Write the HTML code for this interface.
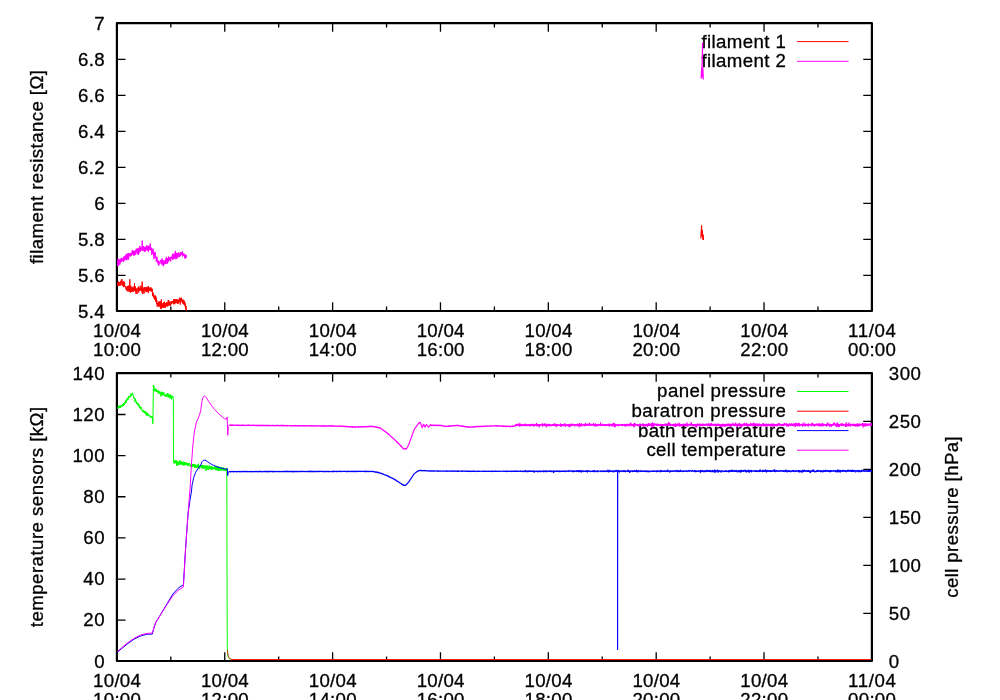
<!DOCTYPE html>
<html lang="en"><head><meta charset="utf-8"><title>filament resistance / temperature sensors</title>
<style>html,body{margin:0;padding:0;background:#fff;overflow:hidden}svg{display:block}text{font-family:"Liberation Sans", Arial, Helvetica, sans-serif;font-size:18.67px;fill:#000;stroke:#000;stroke-width:0.3px}</style>
</head><body>
<svg width="1000" height="700" viewBox="0 0 1000 700">
<rect width="1000" height="700" fill="#fff"/>
<g id="plot1">
<path d="M116.9 311.3h8.6M871.9 311.3h-8.6M116.9 275.31h8.6M871.9 275.31h-8.6M116.9 239.31h8.6M871.9 239.31h-8.6M116.9 203.32h8.6M871.9 203.32h-8.6M116.9 167.33h8.6M871.9 167.33h-8.6M116.9 131.33h8.6M871.9 131.33h-8.6M116.9 95.34h8.6M871.9 95.34h-8.6M116.9 59.34h8.6M871.9 59.34h-8.6M116.9 23.35h8.6M871.9 23.35h-8.6M116.9 311v-8.8M116.9 23.05v8.8M170.83 311v-4.5M170.83 23.05v4.5M224.76 311v-8.8M224.76 23.05v8.8M278.69 311v-4.5M278.69 23.05v4.5M332.61 311v-8.8M332.61 23.05v8.8M386.54 311v-4.5M386.54 23.05v4.5M440.47 311v-8.8M440.47 23.05v8.8M494.4 311v-4.5M494.4 23.05v4.5M548.33 311v-8.8M548.33 23.05v8.8M602.26 311v-4.5M602.26 23.05v4.5M656.19 311v-8.8M656.19 23.05v8.8M710.11 311v-4.5M710.11 23.05v4.5M764.04 311v-8.8M764.04 23.05v8.8M817.97 311v-4.5M817.97 23.05v4.5M871.9 311v-8.8M871.9 23.05v8.8" stroke="#000" stroke-width="1.3" fill="none"/>
<rect x="116.9" y="23.05" width="755" height="287.95" fill="none" stroke="#000" stroke-width="2.2" stroke-linejoin="round"/>
<text x="104.6" y="317.6" text-anchor="end" textLength="26.7">5.4</text>
<text x="104.6" y="281.61" text-anchor="end" textLength="26.7">5.6</text>
<text x="104.6" y="245.61" text-anchor="end" textLength="26.7">5.8</text>
<text x="104.6" y="209.62" text-anchor="end">6</text>
<text x="104.6" y="173.62" text-anchor="end" textLength="26.7">6.2</text>
<text x="104.6" y="137.63" text-anchor="end" textLength="26.7">6.4</text>
<text x="104.6" y="101.64" text-anchor="end" textLength="26.7">6.6</text>
<text x="104.6" y="65.64" text-anchor="end" textLength="26.7">6.8</text>
<text x="104.6" y="29.65" text-anchor="end">7</text>
<text x="117" y="336.8" text-anchor="middle" textLength="47.8">10/04</text>
<text x="117" y="356" text-anchor="middle" textLength="47.8">10:00</text>
<text x="224.86" y="336.8" text-anchor="middle" textLength="47.8">10/04</text>
<text x="224.86" y="356" text-anchor="middle" textLength="47.8">12:00</text>
<text x="332.71" y="336.8" text-anchor="middle" textLength="47.8">10/04</text>
<text x="332.71" y="356" text-anchor="middle" textLength="47.8">14:00</text>
<text x="440.57" y="336.8" text-anchor="middle" textLength="47.8">10/04</text>
<text x="440.57" y="356" text-anchor="middle" textLength="47.8">16:00</text>
<text x="548.43" y="336.8" text-anchor="middle" textLength="47.8">10/04</text>
<text x="548.43" y="356" text-anchor="middle" textLength="47.8">18:00</text>
<text x="656.29" y="336.8" text-anchor="middle" textLength="47.8">10/04</text>
<text x="656.29" y="356" text-anchor="middle" textLength="47.8">20:00</text>
<text x="764.14" y="336.8" text-anchor="middle" textLength="47.8">10/04</text>
<text x="764.14" y="356" text-anchor="middle" textLength="47.8">22:00</text>
<text x="872" y="336.8" text-anchor="middle" textLength="47.8">11/04</text>
<text x="872" y="356" text-anchor="middle" textLength="47.8">00:00</text>
<text transform="translate(43.3 167.03) rotate(-90)" text-anchor="middle" textLength="194.0" lengthAdjust="spacing">filament resistance [Ω]</text>
<text x="785.9" y="47.5" text-anchor="end" textLength="84.5" lengthAdjust="spacing">filament 1</text>
<path d="M797 41.6H848.5" stroke="#ff0000" stroke-width="1" fill="none"/>
<polyline points="117.5,284.19 117.62,285.36 117.74,283 117.86,284.09 117.98,286.04 118.1,284.72 118.22,281.6 118.34,285.58 118.46,281.45 118.58,281.31 118.7,284.53 118.82,283.91 118.94,284.43 119.06,284.51 119.18,284.71 119.3,285.68 119.42,283.16 119.54,283.48 119.66,282.88 119.78,282.01 119.9,282.2 120.02,283.82 120.14,283.45 120.26,285.41 120.38,283.1 120.5,281.9 120.62,280.81 120.74,284.42 120.86,285.35 120.98,283.57 121.1,283.92 121.22,281.9 121.34,281.27 121.46,281.92 121.58,280.38 121.7,283.19 121.82,279.89 121.94,279.02 122.06,281.38 122.18,284.86 122.3,283.81 122.42,284.24 122.54,284.49 122.66,284.66 122.78,285.44 122.9,284.88 123.02,285.51 123.14,281.38 123.26,282.31 123.38,287.1 123.5,285.17 123.62,285.81 123.74,282.16 123.86,284.36 123.98,281.52 124.1,283.66 124.22,283.61 124.34,283.89 124.46,286.25 124.58,282.56 124.7,285.28 124.82,286.45 124.94,287.13 125.06,286.7 125.18,286.41 125.3,286.51 125.42,286.38 125.54,286.99 125.66,287.54 125.78,287.89 125.9,289.24 126.02,289.28 126.14,286.53 126.26,287.37 126.38,287.13 126.5,290.5 126.62,289.47 126.74,287.1 126.86,289.73 126.98,288.23 127.1,287.58 127.22,286.92 127.34,288.46 127.46,286.34 127.58,288.88 127.7,291.37 127.82,289.61 127.94,285.91 128.06,287.29 128.18,288.72 128.3,288.75 128.42,290.3 128.54,285.62 128.66,290.5 128.78,288.63 128.9,290.32 129.02,290.2 129.14,291.82 129.26,287.46 129.38,290.1 129.5,287.93 129.62,286.83 129.74,288.81 129.8,279.3 129.86,289.94 129.98,291.14 130.1,285.74 130.22,292.23 130.34,288.96 130.46,291.82 130.58,292.62 130.7,291.87 130.82,285.82 130.94,288.99 131.06,289.54 131.18,288.65 131.3,288.22 131.42,291.87 131.54,287.64 131.66,289.48 131.78,290.94 131.9,289.06 132.02,290.21 132.14,287.76 132.26,290.35 132.38,291.44 132.5,288.87 132.62,291.51 132.74,286.81 132.86,290.65 132.98,291.4 133.1,288.91 133.22,291.52 133.34,291.41 133.46,291.07 133.58,290.07 133.7,287.91 133.82,291.28 133.94,288.9 134.06,287.35 134.18,289.61 134.3,286.02 134.42,290.32 134.5,283 134.54,290.96 134.66,289.36 134.78,290.27 134.9,289.07 135.02,290.87 135.14,290.32 135.26,290.52 135.38,286.47 135.5,289.32 135.62,289.05 135.74,290.55 135.86,293.68 135.98,292.82 136.1,289.61 136.22,288.35 136.34,289.66 136.46,289.74 136.58,289.49 136.7,291.23 136.82,289.96 136.94,294.07 137.06,291.62 137.18,290.79 137.3,290.57 137.42,289.69 137.54,290.64 137.66,290.32 137.78,288.68 137.9,287.56 138.02,288.73 138.14,289.16 138.26,288.24 138.38,287.89 138.5,287.65 138.62,292.71 138.74,291.1 138.86,286.34 138.98,288.6 139.1,288.64 139.22,289.6 139.34,290.82 139.46,290.13 139.58,289.88 139.7,288.48 139.82,289.62 139.94,290.05 140.06,289.59 140.18,287.79 140.3,290.5 140.42,289.5 140.54,286.77 140.66,289.9 140.78,288.07 140.9,285.59 141.02,289.19 141.14,287.61 141.26,290.59 141.38,290.08 141.5,289.77 141.62,290.75 141.74,291.44 141.86,288.07 141.98,289.33 142.1,291.51 142.2,281.6 142.22,289.44 142.34,293.84 142.46,289.89 142.58,293.88 142.7,291.28 142.82,289.71 142.94,289.2 143.06,291.47 143.18,289.27 143.3,289.9 143.42,289.84 143.54,291.7 143.66,288.18 143.78,287.44 143.9,287.41 144.02,293.63 144.14,289.21 144.26,289.11 144.38,287.66 144.5,287.59 144.62,287.56 144.74,289.14 144.86,290.38 144.98,287.5 145.1,288.96 145.22,288.27 145.34,288.85 145.46,289.89 145.58,287.74 145.7,287.67 145.82,292.12 145.94,289.3 146.06,286.94 146.18,288.7 146.3,289.18 146.42,289.81 146.54,289.89 146.66,291.66 146.78,287.77 146.9,290.34 147.02,287.39 147.14,287.53 147.26,288.99 147.38,291.67 147.5,289.58 147.62,289.05 147.74,288.13 147.86,286.72 147.98,287.2 148.1,289.33 148.22,290.3 148.34,293.1 148.46,286.02 148.58,289.62 148.7,288.72 148.82,289.92 148.94,288.04 149.06,288.36 149.18,290.77 149.3,290.95 149.42,288.41 149.54,287.61 149.66,288.84 149.78,288.71 149.9,288.39 150.02,289.49 150.14,288.69 150.26,288.54 150.38,291.27 150.5,291.09 150.62,288.19 150.74,290.05 150.86,287.25 150.98,287.71 151.1,289.21 151.22,289.05 151.34,290.27 151.46,289.01 151.58,290.38 151.7,291.58 151.82,291.32 151.94,288.7 152.06,288.69 152.18,290.67 152.3,289.23 152.42,292.92 152.54,295.92 152.66,293.87 152.78,292.34 152.9,294.53 153.02,293.59 153.14,296.4 153.26,293.64 153.38,295.32 153.5,296.61 153.62,294.34 153.74,297.43 153.86,295.9 153.98,297.43 154.1,297.24 154.22,296.6 154.34,299.04 154.46,295.81 154.58,298.33 154.7,297.43 154.82,298.47 154.94,299.57 155.06,299.84 155.18,299.02 155.3,300.25 155.42,295.52 155.54,300.84 155.66,300.18 155.78,300.08 155.9,296.62 156.02,300.89 156.14,302.23 156.26,298.25 156.38,302.02 156.5,302.15 156.62,304.2 156.74,301.15 156.86,300.37 156.98,303.12 157.1,303.23 157.22,306.67 157.34,304.19 157.46,304.48 157.58,304.32 157.7,304.33 157.82,303.1 157.94,304.74 158.06,303.47 158.18,305.76 158.3,305.46 158.42,302.93 158.54,306.6 158.66,303.6 158.78,301.85 158.9,304.31 159.02,302.51 159.14,301.19 159.26,303.51 159.38,305.85 159.5,305.23 159.62,301.99 159.74,305.89 159.86,304.31 159.98,305.09 160.1,307.3 160.22,303.65 160.34,304.74 160.46,302.77 160.58,301.42 160.7,305.82 160.82,309.06 160.94,306.38 161.06,305.52 161.18,304.36 161.3,299.49 161.42,306.51 161.54,308.52 161.66,304.31 161.78,303.8 161.9,305.24 162.02,305.32 162.14,306.04 162.26,305.06 162.38,303.47 162.5,307.68 162.62,307.12 162.74,305.98 162.86,306 162.98,306.92 163.1,303.06 163.22,307.12 163.34,306.17 163.46,305.76 163.58,305.62 163.7,302.29 163.82,307.89 163.94,305.2 164.06,302.23 164.18,306.9 164.3,303.12 164.42,302.77 164.54,301.61 164.66,306.15 164.78,305.46 164.9,307.12 165.02,306.55 165.14,307.96 165.26,305.59 165.38,303.06 165.5,303.37 165.62,307.26 165.74,305.1 165.86,303.82 165.98,303.63 166.1,304.47 166.22,306.13 166.34,304.73 166.46,302.26 166.58,304.75 166.7,302.75 166.82,305.74 166.94,305.93 167.06,302.59 167.18,303.92 167.3,306.42 167.42,304.76 167.54,305.47 167.66,305.85 167.78,302.83 167.9,306.08 168.02,304.04 168.14,301.28 168.26,300 168.38,305.27 168.5,301.15 168.62,303.66 168.74,304.61 168.86,300.58 168.98,301.89 169.1,302.5 169.22,304.02 169.34,305.28 169.46,304.86 169.58,302.88 169.7,304.08 169.82,301.5 169.94,301.97 170.06,302.16 170.18,305.36 170.3,304 170.42,305.86 170.54,304.37 170.66,303.99 170.78,303.79 170.9,303.45 171.02,302.6 171.14,304.17 171.26,301.41 171.38,302.12 171.5,304.2 171.62,302.6 171.74,302.64 171.86,302.71 171.98,303.21 172.1,300.99 172.22,302.57 172.34,302.62 172.46,302.93 172.58,301.94 172.7,301.37 172.82,302.2 172.94,302.87 173.06,301.8 173.18,303.14 173.3,301.85 173.42,303.84 173.54,301.71 173.66,299.31 173.78,304.15 173.9,303.37 174.02,304.2 174.14,303.5 174.26,299.27 174.38,300.14 174.5,302.81 174.62,301.67 174.74,304.16 174.86,299.06 174.98,300.48 175.1,303.07 175.22,302.89 175.34,300.81 175.46,302.91 175.58,300.36 175.7,299.8 175.82,299.87 175.94,299.93 176.06,301.48 176.18,299.37 176.3,301.72 176.42,301.55 176.54,299.2 176.66,301.63 176.78,303.17 176.9,302.15 177.02,302.61 177.14,301.42 177.26,302.82 177.38,303.09 177.5,301.08 177.62,299.66 177.74,304.02 177.86,299.59 177.98,301.04 178.1,300.22 178.22,302.28 178.34,303.25 178.46,301.52 178.58,301.79 178.7,300.11 178.82,302.12 178.94,300.58 179.06,301.01 179.18,300.88 179.3,299.47 179.42,297.79 179.54,299.55 179.66,297.96 179.78,299.19 179.9,302.12 180.02,299.73 180.14,299.33 180.26,304.61 180.38,299.87 180.5,297.94 180.62,302.45 180.74,300.47 180.86,301.66 180.98,299.29 181.1,299.89 181.22,299.43 181.34,297.69 181.46,300.35 181.58,300.01 181.7,300.68 181.82,301.1 181.94,300.97 182.06,299.24 182.18,299.71 182.3,302.89 182.42,303.33 182.54,302.52 182.66,302.05 182.78,299.86 182.9,301.72 183.02,299.75 183.14,300.67 183.26,303.76 183.38,300.48 183.5,303.5 183.62,302.26 183.74,304.43 183.86,302.96 183.98,303.06 184.1,302.27 184.22,300.66 184.34,303.2 184.46,303.17 184.58,305.27 184.7,304.89 184.82,302.24 184.94,305.03 185.06,303.65 185.18,305.9 185.3,306.89 185.42,305.14 185.54,309.14 185.66,306.91 185.78,306.35 185.9,308.39 186.02,306.39 186.14,309.73 186.26,308.75 186.38,309.27 186.5,310.87" fill="none" stroke="#ff0000" stroke-width="1" stroke-linejoin="round" />
<polyline points="700.8,238.5 701.2,232 701.6,225.5 701.9,236 702.4,230.5 702.8,239.5 703.3,235 703.5,240" fill="none" stroke="#ff0000" stroke-width="1.1" stroke-linejoin="round" />
<text x="785.9" y="67.2" text-anchor="end" textLength="84.5" lengthAdjust="spacing">filament 2</text>
<path d="M797 61.3H848.5" stroke="#ff00ff" stroke-width="1" fill="none"/>
<polyline points="117.5,262.97 117.62,261.5 117.74,263.09 117.86,266.26 117.98,260.44 118.1,258.79 118.22,261.53 118.34,259.48 118.46,261.16 118.58,261.73 118.7,265.35 118.82,263.82 118.94,264.98 119.06,264.3 119.18,262.4 119.3,261.95 119.42,260.94 119.54,259.24 119.66,259.71 119.78,263.8 119.9,264.44 120.02,262.71 120.14,262.19 120.26,261.94 120.38,262.87 120.5,258.72 120.62,260.14 120.74,259.99 120.86,260.93 120.98,259.73 121.1,261.96 121.22,260.82 121.34,259.63 121.46,261.54 121.58,261.75 121.7,258.57 121.82,257.74 121.94,261.28 122.06,259.04 122.18,259.79 122.3,259.58 122.42,259.02 122.54,259.97 122.66,259.73 122.78,259.97 122.9,258.62 123.02,260.14 123.14,258.37 123.26,259.93 123.38,261.73 123.5,258.8 123.62,258.66 123.74,259.61 123.86,256.83 123.98,256.29 124.1,260.94 124.22,259.87 124.34,258.89 124.46,257.09 124.58,258.56 124.7,256.59 124.82,258.91 124.94,257.46 125.06,257.11 125.18,259.51 125.3,256.17 125.42,255.51 125.54,259.03 125.66,254.68 125.78,258.63 125.9,256.98 126.02,260.06 126.14,258.3 126.26,258.55 126.38,258.24 126.5,258.62 126.62,257.23 126.74,256.53 126.86,253.75 126.98,260.17 127.1,256.07 127.22,257.39 127.34,257.32 127.46,258.35 127.58,257.38 127.7,254.3 127.82,255.74 127.94,256.73 128.06,256.26 128.18,252.89 128.3,256.3 128.42,254.56 128.54,258.18 128.6,259.5 128.66,254.2 128.78,255.04 128.9,253.87 129.02,255.37 129.14,255.27 129.26,255.21 129.38,253.46 129.5,253.44 129.62,256.13 129.74,256.36 129.86,254.94 129.98,253.88 130.1,256.42 130.22,254.24 130.34,254.83 130.46,254.28 130.58,254.85 130.7,254.48 130.82,252.92 130.94,253.1 131.06,254.43 131.18,253.94 131.3,253.05 131.42,255.93 131.54,254.22 131.66,254.09 131.78,254.38 131.9,253.68 132.02,252.67 132.14,253.81 132.26,250.15 132.38,254.38 132.5,252.29 132.62,254.21 132.74,250.78 132.86,252.53 132.98,253.08 133.1,251.54 133.22,251.11 133.34,252.75 133.46,255.17 133.58,251.25 133.7,255.56 133.82,252.98 133.94,251.74 134.06,252.64 134.18,253.98 134.3,250.68 134.42,253.65 134.54,255.42 134.66,251.16 134.78,254.77 134.9,250.81 135.02,252.12 135.14,252.03 135.26,251.49 135.38,251.08 135.5,252.3 135.62,254.7 135.74,254.22 135.86,250.23 135.98,249.62 136.1,249.98 136.22,252.41 136.34,248.67 136.46,249.01 136.58,251.04 136.7,250.31 136.82,251.02 136.94,250.84 137.06,251.37 137.18,249.42 137.3,251.35 137.42,254.27 137.54,251.28 137.66,249.55 137.78,248.41 137.9,251.62 138.02,250.8 138.14,253.07 138.26,251.25 138.38,248.62 138.5,254.72 138.62,251.05 138.74,250.41 138.86,248.93 138.98,253.27 139.1,247.81 139.22,250.03 139.34,248.62 139.46,251.33 139.58,251.09 139.7,248.84 139.82,245.88 139.94,250 140.06,249.45 140.18,251.3 140.3,248.18 140.42,247.88 140.54,251.45 140.66,248.56 140.78,250.87 140.9,249.83 141.02,248.2 141.14,247.33 141.26,247.97 141.38,248.09 141.5,249.08 141.62,248.49 141.74,249.51 141.86,248.66 141.98,249.89 142.1,245.8 142.2,240.6 142.22,250.53 142.34,246.76 142.46,248.73 142.58,250.85 142.7,246.91 142.82,246.34 142.94,250.02 143.06,249.42 143.18,250.73 143.3,248.36 143.42,246.04 143.54,247.13 143.66,248.55 143.78,249.56 143.9,246.59 144.02,249.38 144.14,249.81 144.26,248.99 144.38,251.66 144.5,249.4 144.62,249.3 144.74,249.57 144.86,250.68 144.98,247.04 145.1,248.62 145.22,247.34 145.34,251.53 145.46,248.47 145.58,247.31 145.7,246.63 145.82,248.89 145.94,248.05 146.06,250.42 146.18,249.54 146.3,248.58 146.42,248.16 146.54,247.57 146.66,247.16 146.78,249.81 146.9,245.17 147.02,248.77 147.14,249.45 147.26,249.57 147.38,247.62 147.5,249.94 147.62,246.98 147.74,250.05 147.86,247.85 147.98,251.15 148.1,246.02 148.22,246.94 148.34,249.81 148.46,251.73 148.58,249.59 148.7,247.64 148.82,248.22 148.94,247.35 149.06,245.51 149.18,246.05 149.3,247.79 149.42,249.79 149.54,248.24 149.66,247.65 149.78,248.94 149.9,249.15 150.02,246.97 150.14,248.84 150.2,243.5 150.26,247.51 150.38,250.11 150.5,247.36 150.62,249.03 150.74,249.6 150.86,247.28 150.98,250.18 151.1,248.89 151.22,249.23 151.34,250.86 151.46,250.72 151.58,248.35 151.7,248.96 151.82,254.81 151.94,251.3 152.06,249.38 152.18,250.25 152.3,253.58 152.42,250.34 152.54,251.47 152.66,252.16 152.78,252.41 152.9,252.46 153.02,248.69 153.14,253.69 153.26,251.61 153.38,252.23 153.5,253.31 153.62,255.7 153.74,253.09 153.86,252.66 153.98,259.1 154.1,253.39 154.22,254.59 154.34,256.33 154.46,255.3 154.58,254.81 154.7,252.61 154.82,251.92 154.94,255.94 155.06,252.23 155.18,253.95 155.3,254.94 155.42,256.56 155.54,257.62 155.66,257.05 155.78,258.07 155.9,257.16 156.02,256.54 156.14,258.46 156.26,261.63 156.38,259.27 156.5,259.7 156.62,259.79 156.74,256.86 156.86,259.75 156.98,257.5 157.1,259.43 157.22,260.07 157.34,261.71 157.46,262.47 157.58,260.83 157.7,261.37 157.82,261.42 157.94,262.32 158.06,264.24 158.18,264.01 158.3,260.74 158.42,260.52 158.54,261.62 158.66,262.94 158.78,265.71 158.9,262.06 159.02,262.54 159.14,261.77 159.26,262.39 159.38,262.06 159.5,262.16 159.62,262.18 159.74,262.77 159.86,263.67 159.98,261.31 160.1,261.72 160.22,261.85 160.34,261.07 160.46,260.65 160.58,260.92 160.7,260.19 160.82,260.47 160.94,262.27 161.06,262.66 161.18,262 161.3,261.57 161.42,263.85 161.54,259.42 161.66,263.64 161.78,261.13 161.9,263.28 162.02,264.88 162.14,258.54 162.26,263.66 162.38,261.29 162.5,262.02 162.62,263.03 162.74,261.05 162.86,262.1 162.98,261.53 163.1,260.18 163.22,262.16 163.34,266.25 163.46,262.64 163.58,263.07 163.7,262.83 163.82,264.14 163.94,263.51 164.06,260.37 164.18,260.78 164.3,264.53 164.42,263.84 164.54,263.17 164.66,263.08 164.78,262.89 164.9,262.79 165.02,262.18 165.14,260.85 165.26,263.01 165.38,263.99 165.5,258.67 165.62,262.77 165.74,263.83 165.86,260.18 165.98,260.25 166.1,262.54 166.22,263.51 166.34,259.41 166.46,256.88 166.58,260.39 166.7,258.77 166.82,261.77 166.94,262.19 167.06,261.31 167.18,263.24 167.3,263.72 167.42,258.46 167.54,258.19 167.66,262.53 167.78,260.73 167.9,259.88 168.02,262.09 168.14,260.05 168.26,261.94 168.38,259.62 168.5,261.21 168.62,256.5 168.74,257.53 168.86,257.77 168.98,260.06 169.1,260.49 169.22,260.5 169.34,259.49 169.46,260.09 169.58,257.74 169.7,257.96 169.82,258.79 169.94,257.44 170.06,257.76 170.18,259.32 170.3,257.42 170.42,258.81 170.54,256.96 170.66,261.36 170.78,257.45 170.9,258.77 171.02,258.77 171.14,257.65 171.26,257.98 171.38,258.67 171.5,258.33 171.62,257.57 171.74,258.21 171.86,257.29 171.98,257.16 172.1,256.12 172.22,255.43 172.34,257.68 172.46,255.14 172.58,258.29 172.7,256.99 172.82,260.05 172.94,253.57 173.06,257.67 173.18,258.23 173.3,254.31 173.42,255.74 173.54,257.89 173.66,255.73 173.78,258.54 173.9,257.9 174.02,254.09 174.14,257.61 174.26,258.25 174.38,256.34 174.5,256.55 174.62,258.51 174.74,254.22 174.86,253.55 174.98,258.21 175.1,254.86 175.22,255.77 175.34,250.9 175.46,255.03 175.58,255.71 175.7,254.81 175.82,253.91 175.94,259.28 176.06,257.35 176.18,256.93 176.3,253.03 176.42,254.43 176.54,253.77 176.66,256.61 176.78,252.84 176.9,255.11 177.02,258.57 177.14,255.14 177.26,257.41 177.38,253.92 177.5,256.64 177.62,254.22 177.74,253.35 177.86,255.04 177.98,253.63 178.1,253.47 178.22,254.69 178.34,254.58 178.46,252.8 178.58,257.11 178.7,252.72 178.82,253.47 178.94,253.44 179.06,254.16 179.18,256.6 179.3,254.41 179.42,255.88 179.54,256.57 179.66,255.18 179.78,255.88 179.9,254.3 180.02,253.49 180.14,252.84 180.26,256.17 180.38,253.74 180.5,254.48 180.62,252.66 180.74,255.03 180.86,255.17 180.98,252.12 181.1,252.51 181.22,252.49 181.34,254.1 181.46,252.08 181.58,252.39 181.7,255.09 181.82,254.1 181.94,252.52 182.06,253.07 182.18,254.1 182.3,253 182.42,251.45 182.54,254.19 182.66,256.5 182.78,254.19 182.9,254.15 183.02,253.74 183.14,253.45 183.26,253.29 183.38,254.44 183.5,255.85 183.62,254.19 183.74,253.62 183.86,253.28 183.98,255.3 184.1,255.48 184.22,255.18 184.34,255.76 184.46,255.7 184.58,254.5 184.7,255.17 184.82,256.8 184.94,254.97 185.06,258.76 185.18,255.53 185.3,257.81 185.42,257.13 185.54,257.23 185.66,256.25 185.78,254.61 185.9,255.71 186.02,257.92 186.14,257.42 186.26,255.59 186.38,255.46 186.5,256.42" fill="none" stroke="#ff00ff" stroke-width="1" stroke-linejoin="round" />
<polyline points="702.6,42.5 702.4,55 702,66 701.2,78 701.6,70 702.2,76 702.8,68 703.3,79.5" fill="none" stroke="#ff00ff" stroke-width="1.3" stroke-linejoin="round" />
</g>
<g id="plot2">
<path d="M116.9 661.3h8.6M116.9 620.16h8.6M116.9 579.03h8.6M116.9 537.89h8.6M116.9 496.76h8.6M116.9 455.62h8.6M116.9 414.49h8.6M116.9 373.35h8.6M871.9 661.3h-8.6M871.9 613.31h-8.6M871.9 565.32h-8.6M871.9 517.32h-8.6M871.9 469.33h-8.6M871.9 421.34h-8.6M871.9 373.35h-8.6M116.9 661v-8.8M116.9 373.05v8.8M170.83 661v-4.5M170.83 373.05v4.5M224.76 661v-8.8M224.76 373.05v8.8M278.69 661v-4.5M278.69 373.05v4.5M332.61 661v-8.8M332.61 373.05v8.8M386.54 661v-4.5M386.54 373.05v4.5M440.47 661v-8.8M440.47 373.05v8.8M494.4 661v-4.5M494.4 373.05v4.5M548.33 661v-8.8M548.33 373.05v8.8M602.26 661v-4.5M602.26 373.05v4.5M656.19 661v-8.8M656.19 373.05v8.8M710.11 661v-4.5M710.11 373.05v4.5M764.04 661v-8.8M764.04 373.05v8.8M817.97 661v-4.5M817.97 373.05v4.5M871.9 661v-8.8M871.9 373.05v8.8" stroke="#000" stroke-width="1.3" fill="none"/>
<rect x="116.9" y="373.05" width="755" height="287.95" fill="none" stroke="#000" stroke-width="2.2" stroke-linejoin="round"/>
<text x="104.6" y="667.6" text-anchor="end">0</text>
<text x="104.6" y="626.46" text-anchor="end" textLength="21.4">20</text>
<text x="104.6" y="585.33" text-anchor="end" textLength="21.4">40</text>
<text x="104.6" y="544.19" text-anchor="end" textLength="21.4">60</text>
<text x="104.6" y="503.06" text-anchor="end" textLength="21.4">80</text>
<text x="104.6" y="461.92" text-anchor="end" textLength="32.1">100</text>
<text x="104.6" y="420.79" text-anchor="end" textLength="32.1">120</text>
<text x="104.6" y="379.65" text-anchor="end" textLength="32.1">140</text>
<text x="888.8" y="667.6">0</text>
<text x="888.8" y="619.61" textLength="21.4">50</text>
<text x="888.8" y="571.62" textLength="32.1">100</text>
<text x="888.8" y="523.62" textLength="32.1">150</text>
<text x="888.8" y="475.63" textLength="32.1">200</text>
<text x="888.8" y="427.64" textLength="32.1">250</text>
<text x="888.8" y="379.65" textLength="32.1">300</text>
<text x="117" y="686.8" text-anchor="middle" textLength="47.8">10/04</text>
<text x="117" y="706" text-anchor="middle" textLength="47.8">10:00</text>
<text x="224.86" y="686.8" text-anchor="middle" textLength="47.8">10/04</text>
<text x="224.86" y="706" text-anchor="middle" textLength="47.8">12:00</text>
<text x="332.71" y="686.8" text-anchor="middle" textLength="47.8">10/04</text>
<text x="332.71" y="706" text-anchor="middle" textLength="47.8">14:00</text>
<text x="440.57" y="686.8" text-anchor="middle" textLength="47.8">10/04</text>
<text x="440.57" y="706" text-anchor="middle" textLength="47.8">16:00</text>
<text x="548.43" y="686.8" text-anchor="middle" textLength="47.8">10/04</text>
<text x="548.43" y="706" text-anchor="middle" textLength="47.8">18:00</text>
<text x="656.29" y="686.8" text-anchor="middle" textLength="47.8">10/04</text>
<text x="656.29" y="706" text-anchor="middle" textLength="47.8">20:00</text>
<text x="764.14" y="686.8" text-anchor="middle" textLength="47.8">10/04</text>
<text x="764.14" y="706" text-anchor="middle" textLength="47.8">22:00</text>
<text x="872" y="686.8" text-anchor="middle" textLength="47.8">11/04</text>
<text x="872" y="706" text-anchor="middle" textLength="47.8">00:00</text>
<text transform="translate(43.3 517.02) rotate(-90)" text-anchor="middle" textLength="220.4" lengthAdjust="spacing">temperature sensors [kΩ]</text>
<text transform="translate(957.5 517.02) rotate(-90)" text-anchor="middle" textLength="161.5" lengthAdjust="spacing">cell pressure [hPa]</text>
<text x="785.9" y="397.4" text-anchor="end" textLength="128.8" lengthAdjust="spacing">panel pressure</text>
<path d="M797 391.5H848.5" stroke="#00ff00" stroke-width="1" fill="none"/>
<polyline points="117.5,408.59 117.63,408.19 117.76,407.91 117.89,408.16 118.02,407.57 118.15,407.03 118.28,406.2 118.41,408.41 118.54,407.65 118.67,405.79 118.8,407.51 118.93,406.87 119.06,407.07 119.19,407.21 119.32,406.48 119.45,405.88 119.58,406.35 119.71,407.35 119.84,406.03 119.97,405.6 120.1,406.52 120.23,407.89 120.36,405.73 120.49,407.13 120.62,406.36 120.75,406.47 120.88,407.1 121.01,405.35 121.14,405.86 121.27,405.63 121.4,406.19 121.53,405.8 121.66,405.82 121.79,406.14 121.92,405.31 122.05,405.53 122.18,404.91 122.31,406.23 122.44,405.78 122.57,406.39 122.7,403.94 122.83,404.43 122.96,404.81 123.09,405.48 123.22,404.25 123.35,403.74 123.48,405.64 123.61,404.08 123.74,404.02 123.87,403.16 124,405.03 124.13,403.85 124.26,403.13 124.39,403.01 124.52,403.02 124.65,403.22 124.78,402.83 124.91,402.05 125.04,403.47 125.17,401.6 125.3,403.08 125.43,402.53 125.56,400.81 125.69,402.41 125.82,401.77 125.95,400.79 126.08,402.71 126.21,402 126.34,399.34 126.47,401.52 126.6,400.13 126.73,399.27 126.86,400.77 126.99,399.19 127.12,399.72 127.25,399.88 127.38,399.4 127.51,398.75 127.64,397.63 127.77,399.05 127.9,399.9 128.03,399.76 128.16,399.8 128.29,398.83 128.42,398.54 128.55,397.63 128.68,396.11 128.81,397.27 128.94,397.06 129.07,396.79 129.2,397.34 129.33,397.43 129.46,396.52 129.59,397.43 129.72,396.86 129.85,397.11 129.98,397.1 130.11,397.05 130.24,395.73 130.37,395.34 130.5,395.71 130.63,396.39 130.76,393.7 130.89,395.85 131.02,394.78 131.15,395.57 131.28,395.28 131.41,394.59 131.54,394.15 131.67,394.41 131.8,394.95 131.93,393.61 132.06,394.41 132.19,393.83 132.32,393.68 132.45,393.21 132.58,392.75 132.71,394.24 132.84,394.52 132.97,394.42 133.1,394.98 133.23,396.25 133.36,396.04 133.49,396.63 133.62,396.69 133.75,397.68 133.88,397.35 134.01,397.22 134.14,398.92 134.27,399.14 134.4,398.22 134.53,399.26 134.66,399.47 134.79,399.79 134.92,402.07 135.05,400.11 135.18,400.16 135.31,400.05 135.44,400.14 135.57,398.72 135.7,400.65 135.83,401.05 135.96,400.6 136.09,401.66 136.22,402.16 136.35,402.89 136.48,403.91 136.61,402.52 136.74,401.99 136.87,402.02 137,404.06 137.13,402.83 137.26,403.46 137.39,404.24 137.52,404 137.65,404.22 137.78,404.51 137.91,403.08 138.04,404.57 138.17,405.38 138.3,404.19 138.43,404.22 138.56,405.94 138.69,405.51 138.82,406.17 138.95,404.64 139.08,406.15 139.21,405.67 139.34,407.05 139.47,407.93 139.6,406.5 139.73,407.61 139.86,406.44 139.99,407.05 140.12,407.7 140.25,407.1 140.38,408.68 140.51,408.15 140.64,407.1 140.77,407.21 140.9,407.92 141.03,406.96 141.16,409.51 141.29,408.54 141.42,408.56 141.55,409.16 141.68,409.01 141.81,410.41 141.94,410.63 142.07,410.33 142.2,410.36 142.33,410.79 142.46,410.57 142.59,410.32 142.72,411.28 142.85,410.82 142.98,411.18 143.11,411.98 143.24,412.42 143.37,411.13 143.5,412.03 143.63,410.3 143.76,410.92 143.89,411.86 144.02,411.23 144.15,411.06 144.28,411.34 144.41,412.39 144.54,411.15 144.67,412.72 144.8,413.17 144.93,411.1 145.06,412.98 145.19,413.32 145.32,412 145.45,413.36 145.58,412.86 145.71,413.67 145.84,413.95 145.97,413.84 146.1,411.69 146.23,414.23 146.36,415.12 146.49,413.14 146.62,415.92 146.75,413.8 146.88,413.18 147.01,413.32 147.14,415.38 147.27,414.83 147.4,414 147.53,414.17 147.66,412.97 147.79,413.92 147.92,413.72 148.05,415 148.18,414.74 148.31,415.68 148.44,415.24 148.57,415.06 148.7,415.68 148.83,416.38 148.96,415.11 149.09,415.59 149.22,415.18 149.35,415.03 149.48,415.04 149.61,415.41 149.74,414.92 149.87,415.77 150,415.73 150.13,416.32 150.26,416.84 150.39,417.68 150.52,415.97 150.65,416.28 150.78,416.83 150.91,416.1 151.04,417.37 151.17,417.19 151.3,416.74 151.43,417.69 151.56,416.38 151.69,416.78 151.82,416.7 151.95,416.94 152.08,416.17 152.21,417.16 152.34,417.99 152.47,417.75 152.9,423.7 153.4,385 153.5,387.46 153.63,387.26 153.76,386.68 153.89,385.69 154.02,387.52 154.15,387.42 154.28,389.36 154.41,390.67 154.54,389.84 154.67,390.3 154.8,389.14 154.93,389.66 155.06,389.33 155.19,391.45 155.32,388.57 155.45,388.73 155.58,390.63 155.71,389.85 155.84,390.51 155.97,388.96 156.1,389.4 156.23,391.8 156.36,392.02 156.49,391.16 156.62,391.04 156.75,390.5 156.88,391.03 157.01,391.79 157.14,390.79 157.27,391.06 157.4,391.58 157.53,390.86 157.66,391.17 157.79,390.73 157.92,390.23 158.05,391.44 158.18,392.8 158.31,392.04 158.44,393.28 158.57,390.8 158.7,392.78 158.83,390.85 158.96,393.34 159.09,393.98 159.22,392.12 159.35,392.23 159.48,393.61 159.61,391.8 159.74,391.97 159.87,393.62 160,392.76 160.13,392.98 160.26,394.06 160.39,393.17 160.52,394 160.65,394.34 160.78,392.44 160.91,393.29 161.04,396.36 161.17,392.59 161.3,393.76 161.43,391.54 161.56,392.99 161.69,392.98 161.82,395.4 161.95,392.13 162.08,394.03 162.21,392.31 162.34,393.24 162.47,395.06 162.6,393.63 162.73,394.89 162.86,393.68 162.99,394.79 163.12,394.36 163.25,394.42 163.38,393.16 163.51,394.86 163.64,395.25 163.77,394.87 163.9,392.34 164.03,393.88 164.16,394.32 164.29,394.52 164.42,395.71 164.55,394.74 164.68,395.12 164.81,394.64 164.94,394.84 165.07,395.78 165.2,394.89 165.33,396.66 165.46,395.58 165.59,396.5 165.72,395.79 165.85,396.84 165.98,396.95 166.11,396.27 166.24,395.85 166.37,395.94 166.5,394.04 166.63,393.77 166.76,395.53 166.89,394.12 167.02,395.41 167.15,395.91 167.28,395.01 167.41,395.03 167.54,395.65 167.67,396.84 167.8,393.02 167.93,394.61 168.06,395.66 168.19,394.95 168.32,396.92 168.45,397.22 168.58,394.81 168.71,396.51 168.84,395.22 168.97,394.86 169.1,395.94 169.23,397.62 169.36,395.44 169.49,397.7 169.62,395.91 169.75,397.35 169.88,397.31 170.01,396.27 170.14,394.27 170.27,398.56 170.4,396.5 170.53,396.46 170.66,395.09 170.79,396.38 170.92,396.05 171.05,396.89 171.18,397.02 171.31,396.25 171.44,396.69 171.57,399.43 171.7,395.62 171.83,398.15 171.96,397.08 172.09,396.45 172.22,396.14 172.35,395.98 172.48,395.88 172.61,396.45 172.74,396.39 172.87,396.41 173,396.29 173.13,397.28 173.4,400 173.5,462 173.5,461.25 173.63,461.13 173.76,461.29 173.89,461.61 174.02,461.7 174.15,463.65 174.28,461.34 174.41,463.01 174.54,461.4 174.67,460.71 174.8,462.55 174.93,461.56 175.06,462.45 175.19,460.03 175.32,462.99 175.45,462.1 175.58,462.29 175.71,462.15 175.84,462.15 175.97,461.74 176.1,463.05 176.23,462.78 176.36,464.44 176.49,460.33 176.62,462.75 176.75,460.8 176.88,462.5 177.01,465.98 177.14,461.54 177.27,464.41 177.4,463.19 177.53,463.32 177.66,463.53 177.79,463.9 177.92,461.8 178.05,463.55 178.18,463.19 178.31,465.3 178.44,462.54 178.57,463.31 178.7,463.89 178.83,463.04 178.96,462.62 179.09,462.86 179.22,461.49 179.35,462.43 179.48,463.99 179.61,461.65 179.74,460.39 179.87,464.25 180,462.41 180.13,464.76 180.26,463.67 180.39,462.61 180.52,463.04 180.65,463.72 180.78,463.53 180.91,460.83 181.04,462.42 181.17,464.47 181.3,463.19 181.43,463.16 181.56,461.79 181.69,463.13 181.82,462.06 181.95,462.01 182.08,462.29 182.21,464.12 182.34,462.7 182.47,464.7 182.6,462.77 182.73,462.88 182.86,463.22 182.99,462.21 183.12,465 183.25,465.39 183.38,461.65 183.51,463.24 183.64,464.1 183.77,462.57 183.9,465.3 184.03,462.36 184.16,464.65 184.29,462.03 184.42,463.74 184.55,464.25 184.68,462.65 184.81,463.66 184.94,465.46 185.07,463.83 185.2,464.42 185.33,462.22 185.46,463.08 185.59,464.91 185.72,463.94 185.85,464.88 185.98,464.65 186.11,464.29 186.24,463.74 186.37,464.81 186.5,462.77 186.63,462.59 186.76,464.57 186.89,462.8 187.02,463.29 187.15,464.61 187.28,463.01 187.41,465.14 187.54,463.29 187.67,465.27 187.8,466.01 187.93,464.11 188.06,464.24 188.19,464.81 188.32,463.27 188.45,464.31 188.58,465.92 188.71,464.78 188.84,465.16 188.97,463.68 189.1,463.49 189.23,465.1 189.36,463.85 189.49,463.19 189.62,464.16 189.75,463.55 189.88,465.32 190.01,465.3 190.14,465.18 190.27,465.11 190.4,466.36 190.53,465.42 190.66,466.42 190.79,465.47 190.92,466.88 191.05,464.94 191.18,466.82 191.31,466.1 191.44,464.96 191.57,465.96 191.7,463.89 191.83,464.66 191.96,464.41 192.09,467.12 192.22,465.12 192.35,465.88 192.48,464.37 192.61,466.05 192.74,463.98 192.87,466.67 193,464.96 193.13,465.18 193.26,464.18 193.39,466.08 193.52,465.61 193.65,464.55 193.78,464.44 193.91,464.79 194.04,465.71 194.17,465.22 194.3,467.48 194.43,466.14 194.56,466.54 194.69,467.7 194.82,464 194.95,465.61 195.08,466.1 195.21,467.58 195.34,465.78 195.47,466.14 195.6,466.73 195.73,465.39 195.86,467.06 195.99,464.87 196.12,465.68 196.25,465.51 196.38,465.97 196.51,467.22 196.64,467.18 196.77,467.79 196.9,466.99 197.03,467.46 197.16,466.95 197.29,466.18 197.42,465.54 197.55,465.88 197.68,464.6 197.81,466.72 197.94,467.78 198.07,467.74 198.2,465.25 198.33,465.99 198.46,463.73 198.59,466.23 198.72,467.13 198.85,465.15 198.98,466.77 199.11,466.9 199.24,466.62 199.37,468.66 199.5,467.26 199.63,466.14 199.76,467.26 199.89,466.67 200.02,466.37 200.15,465.76 200.28,467.66 200.41,467.03 200.54,466.81 200.67,465.12 200.8,466.04 200.93,466.49 201.06,465.68 201.19,466.11 201.32,466.91 201.45,467.15 201.58,467.79 201.71,464.85 201.84,468.45 201.97,467.88 202.1,466.18 202.23,466.59 202.36,465.51 202.49,466.47 202.62,466.18 202.75,467.19 202.88,467.66 203.01,468.28 203.14,464.99 203.27,466.99 203.4,467.1 203.53,468.63 203.66,467.94 203.79,467.13 203.92,467.29 204.05,466.69 204.18,465.47 204.31,465.97 204.44,467.06 204.57,468.46 204.7,465.87 204.83,465.99 204.96,467.53 205.09,468.38 205.22,466.22 205.35,467.71 205.48,467.01 205.61,465.61 205.74,467.65 205.87,467.76 206,470.81 206.13,466.72 206.26,465.45 206.39,467.33 206.52,466.85 206.65,466.8 206.78,467.45 206.91,466.92 207.04,468.81 207.17,469.73 207.3,468.73 207.43,468.92 207.56,467.4 207.69,465.49 207.82,465.69 207.95,468.29 208.08,466.72 208.21,470.1 208.34,469.63 208.47,469.42 208.6,468.01 208.73,466.97 208.86,467.74 208.99,468.88 209.12,467.42 209.25,466.68 209.38,466.69 209.51,465.45 209.64,469.05 209.77,468.56 209.9,466.13 210.03,467.9 210.16,468.32 210.29,467.88 210.42,466.93 210.55,467.15 210.68,466.65 210.81,469.5 210.94,468.61 211.07,468.36 211.2,466.92 211.33,466.33 211.46,469.85 211.59,468.48 211.72,468.95 211.85,467.74 211.98,466.31 212.11,466.61 212.24,469.25 212.37,467.72 212.5,468.38 212.63,467.98 212.76,469.19 212.89,467.73 213.02,467.84 213.15,468.53 213.28,467.14 213.41,468.09 213.54,467.98 213.67,467.84 213.8,469.18 213.93,467.97 214.06,467.34 214.19,469.16 214.32,467.28 214.45,468.3 214.58,469.11 214.71,466.95 214.84,468.35 214.97,466.14 215.1,469.27 215.23,468.58 215.36,468.84 215.49,468.03 215.62,469.42 215.75,468.74 215.88,468.1 216.01,470.21 216.14,465.92 216.27,469.88 216.4,468.05 216.53,467.6 216.66,468.23 216.79,467.76 216.92,469.42 217.05,466.92 217.18,466.45 217.31,468.39 217.44,469.05 217.57,469.43 217.7,466.61 217.83,470.5 217.96,467.76 218.09,471.04 218.22,468.24 218.35,468.91 218.48,466.7 218.61,470.53 218.74,469.73 218.87,468.15 219,468.95 219.13,467.91 219.26,467.5 219.39,469.08 219.52,468.69 219.65,469.85 219.78,468.52 219.91,470.33 220.04,470.8 220.17,469.42 220.3,469.69 220.43,468.63 220.56,467.27 220.69,468.43 220.82,469.15 220.95,468.51 221.08,470.45 221.21,468.7 221.34,467.05 221.47,470.56 221.6,467.56 221.73,470.24 221.86,469.96 221.99,468.14 222.12,469.54 222.25,468.77 222.38,468.05 222.51,469.76 222.64,468.19 222.77,468.64 222.9,470.19 223.03,467.63 223.16,468.34 223.29,467.64 223.42,470.59 223.55,468.18 223.68,469.62 223.81,468.85 223.94,468.6 224.07,468.71 224.2,469.64 224.33,468.53 224.46,470.6 224.59,470.18 224.72,468.27 224.85,470.58 224.98,469.29 225.11,469.42 225.24,469.3 225.37,469.73 225.5,469.48 225.63,469.11 225.76,469.64 225.89,470.87 226.02,468.75 226.15,469.13 226.28,470.46 226.41,467.84 226.54,469.51 226.67,469.23 226.8,470.86 227.1,600 227.3,650 227.8,656 229,658.3 231,659.2" fill="none" stroke="#00ff00" stroke-width="1" stroke-linejoin="round" />
<text x="785.9" y="417.1" text-anchor="end" textLength="154.4" lengthAdjust="spacing">baratron pressure</text>
<path d="M797 411.2H848.5" stroke="#ff0000" stroke-width="1" fill="none"/>
<polyline points="227.5,650 227.9,654 228.6,657 229.8,658.7 232,659.45" fill="none" stroke="#ff0000" stroke-width="1.0" stroke-linejoin="round" stroke-opacity="0.75"/>
<path d="M231.5 659.55H871" stroke="#ff0000" stroke-width="0.95" fill="none"/>
<text x="785.9" y="436.5" text-anchor="end" textLength="148.0" lengthAdjust="spacing">bath temperature</text>
<path d="M797 430.6H848.5" stroke="#0000ff" stroke-width="1" fill="none"/>
<polyline points="117.4,652.2 122.7,647.7 127.9,643.5 134.3,639 140.7,635.9 147.2,634.3 152.3,634.1 154.2,627 155.9,622.3 160,615.5 166.4,604.8 172.9,594 178,588.4 181,586.2 183.4,584.9 185.4,551 188,514 190,500 191.4,492 192.1,485 193.6,477.9 195.7,472.1 198.6,467.9 200.7,465 202.1,461.6 203,460.6 203.8,460.2 205,460.1 206,460.5 207.1,461.4 211.4,464.3 217.1,466.9 222.9,468.6 226.9,469.3 227.4,468.6 227.7,475.7 228.2,472.2 229,471.6" fill="none" stroke="#0000ff" stroke-width="1.0" stroke-linejoin="round" />
<polyline points="229,471.6 229.5,471.66 229.64,471.48 229.78,471.68 229.92,471.87 230.06,471.31 230.2,471.43 230.34,471.91 230.48,471.69 230.62,471.7 230.76,471.49 230.9,471.63 231.04,471.58 231.18,471.67 231.32,471.52 231.46,471.63 231.6,471.58 231.74,471.75 231.88,471.59 232.02,471.3 232.16,471.59 232.3,471.55 232.44,471.72 232.58,471.45 232.72,471.55 232.86,471.65 233,471.58 233.14,471.63 233.28,471.77 233.42,471.47 233.56,471.65 233.7,471.64 233.84,471.86 233.98,471.58 234.12,471.62 234.26,471.54 234.4,471.51 234.54,471.59 234.68,471.75 234.82,471.49 234.96,471.41 235.1,471.67 235.24,471.63 235.38,471.54 235.52,471.49 235.66,471.53 235.8,471.62 235.94,471.46 236.08,471.55 236.22,471.58 236.36,471.69 236.5,471.5 236.64,471.6 236.78,471.85 236.92,471.54 237.06,471.55 237.2,471.44 237.34,471.5 237.48,471.76 237.62,471.67 237.76,471.44 237.9,471.69 238.04,471.48 238.18,471.44 238.32,471.72 238.46,471.5 238.6,471.67 238.74,471.58 238.88,471.66 239.02,471.43 239.16,471.86 239.3,471.77 239.44,471.67 239.58,471.61 239.72,471.45 239.86,471.34 240,471.58 240.14,471.65 240.28,471.84 240.42,471.78 240.56,471.61 240.7,471.52 240.84,471.64 240.98,471.34 241.12,471.67 241.26,471.46 241.4,471.47 241.54,471.47 241.68,471.72 241.82,471.63 241.96,471.78 242.1,471.59 242.24,471.63 242.38,471.46 242.52,471.62 242.66,471.7 242.8,471.47 242.94,471.55 243.08,471.72 243.22,471.39 243.36,471.51 243.5,471.77 243.64,471.78 243.78,471.55 243.92,471.72 244.06,471.7 244.2,471.46 244.34,471.61 244.48,471.75 244.62,471.48 244.76,471.68 244.9,471.42 245.04,471.65 245.18,471.47 245.32,471.7 245.46,471.53 245.6,471.54 245.74,471.68 245.88,471.26 246.02,471.69 246.16,471.59 246.3,471.35 246.44,471.56 246.58,471.67 246.72,471.61 246.86,471.82 247,471.6 247.14,471.37 247.28,471.52 247.42,471.56 247.56,471.49 247.7,471.49 247.84,471.65 247.98,471.7 248.12,471.69 248.26,471.53 248.4,471.62 248.54,471.56 248.68,471.59 248.82,471.56 248.96,471.65 249.1,471.57 249.24,471.5 249.38,471.39 249.52,471.57 249.66,471.6 249.8,471.55 249.94,471.88 250.08,471.48 250.22,471.44 250.36,471.61 250.5,471.59 250.64,471.61 250.78,471.62 250.92,471.53 251.06,471.48 251.2,471.65 251.34,471.63 251.48,471.39 251.62,471.63 251.76,471.44 251.9,471.76 252.04,471.6 252.18,471.8 252.32,471.56 252.46,471.58 252.6,471.66 252.74,471.71 252.88,471.6 253.02,471.63 253.16,471.44 253.3,471.68 253.44,471.59 253.58,471.57 253.72,471.68 253.86,471.54 254,471.59 254.14,471.48 254.28,471.63 254.42,471.62 254.56,471.41 254.7,471.7 254.84,471.59 254.98,471.68 255.12,471.33 255.26,471.61 255.4,471.61 255.54,471.49 255.68,471.66 255.82,471.65 255.96,471.66 256.1,471.65 256.24,471.51 256.38,471.58 256.52,471.29 256.66,471.62 256.8,471.6 256.94,471.76 257.08,471.79 257.22,471.51 257.36,471.47 257.5,471.55 257.64,471.57 257.78,471.61 257.92,471.37 258.06,471.61 258.2,471.53 258.34,471.63 258.48,471.81 258.62,471.79 258.76,471.73 258.9,471.57 259.04,471.36 259.18,471.59 259.32,471.39 259.46,471.56 259.6,471.65 259.74,471.28 259.88,471.38 260.02,471.75 260.16,471.35 260.3,471.41 260.44,471.68 260.58,471.58 260.72,471.55 260.86,471.4 261,471.55 261.14,471.54 261.28,471.41 261.42,471.58 261.56,471.72 261.7,471.55 261.84,471.7 261.98,472.01 262.12,471.66 262.26,471.53 262.4,471.54 262.54,471.53 262.68,471.55 262.82,471.55 262.96,471.4 263.1,471.6 263.24,471.56 263.38,471.61 263.52,471.65 263.66,471.66 263.8,471.63 263.94,471.58 264.08,471.43 264.22,471.59 264.36,471.74 264.5,471.32 264.64,471.52 264.78,471.57 264.92,471.65 265.06,471.56 265.2,471.64 265.34,471.46 265.48,471.61 265.62,471.39 265.76,471.56 265.9,471.72 266.04,471.8 266.18,471.37 266.32,471.67 266.46,471.45 266.6,471.54 266.74,471.64 266.88,471.53 267.02,471.51 267.16,471.37 267.3,471.58 267.44,471.37 267.58,471.57 267.72,471.67 267.86,471.82 268,471.27 268.14,471.67 268.28,471.8 268.42,471.48 268.56,471.43 268.7,471.68 268.84,471.56 268.98,471.63 269.12,471.62 269.26,471.64 269.4,471.29 269.54,471.4 269.68,471.51 269.82,471.42 269.96,471.72 270.1,471.56 270.24,471.74 270.38,471.49 270.52,471.42 270.66,471.4 270.8,471.55 270.94,471.44 271.08,471.35 271.22,471.4 271.36,471.55 271.5,471.56 271.64,471.53 271.78,471.59 271.92,471.54 272.06,471.53 272.2,471.45 272.34,471.2 272.48,471.83 272.62,471.41 272.76,471.43 272.9,471.52 273.04,471.54 273.18,471.58 273.32,471.68 273.46,471.63 273.6,471.59 273.74,471.35 273.88,471.64 274.02,471.79 274.16,471.64 274.3,471.69 274.44,471.56 274.58,471.75 274.72,471.47 274.86,471.5 275,471.56 275.14,471.45 275.28,471.48 275.42,471.51 275.56,471.67 275.7,471.64 275.84,471.4 275.98,471.6 276.12,471.52 276.26,471.45 276.4,471.47 276.54,471.38 276.68,471.47 276.82,471.7 276.96,471.56 277.1,471.74 277.24,471.74 277.38,471.48 277.52,471.53 277.66,471.49 277.8,471.67 277.94,471.58 278.08,471.63 278.22,471.44 278.36,471.39 278.5,471.52 278.64,471.33 278.78,471.49 278.92,471.43 279.06,471.62 279.2,471.55 279.34,471.63 279.48,471.54 279.62,471.41 279.76,471.68 279.9,471.46 280.04,471.47 280.18,471.46 280.32,471.58 280.46,471.49 280.6,471.51 280.74,471.57 280.88,471.48 281.02,471.55 281.16,471.57 281.3,471.52 281.44,471.56 281.58,471.57 281.72,471.3 281.86,471.48 282,471.54 282.14,471.4 282.28,471.54 282.42,471.85 282.56,471.51 282.7,471.27 282.84,471.68 282.98,471.48 283.12,471.48 283.26,471.33 283.4,471.58 283.54,471.51 283.68,471.53 283.82,471.62 283.96,471.66 284.1,471.71 284.24,471.52 284.38,471.41 284.52,471.63 284.66,471.31 284.8,471.54 284.94,471.36 285.08,471.41 285.22,471.73 285.36,471.44 285.5,471.61 285.64,471.59 285.78,471.58 285.92,471.36 286.06,471.33 286.2,471.71 286.34,471.42 286.48,471.53 286.62,471.3 286.76,471.35 286.9,471.68 287.04,471.4 287.18,471.71 287.32,471.66 287.46,471.32 287.6,471.51 287.74,471.34 287.88,471.62 288.02,471.41 288.16,471.56 288.3,471.31 288.44,471.47 288.58,471.59 288.72,471.73 288.86,471.55 289,471.7 289.14,471.6 289.28,471.34 289.42,471.64 289.56,471.34 289.7,471.33 289.84,471.5 289.98,471.41 290.12,471.64 290.26,471.61 290.4,471.39 290.54,471.53 290.68,471.54 290.82,471.62 290.96,471.49 291.1,471.46 291.24,471.41 291.38,471.44 291.52,471.64 291.66,471.59 291.8,471.46 291.94,471.58 292.08,471.56 292.22,471.76 292.36,471.37 292.5,471.64 292.64,471.48 292.78,471.61 292.92,471.38 293.06,471.47 293.2,472.03 293.34,471.37 293.48,471.62 293.62,471.75 293.76,471.59 293.9,471.43 294.04,471.65 294.18,471.53 294.32,471.65 294.46,471.47 294.6,471.61 294.74,471.64 294.88,471.43 295.02,471.45 295.16,471.37 295.3,471.5 295.44,471.41 295.58,471.67 295.72,471.5 295.86,471.65 296,471.57 296.14,471.46 296.28,471.51 296.42,471.32 296.56,471.65 296.7,471.27 296.84,471.46 296.98,471.52 297.12,471.48 297.26,471.45 297.4,471.61 297.54,471.5 297.68,471.53 297.82,471.57 297.96,471.48 298.1,471.57 298.24,471.54 298.38,471.6 298.52,471.38 298.66,471.52 298.8,471.63 298.94,471.46 299.08,471.55 299.22,471.56 299.36,471.62 299.5,471.48 299.64,471.39 299.78,471.65 299.92,471.6 300.06,471.38 300.2,471.49 300.34,471.39 300.48,471.4 300.62,471.57 300.76,471.4 300.9,471.33 301.04,471.34 301.18,471.67 301.32,471.45 301.46,471.4 301.6,471.44 301.74,471.54 301.88,471.51 302.02,471.47 302.16,471.38 302.3,471.5 302.44,471.23 302.58,471.44 302.72,471.44 302.86,471.6 303,471.49 303.14,471.61 303.28,471.62 303.42,471.42 303.56,471.53 303.7,471.43 303.84,471.51 303.98,471.54 304.12,471.5 304.26,471.54 304.4,471.45 304.54,471.24 304.68,471.54 304.82,471.47 304.96,471.56 305.1,471.68 305.24,471.7 305.38,471.63 305.52,471.53 305.66,471.49 305.8,471.68 305.94,471.52 306.08,471.53 306.22,471.56 306.36,471.6 306.5,471.47 306.64,471.42 306.78,471.55 306.92,471.68 307.06,471.49 307.2,471.56 307.34,471.58 307.48,471.31 307.62,471.46 307.76,471.53 307.9,471.34 308.04,471.4 308.18,471.43 308.32,471.66 308.46,471.28 308.6,471.54 308.74,471.59 308.88,471.56 309.02,471.29 309.16,471.53 309.3,471.37 309.44,471.47 309.58,471.37 309.72,471.64 309.86,471.42 310,471.46 310.14,471.75 310.28,471.65 310.42,471.16 310.56,471.49 310.7,471.39 310.84,471.57 310.98,471.38 311.12,471.73 311.26,471.62 311.4,471.5 311.54,471.33 311.68,471.23 311.82,471.61 311.96,471.56 312.1,471.54 312.24,471.3 312.38,471.55 312.52,471.45 312.66,471.44 312.8,471.52 312.94,471.65 313.08,471.73 313.22,471.34 313.36,471.29 313.5,471.39 313.64,471.56 313.78,471.39 313.92,471.63 314.06,471.62 314.2,471.82 314.34,471.6 314.48,471.6 314.62,471.61 314.76,471.49 314.9,471.45 315.04,471.63 315.18,471.28 315.32,471.29 315.46,471.52 315.6,471.55 315.74,471.45 315.88,471.54 316.02,471.53 316.16,471.62 316.3,471.72 316.44,471.48 316.58,471.74 316.72,471.24 316.86,471.27 317,471.25 317.14,471.43 317.28,471.66 317.42,471.37 317.56,471.49 317.7,471.61 317.84,471.54 317.98,471.44 318.12,471.42 318.26,471.52 318.4,471.38 318.54,471.48 318.68,471.49 318.82,471.32 318.96,471.27 319.1,471.7 319.24,471.2 319.38,471.32 319.52,471.46 319.66,471.5 319.8,471.44 319.94,471.64 320.08,471.43 320.22,471.37 320.36,471.24 320.5,471.41 320.64,471.39 320.78,471.41 320.92,471.52 321.06,471.46 321.2,471.51 321.34,471.61 321.48,471.38 321.62,471.31 321.76,471.39 321.9,471.3 322.04,471.19 322.18,471.61 322.32,471.59 322.46,471.48 322.6,471.48 322.74,471.45 322.88,471.5 323.02,471.42 323.16,471.57 323.3,471.37 323.44,471.32 323.58,471.57 323.72,471.53 323.86,471.46 324,471.54 324.14,471.56 324.28,471.85 324.42,471.45 324.56,471.57 324.7,471.63 324.84,471.54 324.98,471.41 325.12,471.56 325.26,471.6 325.4,471.31 325.54,471.46 325.68,471.45 325.82,471.46 325.96,471.48 326.1,471.67 326.24,471.47 326.38,471.52 326.52,471.36 326.66,471.64 326.8,471.53 326.94,471.35 327.08,471.4 327.22,471.42 327.36,471.44 327.5,471.51 327.64,471.41 327.78,471.6 327.92,471.52 328.06,471.55 328.2,471.43 328.34,471.34 328.48,471.63 328.62,471.62 328.76,471.43 328.9,471.43 329.04,471.62 329.18,471.58 329.32,471.55 329.46,471.62 329.6,471.68 329.74,471.6 329.88,471.4 330.02,471.51 330.16,471.57 330.3,471.46 330.44,471.48 330.58,471.58 330.72,471.48 330.86,471.5 331,471.51 331.14,471.43 331.28,471.52 331.42,471.63 331.56,471.38 331.7,471.73 331.84,471.54 331.98,471.56 332.12,471.41 332.26,471.31 332.4,471.41 332.54,471.25 332.68,471.61 332.82,471.51 332.96,471.42 333.1,471.35 333.24,471.58 333.38,471.44 333.52,471.42 333.66,471.22 333.8,471.59 333.94,471.32 334.08,471.45 334.22,471.44 334.36,471.74 334.5,471.17 334.64,471.51 334.78,471.22 334.92,471.27 335.06,471.22 335.2,471.32 335.34,471.44 335.48,471.29 335.62,471.44 335.76,471.31 335.9,471.45 336.04,471.51 336.18,471.59 336.32,471.39 336.46,471.25 336.6,471.58 336.74,471.39 336.88,471.3 337.02,471.56 337.16,471.44 337.3,471.37 337.44,471.41 337.58,471.56 337.72,471.47 337.86,471.53 338,471.37 338.14,471.3 338.28,471.55 338.42,471.49 338.56,471.27 338.7,471.42 338.84,471.46 338.98,471.56 339.12,471.44 339.26,471.31 339.4,471.26 339.54,471.46 339.68,471.53 339.82,471.35 339.96,471.52 340.1,471.43 340.24,471.65 340.38,471.33 340.52,471.54 340.66,471.36 340.8,471.4 340.94,471.49 341.08,471.32 341.22,471.54 341.36,471.35 341.5,471.52 341.64,471.45 341.78,471.34 341.92,471.45 342.06,471.47 342.2,471.42 342.34,471.52 342.48,471.46 342.62,471.6 342.76,471.55 342.9,471.47 343.04,471.38 343.18,471.44 343.32,471.34 343.46,471.5 343.6,471.53 343.74,471.43 343.88,471.34 344.02,471.38 344.16,471.48 344.3,471.35 344.44,471.48 344.58,471.44 344.72,471.29 344.86,471.29 345,471.28 345.14,471.58 345.28,471.44 345.42,471.31 345.56,471.36 345.7,471.46 345.84,471.53 345.98,471.5 346.12,471.39 346.26,471.62 346.4,471.51 346.54,471.56 346.68,471.49 346.82,471.37 346.96,471.35 347.1,471.58 347.24,471.69 347.38,471.59 347.52,471.35 347.66,471.31 347.8,471.5 347.94,471.34 348.08,471.36 348.22,471.53 348.36,471.37 348.5,471.32 348.64,471.47 348.78,471.31 348.92,471.43 349.06,471.4 349.2,471.36 349.34,471.27 349.48,471.46 349.62,471.5 349.76,471.42 349.9,471.6 350.04,471.5 350.18,471.56 350.32,471.52 350.46,471.53 350.6,471.37 350.74,471.6 350.88,471.46 351.02,471.28 351.16,471.51 351.3,471.29 351.44,471.13 351.58,471.53 351.72,471.56 351.86,471.53 352,471.62 352.14,471.4 352.28,471.53 352.42,471.63 352.56,471.53 352.7,471.35 352.84,471.19 352.98,471.38 353.12,471.41 353.26,471.45 353.4,471.58 353.54,471.5 353.68,471.4 353.82,471.52 353.96,471.68 354.1,471.16 354.24,471.37 354.38,471.69 354.52,471.43 354.66,471.48 354.8,471.24 354.94,471.27 355.08,471.22 355.22,471.47 355.36,471.52 355.5,471.4 355.64,471.43 355.78,471.61 355.92,471.48 356.06,471.71 356.2,471.4 356.34,471.42 356.48,471.5 356.62,471.34 356.76,471.4 356.9,471.25 357.04,471.57 357.18,471.64 357.32,471.44 357.46,471.34 357.6,471.44 357.74,471.37 357.88,471.3 358.02,471.43 358.16,471.41 358.3,471.42 358.44,471.49 358.58,471.29 358.72,471.57 358.86,471.57 359,471.46 359.14,471.24 359.28,471.28 359.42,471.16 359.56,471.3 359.7,471.49 359.84,471.5 359.98,471.33 360.12,471.35 360.26,471.38 360.4,471.29 360.54,471.47 360.68,471.49 360.82,471.38 360.96,471.28 361.1,471.35 361.24,471.35 361.38,471.6 361.52,471.35 361.66,471.32 361.8,471.3 361.94,471.27 362.08,471.41 362.22,471.36 362.36,471.5 362.5,471.44 362.64,471.53 362.78,471.49 362.92,471.3 363.06,471.44 363.2,471.48 363.34,471.47 363.48,471.56 363.62,471.53 363.76,471.42 363.9,471.44 364.04,471.52 364.18,471.36 364.32,471.55 364.46,471.37 364.6,471.44 364.74,471.19 364.88,471.2 365.02,471.55 365.16,471.29 365.3,471.36 365.44,471.19 365.58,471.33 365.72,471.65 365.86,471.18 366,471.25 366.14,471.24 366.28,471.35 366.42,471.59 366.56,471.3 366.7,471.27 366.84,471.31 366.98,471.45 367.12,471.53 367.26,471.54 367.4,471.36 367.54,471.55 367.68,471.4 367.82,471.36 367.96,471.39 368.1,471.29 368.24,471.28 368.38,471.41 368.52,471.31 368.66,471.7 368.8,471.45 368.94,471.72 369.08,471.46 369.22,471.3 369.36,471.43 369.5,471.43 369.64,471.44 369.78,471.53 369.92,471.49 370.06,471.52 370.2,471.47 370.34,471.35 370.48,471.53 370.62,471.43 370.76,471.24 370.9,471.31 371.04,471.48 371.18,471.47 371.32,471.36 371.46,471.45 371.6,471.45 371.74,471.47 371.88,471.45 372.02,471.54 372.16,471.32 372.3,471.45 372.44,471.59 372.58,471.46 372.72,471.26 372.86,471.49 373,471.59 373.14,471.52 373.28,471.46 373.42,471.65 373.56,471.51 373.7,471.73 373.84,471.57 373.98,471.59 374.12,471.67 374.26,471.75 374.4,471.69 374.54,471.63 374.68,471.73 374.82,472.14 374.96,471.92 375.1,471.83 375.24,472.01 375.38,472.32 375.52,471.91 375.66,471.97 375.8,472 375.94,472.21 376.08,472.06 376.22,472.05 376.36,471.96 376.5,472.19 376.64,472.3 376.78,472.5 376.92,472.12 377.06,472.41 377.2,472.18 377.34,472.43 377.48,472.66 377.62,472.3 377.76,472.2 377.9,472.51 378.04,472.42 378.18,472.24 378.32,472.52 378.46,472.78 378.6,472.46 378.74,472.79 378.88,472.63 379.02,472.63 379.16,472.75 379.3,472.86 379.44,472.76 379.58,472.73 379.72,472.9 379.86,472.79 380,473.03 380.14,472.96 380.28,473.09 380.42,472.98 380.56,473.13 380.7,473.27 380.84,473.19 380.98,473.13 381.12,473.27 381.26,473.71 381.4,473.5 381.54,473.47 381.68,473.51 381.82,473.41 381.96,473.7 382.1,473.66 382.24,473.72 382.38,473.88 382.52,473.92 382.66,473.78 382.8,474.06 382.94,473.92 383.08,474.08 383.22,474.21 383.36,474.38 383.5,474.21 383.64,474.36 383.78,474.26 383.92,474.42 384.06,474.55 384.2,474.56 384.34,474.79 384.48,474.76 384.62,474.83 384.76,474.91 384.9,474.83 385.04,475.04 385.18,475.23 385.32,474.98 385.46,475.06 385.6,475.23 385.74,475.13 385.88,475.14 386.02,475.23 386.16,475.19 386.3,475.49 386.44,475.12 386.58,475.24 386.72,475.6 386.86,475.61 387,475.76 387.14,475.56 387.28,475.65 387.42,475.78 387.56,475.92 387.7,476.17 387.84,475.97 387.98,476.24 388.12,476.19 388.26,476.07 388.4,476.15 388.54,476.28 388.68,476.73 388.82,476.63 388.96,476.83 389.1,476.59 389.24,476.67 389.38,476.79 389.52,476.83 389.66,476.91 389.8,476.81 389.94,477.01 390.08,477.32 390.22,477.28 390.36,477.49 390.5,477.37 390.64,477.29 390.78,477.5 390.92,477.5 391.06,477.9 391.2,477.92 391.34,477.85 391.48,477.83 391.62,478.02 391.76,477.95 391.9,478.03 392.04,478.22 392.18,477.95 392.32,478.23 392.46,478.45 392.6,478.26 392.74,478.45 392.88,478.57 393.02,478.8 393.16,478.8 393.3,478.7 393.44,478.97 393.58,478.98 393.72,478.95 393.86,479.26 394,479.2 394.14,479.08 394.28,479.33 394.42,479.3 394.56,479.46 394.7,479.56 394.84,479.81 394.98,479.85 395.12,479.99 395.26,479.6 395.4,480.09 395.54,480.03 395.68,480.26 395.82,480.13 395.96,480.29 396.1,480.42 396.24,480.53 396.38,480.8 396.52,480.74 396.66,480.59 396.8,480.84 396.94,481.17 397.08,481.09 397.22,481.19 397.36,481.26 397.5,481.36 397.64,481.38 397.78,481.45 397.92,481.67 398.06,481.59 398.2,481.71 398.34,481.93 398.48,481.97 398.62,481.88 398.76,482.04 398.9,482.27 399.04,482.32 399.18,482.49 399.32,482.38 399.46,482.45 399.6,482.77 399.74,482.69 399.88,482.82 400.02,483.01 400.16,483.01 400.3,483.03 400.44,483.08 400.58,483.3 400.72,483.34 400.86,483.52 401,483.72 401.14,483.58 401.28,483.72 401.42,483.97 401.56,484.17 401.7,483.88 401.84,484.3 401.98,484.43 402.12,484 402.26,484.6 402.4,484.55 402.54,484.49 402.68,484.69 402.82,484.65 402.96,484.93 403.1,484.78 403.24,485.08 403.38,485.27 403.52,485.47 403.66,485.12 403.8,485.34 403.94,485.33 404.08,484.98 404.22,485.41 404.36,485.24 404.5,485.34 404.64,485.18 404.78,485.27 404.92,485.17 405.06,485.31 405.2,485.31 405.34,485.34 405.48,485.35 405.62,485.05 405.76,485.09 405.9,485.13 406.04,485.09 406.18,484.84 406.32,484.81 406.46,484.35 406.6,484.14 406.74,484.09 406.88,483.97 407.02,483.85 407.16,483.67 407.3,483.66 407.44,483.47 407.58,483.43 407.72,482.95 407.86,483.09 408,482.64 408.14,482.7 408.28,482.38 408.42,482.17 408.56,482.1 408.7,482.02 408.84,481.51 408.98,481.61 409.12,481.29 409.26,481.19 409.4,480.88 409.54,480.58 409.68,480.62 409.82,479.95 409.96,480.31 410.1,479.87 410.24,479.48 410.38,479.56 410.52,479.25 410.66,478.86 410.8,479 410.94,478.64 411.08,478.47 411.22,478.17 411.36,477.88 411.5,477.65 411.64,477.58 411.78,477.48 411.92,477.16 412.06,477.02 412.2,476.6 412.34,476.66 412.48,476.29 412.62,476.03 412.76,475.96 412.9,475.73 413.04,475.68 413.18,475.07 413.32,475 413.46,474.7 413.6,474.66 413.74,474.43 413.88,474.26 414.02,474.14 414.16,473.86 414.3,473.51 414.44,473.49 414.58,473.48 414.72,473.35 414.86,473.25 415,473 415.14,473.03 415.28,472.87 415.42,472.68 415.56,472.56 415.7,472.54 415.84,472.61 415.98,472.28 416.12,472.31 416.26,472.16 416.4,471.86 416.54,471.93 416.68,471.84 416.82,471.71 416.96,471.76 417.1,471.57 417.24,471.47 417.38,471.43 417.52,471.37 417.66,471.36 417.8,471.11 417.94,470.94 418.08,470.68 418.22,470.96 418.36,470.97 418.5,470.8 418.64,470.83 418.78,470.89 418.92,470.83 419.06,470.5 419.2,470.87 419.34,470.77 419.48,470.53 419.62,470.41 419.76,470.47 419.9,470.39 420.04,470.45 420.18,470.28 420.32,470.4 420.46,470.42 420.6,470.56 420.74,470.31 420.88,470.75 421.02,470.37 421.16,470.46 421.3,470.33 421.44,470.35 421.58,470.57 421.72,470.79 421.86,470.58 422,470.79 422.14,470.84 422.28,470.71 422.42,470.77 422.56,470.66 422.7,470.68 422.84,470.56 422.98,470.63 423.12,470.84 423.26,470.56 423.4,470.59 423.54,470.52 423.68,470.44 423.82,470.65 423.96,470.59 424.1,470.73 424.24,470.6 424.38,470.58 424.52,470.36 424.66,470.7 424.8,470.69 424.94,470.84 425.08,471.02 425.22,470.82 425.36,470.71 425.5,470.6 425.64,470.78 425.78,470.72 425.92,470.82 426.06,470.75 426.2,470.94 426.34,470.53 426.48,471 426.62,470.98 426.76,470.9 426.9,470.74 427.04,470.79 427.18,470.76 427.32,470.92 427.46,470.76 427.6,470.82 427.74,471 427.88,470.85 428.02,471.04 428.16,470.99 428.3,470.99 428.44,470.84 428.58,471.05 428.72,471.24 428.86,471.03 429,470.9 429.14,471.03 429.28,471.05 429.42,470.93 429.56,471.04 429.7,470.88 429.84,471.08 429.98,470.78 430.12,470.72 430.26,470.82 430.4,471.04 430.54,471.04 430.68,471.08 430.82,470.85 430.96,471.17 431.1,470.95 431.24,470.94 431.38,471.06 431.52,471.08 431.66,471.08 431.8,470.96 431.94,471.13 432.08,471 432.22,470.92 432.36,470.95 432.5,471.17 432.64,470.9 432.78,470.9 432.92,471.13 433.06,471.13 433.2,470.84 433.34,470.85 433.48,470.95 433.62,470.98 433.76,471.02 433.9,471.16 434.04,471.05 434.18,471.09 434.32,470.87 434.46,471.16 434.6,470.87 434.74,471.16 434.88,471.12 435.02,470.99 435.16,470.99 435.3,470.93 435.44,471.13 435.58,470.97 435.72,470.96 435.86,471.03 436,470.98 436.14,470.91 436.28,471 436.42,471.06 436.56,471.11 436.7,470.91 436.84,471.02 436.98,471.14 437.12,471.09 437.26,470.87 437.4,471.08 437.54,471.08 437.68,470.83 437.82,471.01 437.96,471.07 438.1,471.39 438.24,471.38 438.38,471.15 438.52,471.19 438.66,471.18 438.8,471.04 438.94,471.11 439.08,471.23 439.22,471.04 439.36,471.06 439.5,471.11 439.64,470.98 439.78,470.99 439.92,471.15 440.06,471.03 440.2,470.99 440.34,470.95 440.48,471.13 440.62,471.12 440.76,470.92 440.9,471.09 441.04,471.04 441.18,471.08 441.32,471.05 441.46,471.14 441.6,471.15 441.74,471.15 441.88,471.22 442.02,471.19 442.16,471.18 442.3,471.23 442.44,471.14 442.58,471.19 442.72,470.94 442.86,471.03 443,471.18 443.14,471.14 443.28,471.27 443.42,470.99 443.56,471.03 443.7,471.06 443.84,471.16 443.98,471.02 444.12,471.24 444.26,471.2 444.4,471.17 444.54,471.02 444.68,471.05 444.82,470.99 444.96,471.16 445.1,470.98 445.24,471.03 445.38,471.23 445.52,470.99 445.66,471.25 445.8,471.11 445.94,470.95 446.08,471.26 446.22,470.96 446.36,471.21 446.5,471.4 446.64,470.96 446.78,471.08 446.92,471.06 447.06,471.09 447.2,471.22 447.34,471.25 447.48,471.01 447.62,470.85 447.76,471.13 447.9,471.32 448.04,471.12 448.18,471.04 448.32,471.11 448.46,471 448.6,471.32 448.74,471.07 448.88,471.1 449.02,470.98 449.16,471.25 449.3,471 449.44,471.17 449.58,470.98 449.72,471.27 449.86,471.01 450,471.19 450.14,471.21 450.28,470.86 450.42,471.4 450.56,471.16 450.7,471.16 450.84,471.12 450.98,471.26 451.12,471.21 451.26,471 451.4,471.04 451.54,471.07 451.68,471.1 451.82,470.91 451.96,471.1 452.1,471.19 452.24,471.29 452.38,470.88 452.52,471.23 452.66,471.15 452.8,471.09 452.94,471.31 453.08,471.08 453.22,471.33 453.36,471.01 453.5,471.17 453.64,470.98 453.78,471.18 453.92,471.32 454.06,470.99 454.2,471.19 454.34,471.24 454.48,471.16 454.62,471.16 454.76,471.1 454.9,471.12 455.04,471.24 455.18,471.1 455.32,471.31 455.46,471.12 455.6,470.97 455.74,471.11 455.88,471.25 456.02,471.23 456.16,471.25 456.3,471.14 456.44,471.15 456.58,471.32 456.72,471.43 456.86,471.05 457,471.18 457.14,471.15 457.28,471.16 457.42,471.28 457.56,471.12 457.7,471 457.84,471.34 457.98,471.25 458.12,471.54 458.26,471.37 458.4,471.26 458.54,470.87 458.68,471.15 458.82,471.32 458.96,471.07 459.1,470.98 459.24,471.23 459.38,471.11 459.52,471.03 459.66,471.15 459.8,471.11 459.94,471.21 460.08,471.18 460.22,471.19 460.36,471.25 460.5,471.25 460.64,471.24 460.78,471.14 460.92,471.1 461.06,471.12 461.2,471.2 461.34,471.35 461.48,471.36 461.62,471.28 461.76,470.87 461.9,471.33 462.04,471.12 462.18,471.21 462.32,471.1 462.46,471.39 462.6,471.11 462.74,471.1 462.88,471.2 463.02,471.02 463.16,471.05 463.3,471.07 463.44,471.14 463.58,471.05 463.72,471.06 463.86,471.24 464,471.11 464.14,471.17 464.28,471.2 464.42,471.12 464.56,470.99 464.7,471.39 464.84,471.27 464.98,471.15 465.12,471.31 465.26,471.25 465.4,471.03 465.54,471.01 465.68,471.25 465.82,471.23 465.96,471.05 466.1,471.19 466.24,470.96 466.38,471.38 466.52,471.13 466.66,471.2 466.8,471.22 466.94,471.33 467.08,471.32 467.22,471.25 467.36,471.39 467.5,471.36 467.64,471.11 467.78,471.29 467.92,471.4 468.06,471.13 468.2,471.45 468.34,471.28 468.48,471.2 468.62,471.32 468.76,471.34 468.9,471.25 469.04,471.49 469.18,471.2 469.32,471.19 469.46,471.27 469.6,471.29 469.74,471.03 469.88,471.43 470.02,471.37 470.16,471.27 470.3,471.48 470.44,471.59 470.58,471.25 470.72,471.3 470.86,471.1 471,471.52 471.14,471.11 471.28,471.26 471.42,471.36 471.56,471.37 471.7,471.3 471.84,471.07 471.98,471.26 472.12,471.19 472.26,471.36 472.4,471.33 472.54,471.19 472.68,471.15 472.82,471.2 472.96,471.34 473.1,471.32 473.24,471.22 473.38,471.07 473.52,471.22 473.66,471.04 473.8,471.15 473.94,471.22 474.08,471.38 474.22,471.14 474.36,471.25 474.5,471.41 474.64,471.14 474.78,471.24 474.92,471.17 475.06,471.15 475.2,471.61 475.34,471.27 475.48,471.34 475.62,471.33 475.76,471.41 475.9,471.29 476.04,471.22 476.18,471.33 476.32,471.28 476.46,471.39 476.6,471.27 476.74,471.3 476.88,471.27 477.02,471.28 477.16,471.2 477.3,471.31 477.44,471.39 477.58,471.38 477.72,471.22 477.86,471.44 478,471.2 478.14,471.21 478.28,471.42 478.42,471.09 478.56,471.3 478.7,471.22 478.84,471.43 478.98,471.12 479.12,471.38 479.26,471.26 479.4,471.31 479.54,471.41 479.68,471.32 479.82,471.36 479.96,471.2 480.1,471.19 480.24,471.34 480.38,471.44 480.52,471.33 480.66,471.34 480.8,471.27 480.94,471.26 481.08,471.27 481.22,471.29 481.36,471.26 481.5,471.27 481.64,471.17 481.78,471.22 481.92,471.2 482.06,471.38 482.2,471.5 482.34,471.28 482.48,471.1 482.62,471.07 482.76,471.33 482.9,471.45 483.04,471.31 483.18,471.21 483.32,471.13 483.46,471.38 483.6,471.51 483.74,471.3 483.88,471.01 484.02,471.3 484.16,471.43 484.3,471.32 484.44,471.41 484.58,471.38 484.72,471.19 484.86,471.33 485,471.25 485.14,471.34 485.28,471.39 485.42,471.28 485.56,471.29 485.7,471.16 485.84,471.35 485.98,471.36 486.12,471.06 486.26,471.5 486.4,471.46 486.54,471.26 486.68,471.28 486.82,471.32 486.96,471.26 487.1,471.27 487.24,471.23 487.38,471.22 487.52,471.25 487.66,471.55 487.8,470.96 487.94,471.32 488.08,471.31 488.22,471.25 488.36,471.24 488.5,471.09 488.64,471.16 488.78,471.47 488.92,471.2 489.06,471.31 489.2,471.36 489.34,471.31 489.48,471.34 489.62,471.24 489.76,471.37 489.9,471.35 490.04,471.13 490.18,471.28 490.32,471.26 490.46,471.27 490.6,471.3 490.74,471.36 490.88,471.16 491.02,471.33 491.16,471.19 491.3,471.27 491.44,471.6 491.58,471.13 491.72,471.2 491.86,471.32 492,471.38 492.14,471.4 492.28,471.24 492.42,471.31 492.56,471.31 492.7,471.22 492.84,471.45 492.98,471.3 493.12,471.05 493.26,471.42 493.4,471.3 493.54,471.33 493.68,471.04 493.82,471.5 493.96,471.43 494.1,471.32 494.24,471.17 494.38,471.23 494.52,471.27 494.66,471.23 494.8,471.27 494.94,471.46 495.08,471.33 495.22,471.24 495.36,470.9 495.5,471.36 495.64,471.3 495.78,471.35 495.92,471.3 496.06,471.27 496.2,471.28 496.34,471.38 496.48,471.36 496.62,471.04 496.76,471.45 496.9,471.29 497.04,471.23 497.18,471.28 497.32,471.34 497.46,471.31 497.6,471.18 497.74,471.25 497.88,471.3 498.02,471.44 498.16,471.14 498.3,471.35 498.44,471.35 498.58,471.43 498.72,471.28 498.86,471.26 499,471.1 499.14,471.16 499.28,471.26 499.42,471.37 499.56,471.32 499.7,471.49 499.84,471.28 499.98,471.51 500.12,471.29 500.26,471.33 500.4,471.4 500.54,471.14 500.68,471.26 500.82,471.22 500.96,471.22 501.1,471.14 501.24,471.28 501.38,471.31 501.52,471.42 501.66,471.21 501.8,471.19 501.94,471.27 502.08,471.28 502.22,471.28 502.36,471.18 502.5,471.18 502.64,471.29 502.78,471.23 502.92,471.14 503.06,471.18 503.2,471.06 503.34,471.35 503.48,471.47 503.62,471.47 503.76,471.21 503.9,471.02 504.04,471.3 504.18,471.23 504.32,471.25 504.46,471.34 504.6,471.32 504.74,471.28 504.88,471.1 505.02,471.12 505.16,471.33 505.3,471.38 505.44,471.45 505.58,471.33 505.72,471.29 505.86,471.23 506,471.41 506.14,471.23 506.28,471.44 506.42,471.59 506.56,471.17 506.7,471.28 506.84,471.19 506.98,471.3 507.12,471.29 507.26,471.35 507.4,471.37 507.54,471.32 507.68,471.29 507.82,471.18 507.96,471.42 508.1,471.13 508.24,471.18 508.38,471.18 508.52,471.35 508.66,471.45 508.8,471.37 508.94,471.15 509.08,471.16 509.22,471.28 509.36,471.26 509.5,471.3 509.64,471.24 509.78,471.22 509.92,471.34 510.06,471.11 510.2,471.25 510.34,471.5 510.48,471.33 510.62,471.2 510.76,471.49 510.9,471.39 511.04,471.04 511.18,471.21 511.32,471.22 511.46,471.14 511.6,471.31 511.74,471.45 511.88,471.54 512.02,471.09 512.16,471.37 512.3,471.34 512.44,471.47 512.58,471.22 512.72,471.31 512.86,471.26 513,471.54 513.14,471.4 513.28,471.13 513.42,471.35 513.56,471.36 513.7,471.21 513.84,471.17 513.98,471.13 514.12,471.37 514.26,471.21 514.4,471.33 514.54,471.43 514.68,471.27 514.82,471.2 514.96,471.37 515.1,470.96 515.24,470.92 515.38,471.16 515.52,471.21 515.66,471.16 515.8,471.49 515.94,471 516.08,471.34 516.22,471.3 516.36,471.45 516.5,471.21 516.64,471 516.78,471.21 516.92,471.43 517.06,471.23 517.2,471.34 517.34,471.36 517.48,471.21 517.62,471.3 517.76,471.32 517.9,471.23 518.04,471.26 518.18,471.48 518.32,471.09 518.46,471.37 518.6,471.39 518.74,471.23 518.88,471.47 519.02,471.53 519.16,471.42 519.3,471.2 519.44,471.11 519.58,471.24 519.72,471.23 519.86,471.11 520,471.21 520.14,470.98 520.28,471.35 520.42,471.34 520.56,471.17 520.7,471.11 520.84,471.27 520.98,471.4 521.12,471.13 521.26,471.2 521.4,471.02 521.54,471.39 521.68,471.43 521.82,471.37 521.96,471.21 522.1,471.2 522.24,471.13 522.38,471.41 522.52,471.29 522.66,471.37 522.8,471.76 522.94,471.13 523.08,471.29 523.22,471.23 523.36,471.46 523.5,471.07 523.64,471.17 523.78,471.32 523.92,471.56 524.06,471.55 524.2,471.19 524.34,471.52 524.48,471.34 524.62,471.55 524.76,471.47 524.9,471.38 525.04,471.3 525.18,471.39 525.32,470.38 525.46,471.55 525.6,471.17 525.74,471.27 525.88,471.07 526.02,471.43 526.16,471.66 526.3,471.38 526.44,471.24 526.58,471.39 526.72,471.07 526.86,471.45 527,471.58 527.14,471.33 527.28,471.31 527.42,471.27 527.56,470.8 527.7,470.86 527.84,471.77 527.98,471.3 528.12,471.63 528.26,471.36 528.4,471.2 528.54,471.31 528.68,471.23 528.82,471.14 528.96,471.15 529.1,470.79 529.24,470.92 529.38,471.52 529.52,471.14 529.66,471.17 529.8,471.43 529.94,471.21 530.08,471.45 530.22,470.96 530.36,471.34 530.5,470.98 530.64,471.29 530.78,471.27 530.92,471.31 531.06,471.19 531.2,471.48 531.34,471.51 531.48,471.05 531.62,471.12 531.76,471.04 531.9,471.21 532.04,471.49 532.18,471.46 532.32,471.08 532.46,471.21 532.6,470.86 532.74,471.16 532.88,471.26 533.02,470.9 533.16,471.33 533.3,471.43 533.44,471.1 533.58,471.31 533.72,471.13 533.86,471.33 534,471.07 534.14,472.5 534.28,471.2 534.42,471.5 534.56,471.38 534.7,471.31 534.84,471.2 534.98,471.25 535.12,471.34 535.26,471.41 535.4,471.29 535.54,471.53 535.68,471.21 535.82,471.19 535.96,471.25 536.1,470.98 536.24,471.31 536.38,471.37 536.52,471.45 536.66,471.34 536.8,471.43 536.94,471.07 537.08,471.21 537.22,471.53 537.36,470.96 537.5,471.2 537.64,471.35 537.78,471.4 537.92,471.93 538.06,471.62 538.2,471.59 538.34,471.33 538.48,471.36 538.62,471.26 538.76,471.07 538.9,471.29 539.04,471.63 539.18,471.17 539.32,471.46 539.46,471.1 539.6,471.19 539.74,471.38 539.88,471.1 540.02,471.56 540.16,471.58 540.3,471.46 540.44,471.28 540.58,471.56 540.72,471.16 540.86,471.2 541,471.53 541.14,471.28 541.28,471.14 541.42,471.45 541.56,471.47 541.7,471.36 541.84,471.24 541.98,471.39 542.12,470.98 542.26,471.56 542.4,471.23 542.54,471.24 542.68,471.44 542.82,471.41 542.96,471.14 543.1,471.68 543.24,471.43 543.38,470.87 543.52,471.52 543.66,470.93 543.8,471.25 543.94,471.61 544.08,471.55 544.22,471.04 544.36,470.96 544.5,471.11 544.64,471.01 544.78,471.25 544.92,471.47 545.06,470.93 545.2,470.99 545.34,471.11 545.48,471.38 545.62,471.22 545.76,471.9 545.9,471.62 546.04,471.35 546.18,471.14 546.32,470.78 546.46,471.4 546.6,471.26 546.74,471.26 546.88,471.32 547.02,471.11 547.16,471.36 547.3,471.54 547.44,471.58 547.58,471.42 547.72,471.18 547.86,471.08 548,471.23 548.14,470.99 548.28,471.1 548.42,471.25 548.56,471.33 548.7,471.18 548.84,471.15 548.98,471.48 549.12,470.83 549.26,471.6 549.4,471.17 549.54,471.44 549.68,471.47 549.82,471.04 549.96,471.21 550.1,471.01 550.24,470.96 550.38,471.04 550.52,471.46 550.66,471.33 550.8,471.07 550.94,471.38 551.08,471.37 551.22,471.14 551.36,471.54 551.5,471.5 551.64,470.97 551.78,471.58 551.92,470.86 552.06,471.24 552.2,471.4 552.34,471.26 552.48,471.3 552.62,471.33 552.76,471.31 552.9,471.31 553.04,471.59 553.18,471.34 553.32,471.13 553.46,472.6 553.6,471.32 553.74,470.79 553.88,471.18 554.02,471.15 554.16,471.27 554.3,471.47 554.44,471.03 554.58,471.87 554.72,471.29 554.86,471.01 555,471.25 555.14,471 555.28,471.25 555.42,471.26 555.56,471.22 555.7,471.11 555.84,471.05 555.98,471.14 556.12,471.42 556.26,471.08 556.4,471.35 556.54,471.35 556.68,471.07 556.82,471.25 556.96,471.03 557.1,471.47 557.24,470.89 557.38,470.87 557.52,471.3 557.66,471.07 557.8,471.08 557.94,471.33 558.08,471.59 558.22,470.97 558.36,471.22 558.5,471.26 558.64,471.34 558.78,471.44 558.92,471.11 559.06,471.32 559.2,471.62 559.34,471.3 559.48,471.2 559.62,471.39 559.76,471.52 559.9,470.7 560.04,470.74 560.18,471.5 560.32,471.71 560.46,471.49 560.6,471.24 560.74,471.23 560.88,471.35 561.02,471.3 561.16,471.28 561.3,471.08 561.44,471.36 561.58,471.39 561.72,471.3 561.86,470.99 562,471.33 562.14,471.26 562.28,471.25 562.42,471.1 562.56,471.42 562.7,470.99 562.84,471.45 562.98,471.29 563.12,471.18 563.26,471.25 563.4,471.23 563.54,471.21 563.68,471.08 563.82,471.42 563.96,471.09 564.1,471.04 564.24,471.48 564.38,471.29 564.52,471.12 564.66,471.32 564.8,471.4 564.94,471.09 565.08,470.91 565.22,471.2 565.36,471.49 565.5,471.68 565.64,471.18 565.78,471.32 565.92,471.46 566.06,471.05 566.2,471.24 566.34,471.13 566.48,471.13 566.62,471.16 566.76,471.19 566.9,470.94 567.04,471.27 567.18,470.95 567.32,471.24 567.46,471.2 567.6,471.42 567.74,471.33 567.88,471.44 568.02,471.34 568.16,471.6 568.3,470.94 568.44,471.32 568.58,471.34 568.72,471.47 568.86,471.13 569,471.23 569.14,470.42 569.28,471.27 569.42,471.14 569.56,471.18 569.7,471.22 569.84,471.16 569.98,471.28 570.12,471.29 570.26,471.23 570.4,470.75 570.54,471.07 570.68,471.05 570.82,471.18 570.96,471.11 571.1,471.14 571.24,471.04 571.38,471.41 571.52,471.43 571.66,471.21 571.8,471.35 571.94,470.93 572.08,470.64 572.22,471.49 572.36,471.86 572.5,471.49 572.64,471.69 572.78,471.08 572.92,471.43 573.06,471.77 573.2,471.02 573.34,470.95 573.48,470.96 573.62,471.19 573.76,470.75 573.9,471.01 574.04,471.52 574.18,471.16 574.32,471.13 574.46,471.25 574.6,471.43 574.74,471.61 574.88,470.83 575.02,471.06 575.16,471.09 575.3,471.27 575.44,471.25 575.58,471.17 575.72,471.01 575.86,471.35 576,470.91 576.14,471.62 576.28,471.1 576.42,471.17 576.56,471.26 576.7,470.78 576.84,471.12 576.98,470.49 577.12,471.42 577.26,471.2 577.4,471.48 577.54,471.33 577.68,471.4 577.82,470.88 577.96,470.69 578.1,471.24 578.24,470.9 578.38,471.77 578.52,471.36 578.66,470.89 578.8,471.28 578.94,471.12 579.08,470.75 579.22,471.37 579.36,471.13 579.5,471.23 579.64,470.75 579.78,471.58 579.92,471.33 580.06,471.22 580.2,470.41 580.34,471.62 580.48,471.28 580.62,471.15 580.76,471.54 580.9,471.16 581.04,471.33 581.18,471.33 581.32,472.27 581.46,471.34 581.6,470.72 581.74,471.31 581.88,471.22 582.02,471.35 582.16,470.88 582.3,471.18 582.44,470.95 582.58,470.8 582.72,471.22 582.86,471.01 583,471.48 583.14,471.15 583.28,471.28 583.42,471.05 583.56,471.64 583.7,471.4 583.84,471.48 583.98,471.13 584.12,471.23 584.26,471.3 584.4,471.4 584.54,471.4 584.68,471.42 584.82,471.02 584.96,471.02 585.1,471.3 585.24,471.29 585.38,470.81 585.52,471.22 585.66,471.24 585.8,470.91 585.94,471.79 586.08,471.24 586.22,470.83 586.36,471.07 586.5,471.28 586.64,471.34 586.78,471.19 586.92,471.15 587.06,470.21 587.2,471.47 587.34,471.25 587.48,472.22 587.62,471.21 587.76,471.48 587.9,471.34 588.04,471.37 588.18,470.98 588.32,471.3 588.46,471.17 588.6,471.53 588.74,471.05 588.88,471.03 589.02,471.46 589.16,470.93 589.3,471.08 589.44,471.2 589.58,471.02 589.72,471.05 589.86,471.39 590,471.2 590.14,471.38 590.28,471.53 590.42,471.67 590.56,471.18 590.7,471.24 590.84,471.69 590.98,471.52 591.12,471.36 591.26,471.24 591.4,471.32 591.54,471.42 591.68,471.12 591.82,470.99 591.96,471.47 592.1,471.36 592.24,471.39 592.38,471.14 592.52,471.2 592.66,471.2 592.8,470.99 592.94,471.28 593.08,470.61 593.22,470.95 593.36,471.18 593.5,471.38 593.64,471.75 593.78,471.03 593.92,471.32 594.06,471.4 594.2,470.42 594.34,471.16 594.48,471.35 594.62,471.37 594.76,471.75 594.9,471.1 595.04,471.4 595.18,471.41 595.32,471.29 595.46,471.3 595.6,471.22 595.74,471.66 595.88,471.77 596.02,471.04 596.16,471.07 596.3,471.08 596.44,471.4 596.58,471.17 596.72,471.02 596.86,471.31 597,471.43 597.14,471.19 597.28,470.89 597.42,471.38 597.56,471.1 597.7,470.85 597.84,471.07 597.98,471.17 598.12,471.84 598.26,471.21 598.4,471.4 598.54,471.23 598.68,471.1 598.82,471 598.96,471.22 599.1,470.98 599.24,470.98 599.38,471.22 599.52,471.19 599.66,471.03 599.8,471.12 599.94,471.04 600.08,471.24 600.22,471.01 600.36,471.17 600.5,471.18 600.64,471.6 600.78,471.37 600.92,471.15 601.06,470.89 601.2,471.5 601.34,471.47 601.48,471.25 601.62,471.44 601.76,470.99 601.9,471.22 602.04,471.64 602.18,471.14 602.32,471.01 602.46,471.39 602.6,471.11 602.74,471.49 602.88,470.92 603.02,471.22 603.16,471.63 603.3,471.22 603.44,471.41 603.58,470.84 603.72,470.96 603.86,471.41 604,471.04 604.14,471.3 604.28,471.25 604.42,471.15 604.56,470.94 604.7,471.1 604.84,471.34 604.98,471.06 605.12,471.2 605.26,471.6 605.4,470.81 605.54,471.11 605.68,471.3 605.82,471.43 605.96,471.19 606.1,471.01 606.24,471.17 606.38,471.24 606.52,470.94 606.66,471.06 606.8,471.73 606.94,471.23 607.08,471.56 607.22,471.24 607.36,470.98 607.5,471.34 607.64,471.3 607.78,470.19 607.92,471.17 608.06,471.45 608.2,471.15 608.34,471.39 608.48,471.32 608.62,471.1 608.76,471.24 608.9,472.18 609.04,471.16 609.18,470.18 609.32,470.96 609.46,471.53 609.6,471.03 609.74,471 609.88,471 610.02,471.2 610.16,470.95 610.3,471.37 610.44,471.01 610.58,471.28 610.72,471.23 610.86,471.07 611,470.9 611.14,471.04 611.28,471.31 611.42,471.47 611.56,471.22 611.7,471.37 611.84,471.45 611.98,470.95 612.12,471.27 612.26,471.41 612.4,471.09 612.54,471.28 612.68,471.13 612.82,471.2 612.96,471.3 613.1,470.89 613.24,472.16 613.38,471.47 613.52,471.01 613.66,471.21 613.8,471.21 613.94,471.1 614.08,470.85 614.22,471.26 614.36,471.32 614.5,471.07 614.64,470.85 614.78,471.31 614.92,471.19 615.06,471.43 615.2,471.56 615.34,471.23 615.48,471.35 615.62,470.99 615.76,470.51 615.9,470.89 616.04,470.3 616.18,471.09 616.32,470.98 616.46,471.2 616.6,470.43 616.74,471.28 616.88,471.31 617.02,471.39 617.16,471.32 617.3,471.07 617.44,471.45 617.58,471.34 617.6,471 617.6,649.5 617.7,471 617.72,471.28 617.86,471.12 618,471.5 618.14,470.96 618.28,471.31 618.42,470.38 618.56,471.49 618.7,471.55 618.84,471.5 618.98,471.14 619.12,471.08 619.26,471.32 619.4,472.23 619.54,471.17 619.68,471.26 619.82,470.93 619.96,470.68 620.1,471.44 620.24,471.37 620.38,471.11 620.52,471.17 620.66,471.16 620.8,471.32 620.94,471.28 621.08,471.31 621.22,471.02 621.36,471.08 621.5,471.25 621.64,471.46 621.78,471.23 621.92,471.08 622.06,470.92 622.2,470.93 622.34,470.93 622.48,471.15 622.62,471.11 622.76,471.03 622.9,471.63 623.04,470.72 623.18,471.18 623.32,471.15 623.46,470.93 623.6,470.57 623.74,470.94 623.88,471.4 624.02,471.38 624.16,471.36 624.3,470.85 624.44,470.62 624.58,471.06 624.72,470.73 624.86,471.39 625,471.3 625.14,471.5 625.28,471.79 625.42,470.8 625.56,471.26 625.7,470.97 625.84,471.16 625.98,471.11 626.12,471.11 626.26,471.28 626.4,471.1 626.54,471.2 626.68,471.28 626.82,471.15 626.96,471.28 627.1,471.45 627.24,471.28 627.38,471.4 627.52,471.19 627.66,471.32 627.8,470.11 627.94,471.17 628.08,471.03 628.22,470.31 628.36,471.35 628.5,470.89 628.64,471.34 628.78,471.27 628.92,470.8 629.06,471.17 629.2,471.29 629.34,471.21 629.48,472.33 629.62,471.15 629.76,470.93 629.9,471.09 630.04,470.96 630.18,471.43 630.32,471.28 630.46,471.39 630.6,471.02 630.74,471.83 630.88,470.95 631.02,471.24 631.16,471.04 631.3,471.08 631.44,471.08 631.58,471.24 631.72,470.88 631.86,471.05 632,471.05 632.14,470.85 632.28,470.99 632.42,471.64 632.56,471.44 632.7,470.95 632.84,470.87 632.98,470.99 633.12,471.23 633.26,471.42 633.4,471.17 633.54,471.24 633.68,470.9 633.82,471.4 633.96,470.59 634.1,471.27 634.24,471.36 634.38,471.38 634.52,471.44 634.66,470.91 634.8,470.7 634.94,471.54 635.08,471.07 635.22,471.4 635.36,471.41 635.5,470.99 635.64,471.03 635.78,471.32 635.92,471.09 636.06,471.75 636.2,471.31 636.34,471.52 636.48,471.39 636.62,470.12 636.76,471.08 636.9,471.58 637.04,471.01 637.18,471.3 637.32,471.03 637.46,471.37 637.6,470.84 637.74,470.94 637.88,471.2 638.02,471.38 638.16,472.24 638.3,471.55 638.44,470.94 638.58,471.1 638.72,470.65 638.86,471.06 639,470.91 639.14,470.98 639.28,471.08 639.42,470.94 639.56,471.01 639.7,471.43 639.84,471.2 639.98,471.08 640.12,471.12 640.26,471.02 640.4,471.13 640.54,470.87 640.68,471.51 640.82,471.32 640.96,470.36 641.1,471.19 641.24,470.78 641.38,471.28 641.52,471.19 641.66,471.17 641.8,471.56 641.94,471.31 642.08,471.15 642.22,471.37 642.36,471.32 642.5,471.44 642.64,471.27 642.78,471.16 642.92,471.02 643.06,471.35 643.2,470.93 643.34,471.05 643.48,470.78 643.62,471.32 643.76,471.35 643.9,471.25 644.04,471.28 644.18,471.36 644.32,471.33 644.46,471.31 644.6,470.99 644.74,471.14 644.88,470.92 645.02,471.55 645.16,471.06 645.3,471.37 645.44,470.97 645.58,471.4 645.72,471.12 645.86,471.61 646,471.01 646.14,471.1 646.28,471.04 646.42,470.82 646.56,471.41 646.7,471.46 646.84,471.06 646.98,471.49 647.12,471.52 647.26,471.15 647.4,471.11 647.54,470.99 647.68,471.07 647.82,471.84 647.96,471.3 648.1,470.94 648.24,471.37 648.38,471.2 648.52,471 648.66,471.39 648.8,471.2 648.94,471.19 649.08,471.12 649.22,472.06 649.36,471.34 649.5,471.22 649.64,471.22 649.78,471.45 649.92,471.31 650.06,471.26 650.2,471.18 650.34,471.22 650.48,471.16 650.62,470.99 650.76,471.34 650.9,470.94 651.04,471.28 651.18,470.95 651.32,471.04 651.46,471.19 651.6,471.15 651.74,471.14 651.88,471.33 652.02,471.34 652.16,471.15 652.3,471.2 652.44,470.97 652.58,471.02 652.72,471.5 652.86,471.11 653,471.13 653.14,470.98 653.28,470.76 653.42,471.43 653.56,471.14 653.7,471.06 653.84,471.25 653.98,471.09 654.12,471.18 654.26,471.38 654.4,471.14 654.54,471.05 654.68,471.44 654.82,471.32 654.96,471.29 655.1,470.9 655.24,471.15 655.38,471.23 655.52,471 655.66,470.99 655.8,471.09 655.94,471.24 656.08,471.63 656.22,470.81 656.36,470.93 656.5,471.18 656.64,471.16 656.78,471.7 656.92,471.23 657.06,471.04 657.2,470.97 657.34,471.29 657.48,471.59 657.62,470.87 657.76,471.15 657.9,470.91 658.04,471.1 658.18,470.79 658.32,471.16 658.46,470.99 658.6,471.39 658.74,470.99 658.88,471.21 659.02,471.53 659.16,471.28 659.3,471.05 659.44,471.08 659.58,471.4 659.72,471.02 659.86,471.01 660,471.12 660.14,470.9 660.28,471.28 660.42,471.91 660.56,470.94 660.7,470.3 660.84,471.15 660.98,471.11 661.12,471.55 661.26,471.08 661.4,470.85 661.54,471.3 661.68,471.49 661.82,471.14 661.96,470.9 662.1,471.17 662.24,471.42 662.38,471.14 662.52,470.74 662.66,470.98 662.8,471.15 662.94,471.48 663.08,471.17 663.22,471.11 663.36,471.17 663.5,471.33 663.64,471.19 663.78,471.23 663.92,470.88 664.06,471.35 664.2,471.06 664.34,471.1 664.48,471.18 664.62,471.45 664.76,470.73 664.9,471.02 665.04,471.13 665.18,470.88 665.32,471.18 665.46,470.86 665.6,471.34 665.74,471.04 665.88,471.08 666.02,471.27 666.16,471.25 666.3,471.52 666.44,470.89 666.58,471.33 666.72,471.17 666.86,471.19 667,471.03 667.14,471.61 667.28,471.29 667.42,471.32 667.56,471.34 667.7,469.94 667.84,471.01 667.98,470.95 668.12,471.21 668.26,471.42 668.4,471.18 668.54,471.03 668.68,470.95 668.82,471.24 668.96,471.09 669.1,470.97 669.24,471.14 669.38,471.27 669.52,471.39 669.66,471.49 669.8,471.3 669.94,472.3 670.08,471.04 670.22,470.79 670.36,471.28 670.5,471.24 670.64,471.46 670.78,470.93 670.92,470.82 671.06,471.33 671.2,471.4 671.34,471.19 671.48,471.14 671.62,471.44 671.76,471.3 671.9,471 672.04,471.13 672.18,471.24 672.32,471.13 672.46,471.3 672.6,470.99 672.74,471.37 672.88,471 673.02,471.07 673.16,471.25 673.3,471.18 673.44,470.89 673.58,471.07 673.72,470.88 673.86,470.94 674,471.39 674.14,471.04 674.28,471.04 674.42,471.2 674.56,471.27 674.7,470.74 674.84,471.12 674.98,471.18 675.12,471.66 675.26,471.01 675.4,471.3 675.54,470.94 675.68,471.17 675.82,470.24 675.96,470.9 676.1,470.98 676.24,471.17 676.38,471.21 676.52,470.99 676.66,471.27 676.8,471.06 676.94,470.91 677.08,471.14 677.22,471.32 677.36,471.08 677.5,470.97 677.64,471.02 677.78,470.36 677.92,471.32 678.06,470.78 678.2,470.81 678.34,471.32 678.48,471.74 678.62,471.38 678.76,471.07 678.9,470.71 679.04,471.28 679.18,471.06 679.32,471.19 679.46,471.34 679.6,471.33 679.74,471.04 679.88,471.08 680.02,471.55 680.16,471.23 680.3,470.06 680.44,471.38 680.58,470.7 680.72,471.35 680.86,471.06 681,471.27 681.14,470.87 681.28,471.21 681.42,471.29 681.56,471.09 681.7,471.27 681.84,471.17 681.98,471.27 682.12,471.37 682.26,471.18 682.4,471.23 682.54,471.52 682.68,471.63 682.82,470.92 682.96,470.84 683.1,471.33 683.24,470.91 683.38,471.22 683.52,471.34 683.66,471.15 683.8,470.88 683.94,471.11 684.08,470.76 684.22,470.84 684.36,470.99 684.5,471.39 684.64,471.05 684.78,470.97 684.92,471.15 685.06,471.23 685.2,471.11 685.34,471.31 685.48,471.38 685.62,471.1 685.76,470.79 685.9,471.03 686.04,471.07 686.18,471.25 686.32,471.13 686.46,471.2 686.6,471.39 686.74,471.36 686.88,470.82 687.02,471.29 687.16,470.99 687.3,471.09 687.44,471.15 687.58,471.19 687.72,470.94 687.86,471.6 688,470.99 688.14,470.82 688.28,470.75 688.42,471.21 688.56,471.21 688.7,471.08 688.84,470.97 688.98,470.41 689.12,471.09 689.26,471.09 689.4,471.3 689.54,471.14 689.68,471.11 689.82,470.84 689.96,470.98 690.1,470.98 690.24,470.88 690.38,470.99 690.52,471 690.66,470.91 690.8,470.6 690.94,471.16 691.08,471.1 691.22,471.26 691.36,471 691.5,471.2 691.64,471.37 691.78,471.31 691.92,471.14 692.06,471.19 692.2,470.91 692.34,470.3 692.48,470.68 692.62,471.12 692.76,471.13 692.9,471.24 693.04,471.07 693.18,471.19 693.32,471.16 693.46,470.94 693.6,471.27 693.74,471.16 693.88,471.28 694.02,471.22 694.16,471.58 694.3,471.21 694.44,471.39 694.58,471.19 694.72,471.39 694.86,470.4 695,470.95 695.14,471.84 695.28,471.05 695.42,470.99 695.56,471.31 695.7,471.36 695.84,471.29 695.98,470.67 696.12,471.05 696.26,471.3 696.4,471.57 696.54,471.12 696.68,471.31 696.82,471.02 696.96,471.09 697.1,471.32 697.24,471.13 697.38,471.26 697.52,471.5 697.66,471.13 697.8,471.05 697.94,470.93 698.08,471.14 698.22,471.32 698.36,471.14 698.5,471.28 698.64,471.45 698.78,470.99 698.92,471.31 699.06,470.82 699.2,471.11 699.34,471.12 699.48,471.02 699.62,470.94 699.76,471.08 699.9,471.2 700.04,470.66 700.18,471.34 700.32,472.56 700.46,470.4 700.6,471.44 700.74,471.25 700.88,470.98 701.02,471.38 701.16,470.97 701.3,470.94 701.44,471.26 701.58,470.74 701.72,471.59 701.86,471.09 702,470.91 702.14,471.03 702.28,471.45 702.42,470.42 702.56,470.76 702.7,471.42 702.84,471.13 702.98,471.56 703.12,470.85 703.26,471.26 703.4,471.04 703.54,471.62 703.68,470.94 703.82,471 703.96,471.48 704.1,471.05 704.24,470.93 704.38,470.94 704.52,471.36 704.66,471.71 704.8,471.2 704.94,471.46 705.08,470.88 705.22,470.96 705.36,471.24 705.5,471.57 705.64,470.88 705.78,471.34 705.92,470.47 706.06,471.59 706.2,470.96 706.34,471.25 706.48,471.04 706.62,471.02 706.76,470.91 706.9,470.96 707.04,470.13 707.18,471.29 707.32,471.18 707.46,470.97 707.6,470.88 707.74,471.4 707.88,470.81 708.02,471.48 708.16,470.99 708.3,471.07 708.44,471.31 708.58,471.44 708.72,470.68 708.86,471.13 709,471.13 709.14,471.16 709.28,470.9 709.42,471.33 709.56,471.28 709.7,470.55 709.84,470.97 709.98,471.16 710.12,471.78 710.26,471.09 710.4,471.55 710.54,471.47 710.68,470.26 710.82,471.54 710.96,470.8 711.1,471.09 711.24,471.19 711.38,471.59 711.52,471.04 711.66,471.32 711.8,471.35 711.94,471.69 712.08,471.29 712.22,470.7 712.36,471.64 712.5,470.88 712.64,471.07 712.78,471.06 712.92,470.42 713.06,470.92 713.2,471.39 713.34,471.86 713.48,471.42 713.62,471.66 713.76,471.17 713.9,470.91 714.04,471.06 714.18,471.11 714.32,471.08 714.46,471.37 714.6,471.23 714.74,469.71 714.88,470.83 715.02,472.35 715.16,470.06 715.3,471.21 715.44,470.73 715.58,470.91 715.72,470.92 715.86,471.46 716,471.8 716.14,471.12 716.28,471.24 716.42,471.42 716.56,471.22 716.7,470.55 716.84,470.85 716.98,471.03 717.12,471.22 717.26,471.1 717.4,470.93 717.54,470.98 717.68,469.95 717.82,471.42 717.96,471.38 718.1,472.39 718.24,471.32 718.38,471.86 718.52,471.01 718.66,471.04 718.8,471.24 718.94,470.64 719.08,471.51 719.22,471.31 719.36,470.9 719.5,471.02 719.64,470.76 719.78,470.78 719.92,471.19 720.06,471.04 720.2,470.87 720.34,470.94 720.48,471.04 720.62,471.78 720.76,470.77 720.9,471.46 721.04,472.27 721.18,471.65 721.32,471.29 721.46,471.14 721.6,470.97 721.74,471.64 721.88,471 722.02,470.83 722.16,471.07 722.3,470.89 722.44,470.95 722.58,471.28 722.72,471.3 722.86,471.24 723,471.15 723.14,471.11 723.28,471.16 723.42,471.27 723.56,471.39 723.7,471.05 723.84,471.69 723.98,471.4 724.12,471.55 724.26,471.59 724.4,471.26 724.54,471.43 724.68,471.48 724.82,471.07 724.96,471.08 725.1,470.71 725.24,470.58 725.38,471.24 725.52,471.36 725.66,471.44 725.8,470.92 725.94,471.22 726.08,471.4 726.22,470.66 726.36,471.28 726.5,470.97 726.64,471.22 726.78,471.26 726.92,471.66 727.06,471.36 727.2,471.41 727.34,471.33 727.48,471.33 727.62,471.29 727.76,471.33 727.9,470.77 728.04,471.33 728.18,471.19 728.32,471.08 728.46,471.26 728.6,470.86 728.74,470.63 728.88,470.83 729.02,472.12 729.16,471.33 729.3,471.37 729.44,470.84 729.58,470.58 729.72,471.44 729.86,470.91 730,470.64 730.14,470.55 730.28,471.17 730.42,470.95 730.56,470.59 730.7,470.82 730.84,471.32 730.98,471.49 731.12,471.06 731.26,471.41 731.4,471.03 731.54,471.04 731.68,471.45 731.82,470.88 731.96,469.86 732.1,470.68 732.24,471.28 732.38,470.86 732.52,471.38 732.66,470.68 732.8,471.24 732.94,471.59 733.08,470.94 733.22,471.21 733.36,471.15 733.5,471.06 733.64,471.31 733.78,471.16 733.92,470.57 734.06,471.4 734.2,471.05 734.34,470.72 734.48,470.46 734.62,470.62 734.76,471.12 734.9,470.78 735.04,470.8 735.18,471.35 735.32,471.36 735.46,470.75 735.6,470.78 735.74,470.57 735.88,471.33 736.02,470.74 736.16,470.29 736.3,470.5 736.44,471.14 736.58,471.68 736.72,471.19 736.86,471.36 737,470.89 737.14,471.45 737.28,471.07 737.42,471.86 737.56,471.8 737.7,471.23 737.84,471.1 737.98,471 738.12,471.29 738.26,471.7 738.4,470.81 738.54,470.44 738.68,471.1 738.82,470.87 738.96,471.25 739.1,470.64 739.24,471.46 739.38,471.54 739.52,471.15 739.66,471.22 739.8,471 739.94,472.08 740.08,472.19 740.22,470.85 740.36,471.12 740.5,470.9 740.64,471.93 740.78,471.27 740.92,471.41 741.06,470.1 741.2,471.11 741.34,471.27 741.48,471.44 741.62,471.5 741.76,471.78 741.9,470.68 742.04,471.17 742.18,470.84 742.32,470.94 742.46,470.93 742.6,470.67 742.74,471.32 742.88,471.2 743.02,471.28 743.16,470.99 743.3,470.57 743.44,471.38 743.58,471.11 743.72,471.16 743.86,470.9 744,471.18 744.14,470.51 744.28,470.78 744.42,470.64 744.56,470.83 744.7,470.65 744.84,470.92 744.98,470.05 745.12,470.9 745.26,471.25 745.4,471.02 745.54,471.73 745.68,470.2 745.82,470.99 745.96,471.16 746.1,471.1 746.24,472.1 746.38,471.01 746.52,470.83 746.66,471.48 746.8,471.18 746.94,471.22 747.08,471.3 747.22,471.15 747.36,470.74 747.5,471.12 747.64,470.62 747.78,471.36 747.92,471.24 748.06,470.73 748.2,471.29 748.34,470.09 748.48,470.55 748.62,471.27 748.76,470.47 748.9,471.04 749.04,472.43 749.18,471.29 749.32,471.19 749.46,470.78 749.6,471.34 749.74,470.9 749.88,471.8 750.02,470.33 750.16,471.24 750.3,470.81 750.44,471.01 750.58,471.31 750.72,470.91 750.86,470.91 751,471.17 751.14,470.63 751.28,470.52 751.42,471.09 751.56,471.87 751.7,470.32 751.84,470.72 751.98,471.37 752.12,471.31 752.26,470.99 752.4,471.02 752.54,471.21 752.68,470.99 752.82,471.1 752.96,471.12 753.1,470.89 753.24,470.85 753.38,471.04 753.52,471.11 753.66,471.25 753.8,470.82 753.94,471.18 754.08,471.03 754.22,470.67 754.36,470.89 754.5,471.07 754.64,470.86 754.78,471.15 754.92,470.64 755.06,471.39 755.2,471.06 755.34,471.31 755.48,470.9 755.62,470.85 755.76,471.29 755.9,470.84 756.04,471.06 756.18,471.72 756.32,470.62 756.46,471.02 756.6,471.36 756.74,471.03 756.88,471.4 757.02,470.54 757.16,471.28 757.3,471.02 757.44,470.99 757.58,471.38 757.72,471.36 757.86,471.1 758,471.45 758.14,470.84 758.28,471.22 758.42,471.09 758.56,471.01 758.7,471.23 758.84,470.93 758.98,471.12 759.12,471.79 759.26,470.46 759.4,470.85 759.54,471.23 759.68,471.39 759.82,470.07 759.96,469.9 760.1,471.31 760.24,470.28 760.38,470.86 760.52,470.06 760.66,470.81 760.8,470.95 760.94,470.87 761.08,471.29 761.22,470.99 761.36,471.13 761.5,471.27 761.64,471.15 761.78,471.3 761.92,471.13 762.06,471.39 762.2,471.1 762.34,471.32 762.48,471.66 762.62,471.07 762.76,471.4 762.9,470.82 763.04,469.95 763.18,471.2 763.32,471.15 763.46,471.34 763.6,471.19 763.74,471.42 763.88,471.05 764.02,470.56 764.16,471.53 764.3,471.2 764.44,471.25 764.58,471.18 764.72,471.41 764.86,470.61 765,471.25 765.14,470.94 765.28,470.77 765.42,471.15 765.56,471.5 765.7,469.63 765.84,471.41 765.98,470.91 766.12,471.14 766.26,471.87 766.4,470.94 766.54,472.06 766.68,470.53 766.82,471.14 766.96,470.94 767.1,471.25 767.24,470.62 767.38,470.68 767.52,471.42 767.66,470.89 767.8,470.65 767.94,471.24 768.08,470.54 768.22,471.01 768.36,470.78 768.5,471.41 768.64,471.1 768.78,471.41 768.92,471.07 769.06,471.05 769.2,470.64 769.34,471.02 769.48,470.84 769.62,470.87 769.76,471.14 769.9,471.62 770.04,470.87 770.18,471.01 770.32,471.52 770.46,470.57 770.6,471.24 770.74,471.19 770.88,471.42 771.02,470.88 771.16,471.23 771.3,471.27 771.44,471.19 771.58,471.29 771.72,470.86 771.86,470.92 772,471.51 772.14,471.12 772.28,471.15 772.42,471.1 772.56,470.69 772.7,471.28 772.84,470.8 772.98,470.47 773.12,470.84 773.26,470.52 773.4,471.22 773.54,470.34 773.68,471.11 773.82,471.22 773.96,471 774.1,471.32 774.24,471.09 774.38,469.52 774.52,471.32 774.66,471.18 774.8,470.52 774.94,471.27 775.08,471.02 775.22,471.15 775.36,471.61 775.5,470.95 775.64,471.14 775.78,471.79 775.92,471.39 776.06,470.2 776.2,471.13 776.34,471.18 776.48,471.25 776.62,471.15 776.76,470.87 776.9,471.14 777.04,471.09 777.18,471.19 777.32,471.21 777.46,471.3 777.6,470.87 777.74,470.72 777.88,471.2 778.02,471.05 778.16,471.2 778.3,471.49 778.44,471.19 778.58,471.41 778.72,471.14 778.86,471.07 779,471.27 779.14,471.42 779.28,470.64 779.42,470.9 779.56,470.98 779.7,471.23 779.84,471.2 779.98,470.96 780.12,471.17 780.26,471.18 780.4,470.68 780.54,470.48 780.68,470.82 780.82,470.59 780.96,470.98 781.1,470.54 781.24,470.9 781.38,471.17 781.52,470.81 781.66,470.91 781.8,470.98 781.94,471.37 782.08,471.26 782.22,470.91 782.36,471.22 782.5,470.92 782.64,471.02 782.78,471.08 782.92,470.36 783.06,471.11 783.2,471.39 783.34,471.31 783.48,471.06 783.62,471.02 783.76,471.43 783.9,470.78 784.04,471.16 784.18,471.61 784.32,471.15 784.46,471.02 784.6,470.55 784.74,470.93 784.88,471.15 785.02,471.07 785.16,470.93 785.3,471.13 785.44,471.21 785.58,470.88 785.72,470.67 785.86,470.81 786,469.93 786.14,471.75 786.28,471.64 786.42,470.97 786.56,470.69 786.7,471.17 786.84,471.53 786.98,470.62 787.12,470.88 787.26,471.48 787.4,470.76 787.54,471.98 787.68,471.21 787.82,471.03 787.96,471.4 788.1,471.1 788.24,471.41 788.38,471.31 788.52,471.42 788.66,470.91 788.8,470.44 788.94,471.28 789.08,470.67 789.22,471.39 789.36,470.61 789.5,471 789.64,471.26 789.78,471.26 789.92,471.08 790.06,471.34 790.2,471.84 790.34,471.26 790.48,470.99 790.62,471.39 790.76,471.42 790.9,470.75 791.04,471.24 791.18,470.99 791.32,471.59 791.46,471.02 791.6,471.03 791.74,471.05 791.88,471.3 792.02,470.75 792.16,470.73 792.3,470.93 792.44,470.74 792.58,471.13 792.72,470.78 792.86,471.31 793,470.36 793.14,470.94 793.28,471.41 793.42,471.14 793.56,470.65 793.7,471.13 793.84,471.05 793.98,470.98 794.12,470.86 794.26,470.98 794.4,470.77 794.54,471.28 794.68,471.04 794.82,471.06 794.96,471.77 795.1,471 795.24,471.01 795.38,471.52 795.52,471.36 795.66,471.33 795.8,471.18 795.94,471.22 796.08,471.58 796.22,470.61 796.36,470.59 796.5,470.86 796.64,470.53 796.78,470.67 796.92,470.45 797.06,470.88 797.2,471 797.34,471.19 797.48,471.27 797.62,471.02 797.76,471.2 797.9,471.42 798.04,470.95 798.18,470.96 798.32,470.69 798.46,471.07 798.6,470.53 798.74,471.24 798.88,471.09 799.02,472.17 799.16,470.49 799.3,471.97 799.44,471.52 799.58,471.12 799.72,471.45 799.86,470.73 800,471.12 800.14,471.16 800.28,470.68 800.42,471.4 800.56,471.27 800.7,471.35 800.84,471.22 800.98,471.73 801.12,472.19 801.26,471.5 801.4,471.21 801.54,471.09 801.68,471.54 801.82,470.85 801.96,471.43 802.1,472.17 802.24,470.51 802.38,470.23 802.52,471.29 802.66,471.3 802.8,470.84 802.94,470.07 803.08,471.77 803.22,471.17 803.36,470.87 803.5,470.52 803.64,470.62 803.78,471.45 803.92,470.84 804.06,471.02 804.2,471.26 804.34,470.22 804.48,470.66 804.62,471.13 804.76,470.35 804.9,470.74 805.04,471.31 805.18,470.94 805.32,471.23 805.46,471.21 805.6,471.35 805.74,470.79 805.88,470.74 806.02,471.28 806.16,470.9 806.3,470.92 806.44,471.37 806.58,470.79 806.72,470.6 806.86,471.18 807,471.01 807.14,470.65 807.28,470.79 807.42,471.4 807.56,470.87 807.7,471.22 807.84,471.2 807.98,471.46 808.12,470.54 808.26,470.79 808.4,470.58 808.54,470.55 808.68,470.73 808.82,471.48 808.96,470.72 809.1,471.07 809.24,471.45 809.38,471.04 809.52,471.2 809.66,472.11 809.8,470.91 809.94,471.21 810.08,471.53 810.22,470.98 810.36,472.63 810.5,470.95 810.64,471.37 810.78,471.21 810.92,471.09 811.06,471.66 811.2,470.77 811.34,471.52 811.48,470.79 811.62,470.92 811.76,471.25 811.9,471.2 812.04,471.4 812.18,471.06 812.32,470.97 812.46,470.85 812.6,470.32 812.74,470.87 812.88,471.22 813.02,471.24 813.16,469.58 813.3,471.36 813.44,470.96 813.58,471.21 813.72,471.34 813.86,471 814,471.12 814.14,471.29 814.28,471.08 814.42,470.92 814.56,471.8 814.7,471.2 814.84,471.12 814.98,471.23 815.12,471.59 815.26,471.35 815.4,471.52 815.54,471.37 815.68,471.26 815.82,471.86 815.96,471.25 816.1,471.34 816.24,470.84 816.38,471.67 816.52,470.61 816.66,471.01 816.8,470.74 816.94,470.95 817.08,471.53 817.22,471.01 817.36,471.23 817.5,471.14 817.64,470.97 817.78,470.38 817.92,471.37 818.06,471.16 818.2,471.35 818.34,470.83 818.48,470.72 818.62,471 818.76,470.24 818.9,470.66 819.04,470.79 819.18,470.96 819.32,471.17 819.46,470.9 819.6,471.17 819.74,471.4 819.88,471.21 820.02,471.2 820.16,471.38 820.3,470.74 820.44,470.62 820.58,471.8 820.72,471.18 820.86,471.48 821,470.73 821.14,471.11 821.28,471.47 821.42,471.22 821.56,470.75 821.7,471.25 821.84,470.99 821.98,470.91 822.12,471.02 822.26,471.86 822.4,471.17 822.54,471.38 822.68,471.16 822.82,470.92 822.96,471.2 823.1,471.84 823.24,470.44 823.38,470.87 823.52,471.12 823.66,470.92 823.8,471.21 823.94,471.1 824.08,471.18 824.22,471.37 824.36,470.64 824.5,470.95 824.64,471.43 824.78,471.02 824.92,471.51 825.06,471.03 825.2,471.31 825.34,470.77 825.48,471.03 825.62,470.56 825.76,469.97 825.9,470.9 826.04,471.08 826.18,470.52 826.32,471.19 826.46,470.97 826.6,471 826.74,471.52 826.88,470.86 827.02,471.39 827.16,470.86 827.3,471 827.44,471.06 827.58,470.9 827.72,471.18 827.86,470.64 828,471.08 828.14,471.37 828.28,471.09 828.42,470.77 828.56,471.39 828.7,471.08 828.84,471.29 828.98,470.49 829.12,471.2 829.26,471.51 829.4,471 829.54,470.99 829.68,471.02 829.82,471.46 829.96,472.01 830.1,470.92 830.24,471.95 830.38,470.71 830.52,470.67 830.66,470.96 830.8,470.85 830.94,471.11 831.08,471.28 831.22,470.49 831.36,471.29 831.5,471.3 831.64,470.86 831.78,471.07 831.92,470.93 832.06,471.04 832.2,470.8 832.34,471.21 832.48,470.82 832.62,470.74 832.76,470.85 832.9,471.03 833.04,470.82 833.18,470.66 833.32,471.07 833.46,470.63 833.6,470.62 833.74,470.62 833.88,471.21 834.02,470.67 834.16,471.18 834.3,470.85 834.44,471.17 834.58,471.04 834.72,471.06 834.86,470.9 835,471.3 835.14,471.49 835.28,471.02 835.42,470.89 835.56,471.72 835.7,471.21 835.84,470.65 835.98,471.89 836.12,470.89 836.26,471.01 836.4,470.59 836.54,471.23 836.68,470.84 836.82,471.79 836.96,471.26 837.1,470.88 837.24,471.31 837.38,472.02 837.52,469.84 837.66,471.11 837.8,471.07 837.94,470.76 838.08,470.94 838.22,471.2 838.36,470.91 838.5,470.9 838.64,471.32 838.78,471.88 838.92,470.43 839.06,470.08 839.2,470.8 839.34,470.63 839.48,471.07 839.62,470.93 839.76,471.48 839.9,470.77 840.04,472.06 840.18,470.86 840.32,472.2 840.46,471.16 840.6,470.36 840.74,470.74 840.88,470.93 841.02,471.46 841.16,471.07 841.3,471.33 841.44,470.82 841.58,470.9 841.72,471.06 841.86,471.05 842,470.65 842.14,471.11 842.28,470.76 842.42,470.87 842.56,470.51 842.7,470.34 842.84,471.13 842.98,471.3 843.12,470.6 843.26,471.26 843.4,470.41 843.54,470.84 843.68,470.51 843.82,471.27 843.96,470.28 844.1,471.55 844.24,470.88 844.38,470.72 844.52,470.95 844.66,470.98 844.8,470.78 844.94,470.9 845.08,470.72 845.22,471.09 845.36,471.09 845.5,471.46 845.64,471.11 845.78,470.75 845.92,471.13 846.06,471.83 846.2,471.29 846.34,470.8 846.48,470.83 846.62,471.19 846.76,471.14 846.9,470.67 847.04,470.95 847.18,470.89 847.32,470.71 847.46,471.07 847.6,471.09 847.74,471.47 847.88,469.96 848.02,470.71 848.16,470.96 848.3,470.87 848.44,471.05 848.58,470.03 848.72,470.64 848.86,470.87 849,470.85 849.14,471.17 849.28,470.84 849.42,470.62 849.56,470.52 849.7,470.79 849.84,471.1 849.98,470.83 850.12,470.66 850.26,471.12 850.4,470.4 850.54,471.19 850.68,470.79 850.82,470.33 850.96,471.46 851.1,470.35 851.24,470.82 851.38,471.28 851.52,471.22 851.66,471.33 851.8,471.28 851.94,470.45 852.08,471.53 852.22,471.27 852.36,471.16 852.5,470.91 852.64,470.1 852.78,470.95 852.92,471.57 853.06,470.86 853.2,471.54 853.34,470.59 853.48,471.12 853.62,470.46 853.76,471.47 853.9,471.05 854.04,471.09 854.18,470.69 854.32,470.99 854.46,470.99 854.6,470.82 854.74,470.37 854.88,470.9 855.02,470.89 855.16,471.02 855.3,470.7 855.44,470.94 855.58,471.18 855.72,472.15 855.86,471.45 856,471.74 856.14,470.92 856.28,471.2 856.42,470.61 856.56,470.9 856.7,470.77 856.84,470.93 856.98,470.97 857.12,471.32 857.26,471.21 857.4,471.27 857.54,470.52 857.68,470.33 857.82,470.47 857.96,470.91 858.1,471.2 858.24,470.46 858.38,471.7 858.52,471.79 858.66,470.83 858.8,471 858.94,471.27 859.08,471.51 859.22,470.71 859.36,471.22 859.5,471.09 859.64,470.65 859.78,471.21 859.92,471.03 860.06,471.96 860.2,470.94 860.34,470.99 860.48,471.62 860.62,471.46 860.76,471.03 860.9,471.08 861.04,471.04 861.18,471.08 861.32,470.67 861.46,471.51 861.6,470.86 861.74,470.55 861.88,470.06 862.02,471.07 862.16,470.68 862.3,471.16 862.44,471.22 862.58,470.64 862.72,471.18 862.86,470.55 863,470.8 863.14,470.4 863.28,470.94 863.42,470.82 863.56,471.23 863.7,470.31 863.84,470.94 863.98,471.24 864.12,470.81 864.26,470.87 864.4,471.44 864.54,470.95 864.68,471.35 864.82,470.99 864.96,470.82 865.1,470.98 865.24,471 865.38,470.83 865.52,470.24 865.66,471.11 865.8,471.01 865.94,470.72 866.08,471.13 866.22,471.01 866.36,471.09 866.5,471.23 866.64,470.85 866.78,471.56 866.92,470.83 867.06,471.18 867.2,471.16 867.34,471.22 867.48,470.74 867.62,470.96 867.76,471.29 867.9,470.59 868.04,470.58 868.18,471.17 868.32,471.35 868.46,470.75 868.6,471.16 868.74,470.33 868.88,470.09 869.02,471.25 869.16,471.17 869.3,471.54 869.44,471.08 869.58,470.76 869.72,471.31 869.86,470.81 870,470.66 870.14,470.95 870.28,470.78 870.42,470.88 870.56,470.58 870.7,470.93 870.84,470.1 870.98,471.73 871.12,471.49 871.26,470.95 871.4,470.69" fill="none" stroke="#0000ff" stroke-width="1.15" stroke-linejoin="round" />
<text x="785.9" y="456.1" text-anchor="end" textLength="139.5" lengthAdjust="spacing">cell temperature</text>
<path d="M797 450.2H848.5" stroke="#ff00ff" stroke-width="1" fill="none"/>
<polyline points="117.4,651.6 122.7,646.9 127.9,642.7 134.3,638.2 140.7,635 147.2,633.4 152.3,633 154.2,626.6 155.9,622.1 160,615.7 166.4,605.4 172.9,595.7 178,590.6 181,588.4 183.4,587.1 185.4,552 188,514.3 190.3,485 191.4,465 192.9,445 194.3,432.1 196.4,422.1 199.3,415.7 200.7,410.7 202.1,400.7 203.1,397.3 203.8,396.3 204.6,396.1 205.3,396.4 206,397.1 208.6,401.4 214.3,409.3 220,415 224.3,418.6 226.4,419.3 227.2,417.1 227.7,435.3 228.3,426.4 229.3,425.2" fill="none" stroke="#ff00ff" stroke-width="1.0" stroke-linejoin="round" />
<polyline points="229.3,425.2 229.7,425.05 229.82,425.26 229.94,425.09 230.06,425.33 230.18,425.18 230.3,425.22 230.42,424.99 230.54,425.13 230.66,425.4 230.78,425.28 230.9,425.28 231.02,425.15 231.14,424.88 231.26,425.33 231.38,425.07 231.5,425.31 231.62,425.32 231.74,425.16 231.86,425.49 231.98,425.58 232.1,425.22 232.22,425.44 232.34,425.15 232.46,425.24 232.58,425.1 232.7,425.37 232.82,425.44 232.94,425.03 233.06,425.33 233.18,425.18 233.3,425.14 233.42,424.94 233.54,425.24 233.66,425.06 233.78,425.31 233.9,424.97 234.02,425.04 234.14,425.48 234.26,425.19 234.38,425.47 234.5,425.29 234.62,425.19 234.74,425.01 234.86,425.43 234.98,425.29 235.1,425.26 235.22,425.17 235.34,425.3 235.46,425.33 235.58,425.31 235.7,425.33 235.82,425.39 235.94,425.37 236.06,425.25 236.18,425.46 236.3,425.23 236.42,425.38 236.54,425.37 236.66,425.38 236.78,424.96 236.9,425.09 237.02,425.07 237.14,425.46 237.26,425.26 237.38,425.37 237.5,425.16 237.62,425.07 237.74,425.39 237.86,425.01 237.98,425.25 238.1,425.22 238.22,425.42 238.34,425.05 238.46,425.55 238.58,425.17 238.7,425.14 238.82,425.44 238.94,425.33 239.06,425.31 239.18,425.37 239.3,425.61 239.42,425.19 239.54,425.29 239.66,425.38 239.78,425.21 239.9,425.37 240.02,425.26 240.14,425.47 240.26,425.41 240.38,425.15 240.5,425.47 240.62,425.41 240.74,425.26 240.86,425.2 240.98,425.55 241.1,425.22 241.22,425.31 241.34,425.52 241.46,425.26 241.58,425.36 241.7,425.18 241.82,425.12 241.94,425.56 242.06,425.16 242.18,425.31 242.3,425.29 242.42,425.59 242.54,425.24 242.66,424.92 242.78,425.32 242.9,425.21 243.02,425.23 243.14,425.09 243.26,425.46 243.38,425.18 243.5,425.35 243.62,425.28 243.74,425.25 243.86,425.2 243.98,425.58 244.1,425.45 244.22,425.24 244.34,425.27 244.46,425.21 244.58,425.3 244.7,425.48 244.82,425.47 244.94,425.24 245.06,425.39 245.18,425.17 245.3,425.5 245.42,425.32 245.54,425.37 245.66,425.25 245.78,425.25 245.9,425.28 246.02,425.4 246.14,425.62 246.26,425.39 246.38,425.38 246.5,425.54 246.62,425.2 246.74,425.43 246.86,425.23 246.98,425.4 247.1,425.38 247.22,425.2 247.34,425.33 247.46,425.44 247.58,425.1 247.7,425.39 247.82,425.48 247.94,425.49 248.06,425.27 248.18,425.3 248.3,424.99 248.42,425.4 248.54,425.23 248.66,425.39 248.78,425.44 248.9,425.34 249.02,425.57 249.14,425.43 249.26,425.07 249.38,425.49 249.5,425.3 249.62,425.16 249.74,425.58 249.86,425.12 249.98,425.35 250.1,425.3 250.22,425.31 250.34,425.48 250.46,425.37 250.58,425.35 250.7,425.29 250.82,425.35 250.94,425.27 251.06,425.36 251.18,425.35 251.3,425.47 251.42,425.46 251.54,425.29 251.66,425.45 251.78,425.42 251.9,425.4 252.02,425.47 252.14,425.18 252.26,425.41 252.38,425.62 252.5,425.49 252.62,425.33 252.74,425.5 252.86,425.38 252.98,425.33 253.1,425.3 253.22,425.28 253.34,425.15 253.46,424.98 253.58,425.52 253.7,425.47 253.82,425.34 253.94,425.4 254.06,425.3 254.18,425.3 254.3,425.33 254.42,425.2 254.54,425.43 254.66,425.38 254.78,425.25 254.9,425.3 255.02,425.22 255.14,425.31 255.26,425.39 255.38,425.55 255.5,425.22 255.62,425.24 255.74,425.37 255.86,425.45 255.98,425.56 256.1,425.42 256.22,425.45 256.34,425.42 256.46,425.42 256.58,425.54 256.7,425.27 256.82,425.56 256.94,425.56 257.06,425.43 257.18,425.29 257.3,425.48 257.42,425.73 257.54,425.47 257.66,425.55 257.78,425.44 257.9,425.55 258.02,425.31 258.14,425.48 258.26,425.57 258.38,425.64 258.5,425.33 258.62,425.41 258.74,425.58 258.86,425.5 258.98,425.42 259.1,425.59 259.22,425.4 259.34,425.31 259.46,425.48 259.58,425.56 259.7,425.44 259.82,425.58 259.94,425.3 260.06,425.55 260.18,425.51 260.3,425.55 260.42,425.68 260.54,425.24 260.66,425.51 260.78,425.41 260.9,425.33 261.02,425.54 261.14,425.37 261.26,425.46 261.38,425.72 261.5,425.2 261.62,425.61 261.74,425.51 261.86,425.45 261.98,425.5 262.1,425.46 262.22,425.55 262.34,425.3 262.46,425.73 262.58,425.37 262.7,425.38 262.82,425.39 262.94,425.63 263.06,425.6 263.18,425.64 263.3,425.31 263.42,425.57 263.54,425.25 263.66,425.44 263.78,425.2 263.9,425.57 264.02,425.54 264.14,425.51 264.26,425.66 264.38,425.39 264.5,425.56 264.62,425.34 264.74,425.66 264.86,425.54 264.98,425.61 265.1,425.44 265.22,425.61 265.34,425.71 265.46,425.33 265.58,425.74 265.7,425.65 265.82,425.62 265.94,425.42 266.06,425.31 266.18,425.64 266.3,425.59 266.42,425.55 266.54,425.62 266.66,425.46 266.78,425.52 266.9,425.54 267.02,425.36 267.14,425.47 267.26,425.58 267.38,425.55 267.5,425.51 267.62,425.41 267.74,425.41 267.86,425.56 267.98,425.79 268.1,425.26 268.22,425.48 268.34,425.43 268.46,425.39 268.58,425.74 268.7,425.35 268.82,425.54 268.94,425.66 269.06,425.46 269.18,425.74 269.3,425.75 269.42,425.6 269.54,425.72 269.66,425.61 269.78,425.65 269.9,425.34 270.02,425.52 270.14,425.51 270.26,425.63 270.38,425.65 270.5,425.42 270.62,425.69 270.74,425.58 270.86,425.62 270.98,425.59 271.1,425.6 271.22,425.53 271.34,425.55 271.46,425.51 271.58,425.47 271.7,425.59 271.82,425.37 271.94,425.54 272.06,425.44 272.18,425.63 272.3,425.58 272.42,425.4 272.54,425.66 272.66,425.51 272.78,425.76 272.9,425.39 273.02,425.55 273.14,425.59 273.26,425.53 273.38,425.4 273.5,425.51 273.62,425.66 273.74,425.68 273.86,425.68 273.98,425.36 274.1,425.37 274.22,425.53 274.34,425.48 274.46,425.52 274.58,425.72 274.7,425.68 274.82,425.67 274.94,425.79 275.06,425.72 275.18,425.47 275.3,425.91 275.42,425.52 275.54,425.48 275.66,425.56 275.78,425.76 275.9,425.67 276.02,425.63 276.14,425.45 276.26,425.66 276.38,425.5 276.5,425.41 276.62,425.66 276.74,425.67 276.86,425.69 276.98,425.49 277.1,425.86 277.22,425.46 277.34,425.29 277.46,425.77 277.58,425.73 277.7,425.61 277.82,425.68 277.94,425.31 278.06,425.48 278.18,425.6 278.3,425.6 278.42,425.55 278.54,425.68 278.66,425.69 278.78,425.67 278.9,425.65 279.02,425.64 279.14,425.47 279.26,425.53 279.38,425.78 279.5,425.57 279.62,425.43 279.74,425.61 279.86,425.58 279.98,425.65 280.1,425.54 280.22,425.74 280.34,425.79 280.46,425.43 280.58,425.69 280.7,425.71 280.82,425.27 280.94,425.49 281.06,425.62 281.18,425.54 281.3,425.38 281.42,425.42 281.54,425.69 281.66,425.67 281.78,425.52 281.9,425.29 282.02,425.51 282.14,425.85 282.26,425.84 282.38,425.41 282.5,425.59 282.62,425.67 282.74,425.43 282.86,425.4 282.98,425.64 283.1,425.65 283.22,425.43 283.34,425.91 283.46,425.69 283.58,425.59 283.7,425.8 283.82,425.72 283.94,425.74 284.06,425.66 284.18,425.61 284.3,425.37 284.42,425.84 284.54,425.51 284.66,425.63 284.78,425.7 284.9,425.49 285.02,425.67 285.14,425.64 285.26,425.51 285.38,425.65 285.5,425.56 285.62,425.67 285.74,425.46 285.86,425.81 285.98,425.68 286.1,425.9 286.22,425.65 286.34,425.81 286.46,425.69 286.58,425.39 286.7,425.64 286.82,425.78 286.94,425.58 287.06,425.56 287.18,425.76 287.3,425.94 287.42,425.73 287.54,425.6 287.66,425.81 287.78,425.69 287.9,425.41 288.02,425.67 288.14,425.67 288.26,425.74 288.38,425.6 288.5,425.7 288.62,425.78 288.74,425.68 288.86,425.65 288.98,425.62 289.1,425.82 289.22,425.76 289.34,425.67 289.46,425.57 289.58,425.71 289.7,425.65 289.82,425.63 289.94,425.75 290.06,425.77 290.18,425.82 290.3,425.9 290.42,425.65 290.54,425.5 290.66,425.58 290.78,425.7 290.9,425.7 291.02,425.67 291.14,425.66 291.26,425.88 291.38,425.91 291.5,425.57 291.62,425.83 291.74,425.61 291.86,425.84 291.98,425.79 292.1,425.78 292.22,425.76 292.34,425.78 292.46,425.95 292.58,425.86 292.7,425.88 292.82,425.68 292.94,425.85 293.06,425.8 293.18,425.77 293.3,425.74 293.42,425.95 293.54,425.63 293.66,425.77 293.78,425.81 293.9,425.7 294.02,425.82 294.14,425.52 294.26,425.64 294.38,425.62 294.5,425.68 294.62,425.91 294.74,425.67 294.86,425.52 294.98,425.68 295.1,426.13 295.22,425.87 295.34,425.42 295.46,425.8 295.58,425.91 295.7,425.84 295.82,425.82 295.94,425.83 296.06,425.83 296.18,425.8 296.3,425.5 296.42,425.61 296.54,425.84 296.66,425.7 296.78,425.86 296.9,425.69 297.02,425.79 297.14,426.03 297.26,425.79 297.38,425.99 297.5,425.59 297.62,425.67 297.74,425.69 297.86,425.49 297.98,425.8 298.1,425.62 298.22,425.78 298.34,425.5 298.46,425.94 298.58,425.79 298.7,425.93 298.82,425.95 298.94,425.86 299.06,426.29 299.18,425.83 299.3,425.68 299.42,425.88 299.54,425.8 299.66,426.05 299.78,425.9 299.9,425.82 300.02,425.77 300.14,425.84 300.26,425.91 300.38,425.52 300.5,425.83 300.62,425.78 300.74,425.65 300.86,425.68 300.98,425.68 301.1,425.75 301.22,425.85 301.34,425.81 301.46,425.92 301.58,425.85 301.7,426.05 301.82,425.85 301.94,425.6 302.06,425.69 302.18,425.61 302.3,425.81 302.42,425.8 302.54,426.06 302.66,425.53 302.78,425.77 302.9,425.79 303.02,425.76 303.14,425.94 303.26,425.82 303.38,425.54 303.5,425.87 303.62,425.59 303.74,425.85 303.86,425.71 303.98,425.75 304.1,425.77 304.22,426.03 304.34,426 304.46,425.8 304.58,425.63 304.7,425.85 304.82,425.73 304.94,425.85 305.06,425.91 305.18,425.74 305.3,425.85 305.42,425.62 305.54,426.03 305.66,425.76 305.78,425.76 305.9,425.93 306.02,425.87 306.14,425.82 306.26,425.88 306.38,426.19 306.5,425.84 306.62,425.73 306.74,426.05 306.86,425.94 306.98,425.86 307.1,425.75 307.22,425.79 307.34,425.78 307.46,425.88 307.58,425.89 307.7,425.75 307.82,426.01 307.94,425.88 308.06,425.69 308.18,425.68 308.3,425.64 308.42,425.83 308.54,425.84 308.66,425.61 308.78,425.9 308.9,425.95 309.02,425.82 309.14,425.92 309.26,425.87 309.38,425.81 309.5,425.92 309.62,425.73 309.74,425.74 309.86,425.81 309.98,426.04 310.1,425.93 310.22,425.75 310.34,425.77 310.46,425.89 310.58,425.73 310.7,425.99 310.82,425.87 310.94,426.24 311.06,426.28 311.18,425.47 311.3,426.02 311.42,425.74 311.54,425.69 311.66,425.94 311.78,426.01 311.9,425.9 312.02,425.9 312.14,425.94 312.26,425.89 312.38,425.73 312.5,426.09 312.62,425.92 312.74,425.86 312.86,425.85 312.98,425.92 313.1,425.76 313.22,425.81 313.34,425.77 313.46,425.83 313.58,425.9 313.7,426.07 313.82,425.81 313.94,426.04 314.06,426 314.18,425.8 314.3,425.9 314.42,425.81 314.54,426.04 314.66,425.91 314.78,425.7 314.9,426.12 315.02,425.79 315.14,425.77 315.26,425.82 315.38,425.66 315.5,425.76 315.62,425.89 315.74,425.74 315.86,425.97 315.98,425.76 316.1,425.82 316.22,425.99 316.34,426.13 316.46,425.66 316.58,425.77 316.7,425.8 316.82,426.04 316.94,426.09 317.06,425.68 317.18,426.04 317.3,425.87 317.42,425.84 317.54,425.97 317.66,426.04 317.78,425.99 317.9,425.78 318.02,425.96 318.14,425.93 318.26,425.83 318.38,425.86 318.5,426 318.62,425.92 318.74,425.94 318.86,425.99 318.98,426.08 319.1,426.08 319.22,426.08 319.34,426.04 319.46,425.86 319.58,426.01 319.7,425.84 319.82,426.04 319.94,425.73 320.06,426.06 320.18,425.93 320.3,425.86 320.42,425.87 320.54,425.81 320.66,426.17 320.78,425.92 320.9,425.72 321.02,426.2 321.14,425.81 321.26,426.02 321.38,426 321.5,426.07 321.62,425.91 321.74,426.14 321.86,425.78 321.98,426.27 322.1,426.03 322.22,425.8 322.34,425.97 322.46,426.06 322.58,426.19 322.7,426.14 322.82,425.82 322.94,425.85 323.06,426.02 323.18,426.06 323.3,426.16 323.42,425.89 323.54,425.66 323.66,425.97 323.78,426.06 323.9,425.84 324.02,425.84 324.14,426.14 324.26,425.94 324.38,425.85 324.5,425.99 324.62,425.82 324.74,425.97 324.86,426.16 324.98,425.96 325.1,425.84 325.22,425.86 325.34,426.01 325.46,426.38 325.58,425.85 325.7,426 325.82,425.89 325.94,426.14 326.06,425.83 326.18,425.93 326.3,425.98 326.42,425.98 326.54,425.98 326.66,425.87 326.78,425.89 326.9,426.17 327.02,426.17 327.14,425.95 327.26,425.88 327.38,426.15 327.5,426.01 327.62,426.21 327.74,425.8 327.86,426 327.98,425.98 328.1,426.21 328.22,425.88 328.34,425.88 328.46,426.04 328.58,426.15 328.7,426.09 328.82,426.04 328.94,425.98 329.06,425.93 329.18,426.06 329.3,425.89 329.42,426.08 329.54,425.98 329.66,426.12 329.78,425.8 329.9,425.97 330.02,426.2 330.14,426.17 330.26,425.98 330.38,425.79 330.5,426.24 330.62,425.94 330.74,425.81 330.86,426 330.98,425.96 331.1,426.22 331.22,425.85 331.34,426.07 331.46,425.82 331.58,426.08 331.7,426.07 331.82,426.16 331.94,425.99 332.06,426.14 332.18,425.66 332.3,425.82 332.42,426.17 332.54,426.04 332.66,425.82 332.78,426.08 332.9,426.02 333.02,425.97 333.14,425.98 333.26,426.05 333.38,426.37 333.5,426.06 333.62,426.18 333.74,426.1 333.86,426.11 333.98,426.3 334.1,426.24 334.22,426.03 334.34,426.2 334.46,425.74 334.58,426.05 334.7,426.26 334.82,426.15 334.94,426.31 335.06,426.21 335.18,425.99 335.3,426.06 335.42,426.06 335.54,426.06 335.66,426.04 335.78,426.05 335.9,426.22 336.02,426.07 336.14,425.97 336.26,425.85 336.38,426.06 336.5,426.17 336.62,426.09 336.74,426.06 336.86,426.02 336.98,426.09 337.1,426.11 337.22,425.98 337.34,426.04 337.46,426.1 337.58,426.1 337.7,426.4 337.82,426.1 337.94,426.11 338.06,426.17 338.18,426.02 338.3,426.01 338.42,426 338.54,426.08 338.66,426.16 338.78,426.24 338.9,426.09 339.02,425.92 339.14,425.75 339.26,426.27 339.38,426.33 339.5,426.03 339.62,425.99 339.74,425.9 339.86,426.09 339.98,426.1 340.1,425.93 340.22,426.05 340.34,426.11 340.46,426.02 340.58,426.24 340.7,426.42 340.82,426.12 340.94,426.36 341.06,426.25 341.18,426.02 341.3,425.96 341.42,426.13 341.54,426.32 341.66,426.05 341.78,426.27 341.9,426.18 342.02,426.19 342.14,426.2 342.26,426.24 342.38,426.3 342.5,426.26 342.62,426.16 342.74,426.34 342.86,426.31 342.98,426.62 343.1,426.08 343.22,426.39 343.34,426.28 343.46,426.47 343.58,426.51 343.7,426.5 343.82,426.39 343.94,426.48 344.06,426.21 344.18,426.44 344.3,426.33 344.42,426.36 344.54,426.65 344.66,426.42 344.78,426.64 344.9,426.31 345.02,426.52 345.14,426.65 345.26,426.63 345.38,426.54 345.5,426.44 345.62,426.44 345.74,426.43 345.86,426.72 345.98,426.55 346.1,426.5 346.22,426.64 346.34,426.34 346.46,426.37 346.58,426.55 346.7,426.45 346.82,426.53 346.94,426.41 347.06,426.4 347.18,426.53 347.3,426.67 347.42,426.62 347.54,426.55 347.66,426.7 347.78,426.82 347.9,426.57 348.02,426.48 348.14,426.7 348.26,426.48 348.38,426.63 348.5,426.83 348.62,426.73 348.74,426.65 348.86,426.58 348.98,426.7 349.1,426.68 349.22,427.08 349.34,426.75 349.46,426.68 349.58,426.92 349.7,426.7 349.82,426.86 349.94,426.62 350.06,426.7 350.18,426.9 350.3,426.59 350.42,427.05 350.54,426.78 350.66,426.94 350.78,426.76 350.9,426.89 351.02,426.9 351.14,426.96 351.26,426.81 351.38,426.95 351.5,426.75 351.62,426.92 351.74,426.94 351.86,426.92 351.98,427.14 352.1,426.66 352.22,427.23 352.34,427.32 352.46,427.05 352.58,426.9 352.7,426.56 352.82,427.07 352.94,426.97 353.06,427.1 353.18,426.84 353.3,427.04 353.42,426.9 353.54,427.13 353.66,427.2 353.78,426.95 353.9,427.14 354.02,427.18 354.14,427.26 354.26,427 354.38,427.12 354.5,426.91 354.62,427.09 354.74,426.72 354.86,427.38 354.98,426.93 355.1,426.88 355.22,427.02 355.34,427.11 355.46,426.69 355.58,427.26 355.7,426.83 355.82,426.91 355.94,426.82 356.06,427.02 356.18,427 356.3,426.95 356.42,427.02 356.54,427.06 356.66,426.9 356.78,427.15 356.9,427.08 357.02,427.08 357.14,427.01 357.26,427.08 357.38,426.8 357.5,427 357.62,426.8 357.74,427.12 357.86,426.99 357.98,426.81 358.1,427.19 358.22,427.05 358.34,427.06 358.46,426.93 358.58,426.83 358.7,426.98 358.82,426.84 358.94,427.26 359.06,426.83 359.18,426.8 359.3,426.84 359.42,426.73 359.54,426.92 359.66,426.9 359.78,426.83 359.9,426.79 360.02,426.84 360.14,426.87 360.26,426.62 360.38,426.89 360.5,427.03 360.62,426.91 360.74,427.02 360.86,426.91 360.98,426.7 361.1,426.81 361.22,426.9 361.34,426.8 361.46,426.8 361.58,426.8 361.7,426.72 361.82,426.66 361.94,426.8 362.06,427.11 362.18,426.88 362.3,426.86 362.42,426.86 362.54,426.73 362.66,426.88 362.78,426.28 362.9,426.58 363.02,426.79 363.14,426.54 363.26,426.79 363.38,426.7 363.5,426.58 363.62,426.67 363.74,426.56 363.86,426.77 363.98,426.61 364.1,426.68 364.22,427.01 364.34,426.73 364.46,426.71 364.58,426.56 364.7,426.89 364.82,426.62 364.94,426.7 365.06,426.76 365.18,426.73 365.3,426.55 365.42,426.64 365.54,427.01 365.66,426.46 365.78,426.6 365.9,426.87 366.02,426.56 366.14,426.39 366.26,426.81 366.38,426.73 366.5,426.57 366.62,426.62 366.74,426.64 366.86,426.45 366.98,426.74 367.1,426.73 367.22,426.57 367.34,426.6 367.46,426.87 367.58,426.53 367.7,426.5 367.82,426.95 367.94,426.82 368.06,426.6 368.18,426.27 368.3,426.5 368.42,426.56 368.54,426.45 368.66,426.4 368.78,426.69 368.9,426.39 369.02,426.63 369.14,426.4 369.26,426.57 369.38,426.62 369.5,426.38 369.62,426.6 369.74,426.32 369.86,426.38 369.98,426.55 370.1,426.66 370.22,426.49 370.34,426.4 370.46,426.58 370.58,426.74 370.7,426.31 370.82,426.51 370.94,426.32 371.06,426.48 371.18,426.56 371.3,426.39 371.42,426.26 371.54,426.33 371.66,426.44 371.78,426.36 371.9,426.49 372.02,426.37 372.14,426.49 372.26,426.73 372.38,426.33 372.5,426.46 372.62,426.39 372.74,426.19 372.86,426.36 372.98,426.58 373.1,426.56 373.22,426.47 373.34,426.47 373.46,426.61 373.58,426.62 373.7,426.5 373.82,426.83 373.94,426.44 374.06,426.71 374.18,426.86 374.3,426.66 374.42,426.92 374.54,426.89 374.66,426.56 374.78,426.97 374.9,426.83 375.02,426.71 375.14,426.8 375.26,426.89 375.38,426.86 375.5,426.96 375.62,426.99 375.74,426.76 375.86,427.24 375.98,427.21 376.1,427.12 376.22,426.95 376.34,427.35 376.46,427.15 376.58,427.44 376.7,427.49 376.82,426.94 376.94,427.22 377.06,427.34 377.18,427.22 377.3,427.51 377.42,427.43 377.54,427.52 377.66,427.25 377.78,427.4 377.9,427.36 378.02,427.55 378.14,427.6 378.26,427.66 378.38,427.69 378.5,427.59 378.62,427.63 378.74,427.86 378.86,427.69 378.98,427.71 379.1,428 379.22,427.68 379.34,427.57 379.46,427.61 379.58,427.83 379.7,427.94 379.82,427.81 379.94,428.07 380.06,427.75 380.18,427.87 380.3,428.09 380.42,428.17 380.54,428.3 380.66,428.3 380.78,428.58 380.9,428.34 381.02,428.64 381.14,428.77 381.26,428.83 381.38,428.86 381.5,428.92 381.62,429.11 381.74,429.11 381.86,429.27 381.98,429.39 382.1,429.23 382.22,429.52 382.34,429.29 382.46,429.44 382.58,430 382.7,429.78 382.82,429.85 382.94,430.01 383.06,429.95 383.18,429.89 383.3,430.31 383.42,430.23 383.54,430.5 383.66,430.66 383.78,430.65 383.9,430.51 384.02,431 384.14,430.61 384.26,431.08 384.38,430.94 384.5,431.05 384.62,431.37 384.74,431.12 384.86,431.23 384.98,431.26 385.1,431.51 385.22,431.72 385.34,431.66 385.46,431.78 385.58,431.71 385.7,432.06 385.82,432.08 385.94,431.92 386.06,432.3 386.18,432.26 386.3,432.24 386.42,432.53 386.54,432.49 386.66,432.67 386.78,432.76 386.9,432.96 387.02,432.91 387.14,432.91 387.26,432.81 387.38,433.08 387.5,433.31 387.62,433.15 387.74,433.69 387.86,433.69 387.98,433.53 388.1,433.72 388.22,434.12 388.34,434.01 388.46,433.94 388.58,434.29 388.7,434.21 388.82,434.63 388.94,434.35 389.06,434.63 389.18,434.62 389.3,434.86 389.42,434.99 389.54,435.15 389.66,435.14 389.78,435.16 389.9,435.35 390.02,435.5 390.14,435.51 390.26,435.91 390.38,435.66 390.5,435.77 390.62,436 390.74,436.23 390.86,436.23 390.98,436.35 391.1,436.55 391.22,436.72 391.34,436.68 391.46,436.65 391.58,436.91 391.7,436.99 391.82,436.85 391.94,437.24 392.06,437.34 392.18,437.59 392.3,437.89 392.42,437.67 392.54,437.64 392.66,437.76 392.78,437.96 392.9,437.87 393.02,438.11 393.14,438.3 393.26,438.42 393.38,438.65 393.5,438.64 393.62,438.59 393.74,438.89 393.86,438.87 393.98,439.18 394.1,439.13 394.22,439.35 394.34,439.35 394.46,439.59 394.58,439.66 394.7,439.78 394.82,439.91 394.94,439.8 395.06,440.32 395.18,440.21 395.3,440.34 395.42,440.33 395.54,440.47 395.66,440.8 395.78,440.62 395.9,441.18 396.02,440.94 396.14,441.25 396.26,441.14 396.38,441.39 396.5,441.53 396.62,441.75 396.74,441.82 396.86,441.39 396.98,441.91 397.1,442.3 397.22,442.52 397.34,442.55 397.46,442.23 397.58,442.63 397.7,442.91 397.82,442.74 397.94,442.69 398.06,443.01 398.18,443.23 398.3,443.22 398.42,443.7 398.54,443.41 398.66,443.44 398.78,443.6 398.9,444.05 399.02,443.99 399.14,444.42 399.26,444.15 399.38,444.57 399.5,444.29 399.62,444.74 399.74,444.67 399.86,445.01 399.98,444.92 400.1,445.04 400.22,445.2 400.34,445.45 400.46,445.58 400.58,445.72 400.7,446.05 400.82,445.71 400.94,445.93 401.06,446.04 401.18,446.6 401.3,446.34 401.42,446.28 401.54,446.09 401.66,446.92 401.78,446.8 401.9,447.13 402.02,447.06 402.14,447.37 402.26,447.26 402.38,447.69 402.5,447.54 402.62,448.08 402.74,448.01 402.86,448.37 402.98,448.31 403.1,448.44 403.22,448.45 403.34,448.81 403.46,448.55 403.58,449.03 403.7,449.11 403.82,449.02 403.94,448.92 404.06,448.69 404.18,448.91 404.3,448.88 404.42,448.99 404.54,448.85 404.66,449.01 404.78,448.98 404.9,449.03 405.02,448.87 405.14,448.93 405.26,448.9 405.38,448.56 405.5,448.75 405.62,448.6 405.74,448.99 405.86,448.98 405.98,448.73 406.1,449.06 406.22,448.84 406.34,448.89 406.46,448.84 406.58,448.5 406.7,448.39 406.82,448.11 406.94,447.98 407.06,447.52 407.18,447.63 407.3,447.22 407.42,446.94 407.54,447.12 407.66,446.55 407.78,446.6 407.9,446.36 408.02,446.08 408.14,445.87 408.26,445.45 408.38,445.38 408.5,445.04 408.62,444.83 408.74,444.72 408.86,444.3 408.98,443.79 409.1,443.85 409.22,443.31 409.34,442.61 409.46,442.56 409.58,442.39 409.7,441.95 409.82,441.48 409.94,441.16 410.06,440.81 410.18,440.39 410.3,440.33 410.42,439.84 410.54,439.59 410.66,439.51 410.78,438.72 410.9,438.62 411.02,438.16 411.14,438.04 411.26,437.41 411.38,437.3 411.5,436.89 411.62,436.61 411.74,436.45 411.86,435.97 411.98,435.45 412.1,435.41 412.22,434.95 412.34,434.49 412.46,434.35 412.58,433.92 412.7,433.79 412.82,433.21 412.94,432.92 413.06,432.49 413.18,432.4 413.3,431.67 413.42,431.72 413.54,431.42 413.66,430.92 413.78,430.73 413.9,430.43 414.02,430.02 414.14,429.52 414.26,429.55 414.38,429.12 414.5,429.01 414.62,428.98 414.74,428.95 414.86,428.41 414.98,428.39 415.1,428.23 415.22,428.02 415.34,427.72 415.46,427.68 415.58,427.65 415.7,427.24 415.82,427.19 415.94,427.06 416.06,426.88 416.18,426.55 416.3,426.49 416.42,426.44 416.54,426.04 416.66,425.96 416.78,425.77 416.9,426.02 417.02,425.36 417.14,425.31 417.26,424.97 417.38,425.03 417.5,424.84 417.62,424.91 417.74,424.65 417.86,424.29 417.98,424.03 418.1,424.22 418.22,423.73 418.34,423.83 418.46,423.66 418.58,423.41 418.7,423.22 418.82,423.1 418.94,423.43 419.06,422.87 419.18,422.72 419.3,422.9 419.42,422.74 419.54,422.59 419.66,422.39 419.78,422.35 419.9,422.39 420.02,422.48 420.14,422.44 420.26,422.97 420.38,422.73 420.5,422.91 420.62,423.2 420.74,423.5 420.86,423.9 420.98,424 421.1,424.58 421.22,424.64 421.34,425.27 421.46,425.94 421.58,425.97 421.7,426.25 421.82,426.82 421.94,427.18 422.06,427.59 422.18,427.41 422.3,427.55 422.42,426.9 422.54,426.6 422.66,426.64 422.78,426.24 422.9,425.93 423.02,425.8 423.14,425.08 423.26,424.82 423.38,424.63 423.5,424.51 423.62,424.25 423.74,424.38 423.86,424.6 423.98,425.04 424.1,425.1 424.22,425.53 424.34,425.69 424.46,426.15 424.58,426.26 424.7,426.53 424.82,426.8 424.94,426.82 425.06,427.08 425.18,427.13 425.3,426.72 425.42,426.37 425.54,426.06 425.66,425.92 425.78,425.73 425.9,425.24 426.02,425.08 426.14,425.04 426.26,424.71 426.38,424.61 426.5,424.46 426.62,424.76 426.74,424.98 426.86,424.93 426.98,425.21 427.1,425.45 427.22,425.45 427.34,425.93 427.46,425.72 427.58,426.16 427.7,426.14 427.82,426.16 427.94,426.33 428.06,426.27 428.18,426.83 428.3,426.84 428.42,427 428.54,427.1 428.66,427.17 428.78,427.13 428.9,426.6 429.02,426.55 429.14,426.34 429.26,426.05 429.38,425.99 429.5,425.78 429.62,425.84 429.74,425.35 429.86,425.45 429.98,425.14 430.1,424.85 430.22,425.01 430.34,425.02 430.46,424.77 430.58,425.2 430.7,425.1 430.82,424.88 430.94,425.27 431.06,425.22 431.18,425.13 431.3,425.36 431.42,425.24 431.54,425.5 431.66,425.41 431.78,425.19 431.9,425.5 432.02,425.14 432.14,425.63 432.26,425.41 432.38,425.32 432.5,425.2 432.62,425.29 432.74,425.33 432.86,425.41 432.98,425.1 433.1,425.38 433.22,425.12 433.34,425.39 433.46,425.44 433.58,425.47 433.7,425.17 433.82,425.29 433.94,425.3 434.06,425.08 434.18,425.45 434.3,425.33 434.42,425.54 434.54,425.18 434.66,425.48 434.78,425.45 434.9,425.53 435.02,425.43 435.14,425.6 435.26,425.41 435.38,425.46 435.5,425.41 435.62,425.48 435.74,425.35 435.86,425.32 435.98,425.15 436.1,425.36 436.22,425.58 436.34,425.73 436.46,425.22 436.58,425.21 436.7,425.25 436.82,425.4 436.94,425.54 437.06,425.5 437.18,425.6 437.3,425.26 437.42,425.38 437.54,425.35 437.66,425.2 437.78,425.02 437.9,425.32 438.02,425.6 438.14,425.35 438.26,425.46 438.38,425.45 438.5,425.1 438.62,425.43 438.74,425.23 438.86,425.17 438.98,425.48 439.1,425.55 439.22,425.47 439.34,425.39 439.46,425.41 439.58,425.52 439.7,425.65 439.82,425.3 439.94,425.23 440.06,425.47 440.18,425.31 440.3,425.67 440.42,425.52 440.54,425.41 440.66,425.71 440.78,425.2 440.9,425.64 441.02,425.5 441.14,425.56 441.26,425.66 441.38,425.47 441.5,425.74 441.62,425.73 441.74,425.57 441.86,425.76 441.98,425.76 442.1,425.72 442.22,425.71 442.34,425.75 442.46,425.8 442.58,426.17 442.7,425.84 442.82,425.67 442.94,425.8 443.06,426.06 443.18,425.84 443.3,426.03 443.42,425.93 443.54,426.17 443.66,426 443.78,426.16 443.9,426.06 444.02,426.24 444.14,426.18 444.26,426.13 444.38,426.1 444.5,426.09 444.62,426.03 444.74,426.41 444.86,426.21 444.98,426.18 445.1,426.11 445.22,426.1 445.34,426.21 445.46,426.32 445.58,426.43 445.7,426.59 445.82,426.57 445.94,426.49 446.06,426.47 446.18,426.22 446.3,426.11 446.42,426.31 446.54,426.41 446.66,426.51 446.78,426.35 446.9,426.51 447.02,426.26 447.14,426.15 447.26,426.21 447.38,426.28 447.5,426.19 447.62,426.29 447.74,426.38 447.86,426.29 447.98,426.18 448.1,426.44 448.22,426.21 448.34,426.26 448.46,426.25 448.58,426.19 448.7,425.83 448.82,426.27 448.94,426.09 449.06,426.27 449.18,426.19 449.3,426.35 449.42,426.2 449.54,426.04 449.66,426.36 449.78,425.79 449.9,426.09 450.02,425.92 450.14,426.03 450.26,425.88 450.38,425.85 450.5,426.09 450.62,425.8 450.74,425.87 450.86,425.99 450.98,425.96 451.1,425.97 451.22,426.07 451.34,426.02 451.46,426.02 451.58,426.16 451.7,425.7 451.82,426.08 451.94,425.89 452.06,425.77 452.18,426.07 452.3,425.78 452.42,425.65 452.54,425.8 452.66,425.77 452.78,425.56 452.9,425.79 453.02,425.86 453.14,425.8 453.26,425.83 453.38,425.71 453.5,425.54 453.62,425.57 453.74,425.54 453.86,425.73 453.98,425.71 454.1,425.67 454.22,425.42 454.34,425.96 454.46,425.73 454.58,425.52 454.7,425.68 454.82,425.67 454.94,425.47 455.06,425.39 455.18,425.6 455.3,425.64 455.42,425.59 455.54,425.78 455.66,425.58 455.78,425.56 455.9,425.69 456.02,425.52 456.14,425.44 456.26,425.29 456.38,425.45 456.5,425.61 456.62,425.38 456.74,425.28 456.86,425.39 456.98,425.38 457.1,425.53 457.22,425.26 457.34,425.61 457.46,425.39 457.58,425.58 457.7,425.32 457.82,425.6 457.94,425.11 458.06,425.51 458.18,425.71 458.3,425.51 458.42,425.7 458.54,425.52 458.66,425.7 458.78,425.47 458.9,425.92 459.02,425.74 459.14,425.82 459.26,425.74 459.38,425.57 459.5,425.64 459.62,425.53 459.74,425.97 459.86,425.85 459.98,425.83 460.1,425.89 460.22,425.87 460.34,425.99 460.46,425.8 460.58,425.86 460.7,426.19 460.82,425.99 460.94,425.79 461.06,426.25 461.18,426.11 461.3,425.96 461.42,426.12 461.54,426.05 461.66,425.99 461.78,426.22 461.9,426.14 462.02,426.32 462.14,426.18 462.26,426.36 462.38,426.26 462.5,425.88 462.62,426.11 462.74,426.51 462.86,426.14 462.98,426.34 463.1,426.49 463.22,426.21 463.34,426.46 463.46,426.42 463.58,426.46 463.7,426.2 463.82,426.4 463.94,426.55 464.06,426.26 464.18,426.3 464.3,426.51 464.42,426.45 464.54,426.53 464.66,426.53 464.78,426.55 464.9,426.89 465.02,426.59 465.14,426.49 465.26,426.65 465.38,426.5 465.5,426.5 465.62,426.66 465.74,426.71 465.86,426.69 465.98,426.8 466.1,426.49 466.22,426.9 466.34,426.74 466.46,426.57 466.58,427.22 466.7,426.82 466.82,426.75 466.94,426.79 467.06,426.52 467.18,426.82 467.3,426.69 467.42,426.87 467.54,427.01 467.66,427.08 467.78,426.9 467.9,426.81 468.02,427.07 468.14,427.03 468.26,427.08 468.38,426.95 468.5,427.3 468.62,426.82 468.74,427.1 468.86,426.86 468.98,426.85 469.1,427 469.22,427.04 469.34,426.97 469.46,427.07 469.58,427.15 469.7,426.87 469.82,427.44 469.94,426.93 470.06,426.83 470.18,426.74 470.3,426.88 470.42,426.94 470.54,427.12 470.66,426.9 470.78,427 470.9,426.96 471.02,427.11 471.14,426.77 471.26,427.04 471.38,427.07 471.5,427.15 471.62,427.14 471.74,427.1 471.86,427.02 471.98,426.9 472.1,427.01 472.22,427.02 472.34,426.99 472.46,427.04 472.58,426.99 472.7,426.84 472.82,427.09 472.94,427.11 473.06,426.9 473.18,427.03 473.3,426.87 473.42,426.75 473.54,426.78 473.66,426.74 473.78,426.34 473.9,427.07 474.02,426.68 474.14,426.58 474.26,426.76 474.38,426.77 474.5,426.85 474.62,426.78 474.74,426.81 474.86,426.85 474.98,426.74 475.1,426.91 475.22,426.46 475.34,426.72 475.46,426.87 475.58,426.36 475.7,426.58 475.82,426.67 475.94,426.52 476.06,426.96 476.18,426.68 476.3,426.74 476.42,426.76 476.54,426.71 476.66,426.67 476.78,426.58 476.9,426.56 477.02,426.32 477.14,426.27 477.26,426.56 477.38,426.73 477.5,426.35 477.62,426.37 477.74,426.44 477.86,426.51 477.98,426.53 478.1,426.46 478.22,426.44 478.34,426.31 478.46,426.47 478.58,426.64 478.7,426.37 478.82,426.54 478.94,426.33 479.06,426.42 479.18,426.65 479.3,426.52 479.42,426.77 479.54,426.52 479.66,426.59 479.78,426.48 479.9,426.25 480.02,426.36 480.14,426.59 480.26,426.4 480.38,426.17 480.5,426.56 480.62,426.53 480.74,426.58 480.86,426.29 480.98,426.46 481.1,426.28 481.22,426.45 481.34,426.58 481.46,426.31 481.58,426.31 481.7,426.12 481.82,426.49 481.94,426.32 482.06,426.41 482.18,426.3 482.3,426.45 482.42,426.29 482.54,426.22 482.66,426.29 482.78,426.64 482.9,426.42 483.02,426.44 483.14,426.18 483.26,426.18 483.38,426.27 483.5,426.45 483.62,426.14 483.74,426.19 483.86,426.34 483.98,426.08 484.1,426.17 484.22,426.18 484.34,426.25 484.46,426.09 484.58,426.39 484.7,426.28 484.82,426.34 484.94,426.27 485.06,426.21 485.18,426.29 485.3,426.33 485.42,426.08 485.54,426.23 485.66,426.29 485.78,426.04 485.9,426.11 486.02,425.97 486.14,426.06 486.26,426.1 486.38,426.11 486.5,426.3 486.62,426.33 486.74,426.1 486.86,426.21 486.98,426.2 487.1,426.19 487.22,426.17 487.34,425.95 487.46,426.16 487.58,426.02 487.7,425.94 487.82,426.33 487.94,426.17 488.06,426.22 488.18,426.02 488.3,426.22 488.42,426.27 488.54,425.93 488.66,426.03 488.78,426.14 488.9,426.1 489.02,426.05 489.14,425.96 489.26,426.21 489.38,426.05 489.5,426.03 489.62,425.95 489.74,425.97 489.86,426.05 489.98,426.16 490.1,425.99 490.22,426.08 490.34,426.1 490.46,425.98 490.58,426.2 490.7,425.96 490.82,426.01 490.94,426.03 491.06,425.95 491.18,425.9 491.3,426.08 491.42,426.08 491.54,425.91 491.66,426.07 491.78,425.83 491.9,425.94 492.02,426.07 492.14,425.93 492.26,425.94 492.38,425.98 492.5,426.15 492.62,426 492.74,425.94 492.86,425.99 492.98,425.8 493.1,425.77 493.22,425.74 493.34,425.88 493.46,425.97 493.58,425.74 493.7,425.97 493.82,425.74 493.94,425.99 494.06,425.79 494.18,425.78 494.3,425.76 494.42,425.53 494.54,425.73 494.66,425.74 494.78,425.76 494.9,425.89 495.02,425.74 495.14,425.96 495.26,425.78 495.38,426.09 495.5,425.75 495.62,425.65 495.74,425.7 495.86,425.86 495.98,425.86 496.1,425.82 496.22,426.05 496.34,426.02 496.46,425.89 496.58,426.11 496.7,425.66 496.82,425.79 496.94,426.12 497.06,425.71 497.18,425.72 497.3,425.96 497.42,425.63 497.54,425.78 497.66,425.82 497.78,426.22 497.9,425.9 498.02,426.12 498.14,425.74 498.26,425.97 498.38,425.87 498.5,425.98 498.62,426.02 498.74,425.9 498.86,426.03 498.98,426.04 499.1,425.84 499.22,425.85 499.34,426.1 499.46,425.97 499.58,426.19 499.7,426.12 499.82,426.13 499.94,426.15 500.06,425.98 500.18,425.8 500.3,426.12 500.42,426.15 500.54,426.04 500.66,426.05 500.78,426.26 500.9,426.02 501.02,426.3 501.14,426.32 501.26,426.12 501.38,425.87 501.5,426 501.62,426.23 501.74,426.11 501.86,426.24 501.98,426.15 502.1,426.08 502.22,426.2 502.34,426.3 502.46,425.92 502.58,425.96 502.7,426.06 502.82,426.35 502.94,426.16 503.06,426.06 503.18,426.27 503.3,426.12 503.42,426.04 503.54,426.3 503.66,425.93 503.78,426.3 503.9,426.47 504.02,426.24 504.14,426.26 504.26,426.28 504.38,426.19 504.5,426.51 504.62,426.08 504.74,426.17 504.86,426.19 504.98,426.21 505.1,426.16 505.22,426.23 505.34,426.17 505.46,426.39 505.58,426.22 505.7,426.65 505.82,426.34 505.94,426.02 506.06,426.27 506.18,426.63 506.3,426.11 506.42,426.39 506.54,426.53 506.66,426.38 506.78,426.63 506.9,425.98 507.02,426.56 507.14,426.45 507.26,426.4 507.38,426.46 507.5,426.32 507.62,426.18 507.74,426.42 507.86,426.45 507.98,426.36 508.1,426.39 508.22,426.4 508.34,426.48 508.46,426.41 508.58,426.21 508.7,426.45 508.82,426.39 508.94,426.47 509.06,426.5 509.18,426.2 509.3,426.47 509.42,426.49 509.54,426.6 509.66,426.45 509.78,426.65 509.9,426.53 510.02,426.28 510.14,426.33 510.26,426.39 510.38,426.58 510.5,426.34 510.62,426.42 510.74,426.64 510.86,426.2 510.98,426.68 511.1,426.38 511.22,426.29 511.34,426.28 511.46,426.4 511.58,426.02 511.7,426.28 511.82,426.37 511.94,426.46 512.06,426.4 512.18,426.38 512.3,426.07 512.42,426.67 512.54,426.28 512.66,426.35 512.78,426.26 512.9,426.13 513.02,426.37 513.14,426.36 513.26,426.28 513.38,426.15 513.5,426.26 513.62,426.34 513.74,426.06 513.86,426.15 513.98,426.38 514.1,426.2 514.22,426.09 514.34,426.06 514.46,425.93 514.58,425.61 514.7,425.63 514.82,425.93 514.94,425.55 515.06,425.7 515.18,425.14 515.3,425.53 515.42,425.11 515.54,425.01 515.66,424.59 515.78,425.97 515.9,424.94 516.02,425.39 516.14,425.26 516.26,425.08 516.38,425.01 516.5,424.9 516.62,424.37 516.74,425.16 516.86,425.32 516.98,424.86 517.1,424.96 517.22,424.77 517.34,424.7 517.46,424.98 517.58,425.02 517.7,424.77 517.82,423.83 517.94,425.29 518.06,424.83 518.18,424.64 518.3,425.14 518.42,425.67 518.54,424.69 518.66,424.88 518.78,424.71 518.9,424.83 519.02,425.26 519.14,425.22 519.26,425.45 519.38,425.31 519.5,425.3 519.62,426.17 519.74,424.81 519.86,423.12 519.98,424.69 520.1,424.59 520.22,424.76 520.34,425.23 520.46,424.9 520.58,424.87 520.7,425 520.82,424.57 520.94,425.8 521.06,424.98 521.18,425 521.3,424.66 521.42,425.3 521.54,425.45 521.66,425.19 521.78,425.82 521.9,425.08 522.02,425.07 522.14,424.85 522.26,424.83 522.38,425.56 522.5,425.18 522.62,424.68 522.74,425.32 522.86,425.25 522.98,424.33 523.1,425.05 523.22,424.89 523.34,424.66 523.46,425.47 523.58,424.81 523.7,425.33 523.82,425.24 523.94,425.14 524.06,425.69 524.18,424.82 524.3,425.08 524.42,425.07 524.54,424.9 524.66,424.64 524.78,425.27 524.9,425.83 525.02,425.33 525.14,423.85 525.26,424.27 525.38,425.35 525.5,424.9 525.62,425.26 525.74,425.16 525.86,424.97 525.98,424.55 526.1,425.11 526.22,425.47 526.34,425.16 526.46,425.09 526.58,424.98 526.7,425.33 526.82,425.16 526.94,424.59 527.06,425.37 527.18,425 527.3,425.55 527.42,425.81 527.54,424.95 527.66,425.03 527.78,425.02 527.9,425.18 528.02,425.1 528.14,424.9 528.26,425.1 528.38,425.03 528.5,424.54 528.62,424.97 528.74,424.99 528.86,425.36 528.98,425.3 529.1,425.08 529.22,424.57 529.34,425.83 529.46,425.29 529.58,426.21 529.7,425.05 529.82,425 529.94,425.46 530.06,424.94 530.18,425.03 530.3,424.92 530.42,424.73 530.54,425.53 530.66,425.6 530.78,425.09 530.9,424.21 531.02,424.95 531.14,425.16 531.26,424.27 531.38,424.98 531.5,424.88 531.62,425.54 531.74,425.28 531.86,424.69 531.98,425.12 532.1,425.15 532.22,424.77 532.34,424.48 532.46,424.22 532.58,424.77 532.7,424.84 532.82,424.99 532.94,425.33 533.06,424.97 533.18,426.11 533.3,424.72 533.42,425.1 533.54,424.93 533.66,425.41 533.78,425.2 533.9,424.7 534.02,425.48 534.14,425.14 534.26,424.81 534.38,425.88 534.5,425.01 534.62,425.08 534.74,424.65 534.86,425.23 534.98,424.06 535.1,425.49 535.22,424.92 535.34,425.29 535.46,425.17 535.58,425.12 535.7,424.96 535.82,425.2 535.94,424.68 536.06,424.6 536.18,424.24 536.3,425.03 536.42,425.34 536.54,425.9 536.66,423.42 536.78,424.48 536.9,425.19 537.02,424.9 537.14,425.11 537.26,425.12 537.38,424.53 537.5,425.23 537.62,425.75 537.74,426 537.86,424.77 537.98,425.57 538.1,424.95 538.22,424.67 538.34,424.78 538.46,424.8 538.58,424.82 538.7,424.65 538.82,425.62 538.94,424.98 539.06,424.88 539.18,425.6 539.3,427.04 539.42,424.51 539.54,424.48 539.66,424.73 539.78,425 539.9,424.67 540.02,425.03 540.14,424.52 540.26,425.39 540.38,425.08 540.5,425.09 540.62,425.25 540.74,425.07 540.86,424.55 540.98,424.83 541.1,424.84 541.22,425.13 541.34,425.17 541.46,424.76 541.58,425.27 541.7,425.09 541.82,424.38 541.94,425.1 542.06,425 542.18,423.55 542.3,424.94 542.42,425.1 542.54,425.15 542.66,426.24 542.78,424.81 542.9,425.39 543.02,424.69 543.14,425.42 543.26,424.75 543.38,425.14 543.5,424.71 543.62,424.47 543.74,425.06 543.86,424.1 543.98,425.17 544.1,425.48 544.22,425.26 544.34,425.04 544.46,423.87 544.58,425.12 544.7,424.69 544.82,424.71 544.94,425.31 545.06,424.84 545.18,425.28 545.3,425.25 545.42,425.58 545.54,424.2 545.66,424.96 545.78,424.98 545.9,425.45 546.02,423.78 546.14,425.2 546.26,426.84 546.38,425.01 546.5,424.73 546.62,425.05 546.74,424.76 546.86,424.7 546.98,426.1 547.1,424.78 547.22,425 547.34,425.03 547.46,424.77 547.58,425.27 547.7,425.1 547.82,425.55 547.94,424.94 548.06,425.6 548.18,425.35 548.3,424.68 548.42,424.9 548.54,424.88 548.66,424.67 548.78,425.09 548.9,425.63 549.02,424.09 549.14,425.14 549.26,424.71 549.38,424.36 549.5,425.57 549.62,425.1 549.74,426 549.86,425.63 549.98,424.76 550.1,424.53 550.22,425.07 550.34,424.85 550.46,425.17 550.58,424.83 550.7,424.91 550.82,425.2 550.94,425.18 551.06,425.57 551.18,425.29 551.3,425.58 551.42,424.76 551.54,424.99 551.66,425.59 551.78,425.28 551.9,424.71 552.02,424.69 552.14,424.62 552.26,424.88 552.38,424.75 552.5,424.57 552.62,425.02 552.74,425.13 552.86,425.43 552.98,425.38 553.1,425.04 553.22,424.72 553.34,425.8 553.46,424.81 553.58,424.5 553.7,425.54 553.82,425.22 553.94,425.52 554.06,425.09 554.18,425.32 554.3,423.64 554.42,425.03 554.54,425.08 554.66,424.57 554.78,425.78 554.9,424.9 555.02,425.52 555.14,425.3 555.26,425.27 555.38,425.41 555.5,424.17 555.62,424.56 555.74,425.06 555.86,425.1 555.98,425.27 556.1,424.66 556.22,426.72 556.34,424.88 556.46,424.58 556.58,424.9 556.7,425.25 556.82,424.64 556.94,424.56 557.06,425.9 557.18,424.78 557.3,425.17 557.42,424.28 557.54,425.14 557.66,425.13 557.78,424.95 557.9,425.58 558.02,425.45 558.14,425.1 558.26,425.46 558.38,425.26 558.5,425.05 558.62,425.02 558.74,424.62 558.86,425.3 558.98,425.35 559.1,425.16 559.22,425.36 559.34,425.16 559.46,425.42 559.58,425.31 559.7,424.76 559.82,424.97 559.94,425.2 560.06,424.96 560.18,425.89 560.3,425.36 560.42,424.79 560.54,423.87 560.66,425.25 560.78,424.74 560.9,425.35 561.02,425.18 561.14,426.57 561.26,425.67 561.38,424.84 561.5,424.39 561.62,424.97 561.74,425.28 561.86,425.53 561.98,425.02 562.1,424.69 562.22,424.66 562.34,424.61 562.46,424.88 562.58,424.56 562.7,425.34 562.82,425.01 562.94,425.53 563.06,425.67 563.18,424.48 563.3,425.27 563.42,425.13 563.54,425.45 563.66,425.41 563.78,424.83 563.9,424.35 564.02,424.72 564.14,425.04 564.26,425.26 564.38,424.52 564.5,424.37 564.62,425.05 564.74,423.9 564.86,423.55 564.98,425.09 565.1,424.52 565.22,426.74 565.34,425.3 565.46,424.84 565.58,424.83 565.7,424.76 565.82,424.74 565.94,425.04 566.06,425.39 566.18,425.05 566.3,425.37 566.42,424.87 566.54,425.25 566.66,425.01 566.78,425.38 566.9,424.68 567.02,424.87 567.14,424.89 567.26,424.61 567.38,425.23 567.5,425.68 567.62,424.84 567.74,424.95 567.86,425.73 567.98,424.77 568.1,424.85 568.22,425.62 568.34,424.64 568.46,424.76 568.58,424.9 568.7,425.1 568.82,425.1 568.94,426.43 569.06,425.11 569.18,426.23 569.3,425.08 569.42,424.07 569.54,424.78 569.66,426.9 569.78,425.42 569.9,424.89 570.02,424.82 570.14,425.29 570.26,424.85 570.38,424.54 570.5,425.19 570.62,424.43 570.74,424.73 570.86,424.78 570.98,425.86 571.1,424.95 571.22,424.63 571.34,424.48 571.46,425.29 571.58,424.09 571.7,424.73 571.82,423.9 571.94,425.2 572.06,425.57 572.18,425.14 572.3,424.94 572.42,424.83 572.54,425.31 572.66,424.99 572.78,424.9 572.9,424.62 573.02,424.77 573.14,425.1 573.26,424.74 573.38,425 573.5,425.3 573.62,424.38 573.74,424.88 573.86,424.94 573.98,425.02 574.1,424.83 574.22,424.69 574.34,425.12 574.46,424.56 574.58,424.5 574.7,424.63 574.82,424.46 574.94,426.09 575.06,424.78 575.18,425.24 575.3,424.78 575.42,424.91 575.54,425.16 575.66,425.17 575.78,424.58 575.9,424.69 576.02,425.12 576.14,425.08 576.26,424.7 576.38,424.89 576.5,424.91 576.62,424.98 576.74,425.53 576.86,425 576.98,424.26 577.1,425.97 577.22,425.62 577.34,425.11 577.46,425.07 577.58,423.93 577.7,424.81 577.82,425.01 577.94,425.02 578.06,424.84 578.18,424.71 578.3,425.27 578.42,424.8 578.54,425.02 578.66,424.91 578.78,425.37 578.9,425.2 579.02,426.95 579.14,425.26 579.26,424.84 579.38,423.67 579.5,424.69 579.62,424.99 579.74,425.72 579.86,425.18 579.98,425.76 580.1,425.16 580.22,424.85 580.34,425.96 580.46,425.28 580.58,424.16 580.7,425.07 580.82,424.9 580.94,424.39 581.06,424.82 581.18,425.04 581.3,423.56 581.42,425.17 581.54,425.01 581.66,424.32 581.78,426.11 581.9,425.81 582.02,424.85 582.14,425.56 582.26,425.42 582.38,425.01 582.5,425.06 582.62,424.79 582.74,425.21 582.86,425.18 582.98,425.24 583.1,424.9 583.22,425.21 583.34,424.26 583.46,425.01 583.58,424.68 583.7,424.94 583.82,425.48 583.94,424.4 584.06,425.46 584.18,425.05 584.3,424.98 584.42,425.5 584.54,424.82 584.66,425.22 584.78,425.26 584.9,424.75 585.02,425.85 585.14,424.8 585.26,424.66 585.38,423.25 585.5,424.26 585.62,424.89 585.74,425.27 585.86,425.3 585.98,425.19 586.1,425.04 586.22,425.42 586.34,424.69 586.46,424.78 586.58,424.19 586.7,424.8 586.82,425.26 586.94,424.74 587.06,424.92 587.18,425.38 587.3,425.09 587.42,424.04 587.54,424.46 587.66,424.49 587.78,424.44 587.9,425.21 588.02,424.98 588.14,424.88 588.26,424.26 588.38,425.14 588.5,424.88 588.62,425.19 588.74,425.15 588.86,425.13 588.98,425.22 589.1,423.9 589.22,423.7 589.34,425.07 589.46,424.69 589.58,424.7 589.7,425.4 589.82,423.17 589.94,424.9 590.06,425.57 590.18,424.92 590.3,425.54 590.42,425.42 590.54,424.91 590.66,424.72 590.78,424.72 590.9,424.76 591.02,425.07 591.14,425.16 591.26,424.4 591.38,424.99 591.5,424.85 591.62,425.23 591.74,425.21 591.86,424.7 591.98,425.29 592.1,425.11 592.22,425.13 592.34,425.17 592.46,425.2 592.58,424.44 592.7,424.46 592.82,424.74 592.94,425.01 593.06,425.03 593.18,424.94 593.3,424.37 593.42,425.26 593.54,424.97 593.66,423.23 593.78,424.13 593.9,425.07 594.02,424.4 594.14,426.03 594.26,424.84 594.38,424.95 594.5,424.81 594.62,425.2 594.74,424.86 594.86,424.44 594.98,425.15 595.1,425.12 595.22,425.84 595.34,425.09 595.46,423.89 595.58,424.49 595.7,424.95 595.82,425.41 595.94,424.78 596.06,426.03 596.18,425.04 596.3,425 596.42,425.5 596.54,424.71 596.66,424.78 596.78,426.23 596.9,425.07 597.02,424.43 597.14,425.13 597.26,424.84 597.38,425.33 597.5,425.47 597.62,424.66 597.74,425.51 597.86,424.88 597.98,424.59 598.1,425.03 598.22,424.4 598.34,424.99 598.46,425.1 598.58,424.7 598.7,425.11 598.82,424.46 598.94,425.21 599.06,425.14 599.18,424.57 599.3,425.32 599.42,425 599.54,424.93 599.66,425.07 599.78,425.32 599.9,425.09 600.02,424.99 600.14,425.65 600.26,424.99 600.38,425.22 600.5,422.92 600.62,424.83 600.74,424.69 600.86,424.67 600.98,424.93 601.1,424.71 601.22,425.08 601.34,425.21 601.46,425.42 601.58,424.85 601.7,425.05 601.82,425.44 601.94,424.82 602.06,425.17 602.18,424.29 602.3,425.29 602.42,425.18 602.54,424.45 602.66,424.19 602.78,424.55 602.9,425.15 603.02,424.75 603.14,425.69 603.26,425.17 603.38,425.27 603.5,425.03 603.62,425.12 603.74,424.9 603.86,424.93 603.98,425.04 604.1,424.54 604.22,425.19 604.34,425.01 604.46,425.47 604.58,424.26 604.7,424.79 604.82,425.02 604.94,425.6 605.06,425.11 605.18,424.68 605.3,424.68 605.42,424.67 605.54,425.05 605.66,425.35 605.78,424.47 605.9,425.06 606.02,424.91 606.14,425.61 606.26,425.06 606.38,425.42 606.5,425.12 606.62,424.64 606.74,424.75 606.86,424.65 606.98,424.9 607.1,425.31 607.22,424.44 607.34,425.14 607.46,424.92 607.58,425.17 607.7,425.1 607.82,425.06 607.94,425.28 608.06,424.99 608.18,424.69 608.3,424.75 608.42,424.64 608.54,424.69 608.66,424.81 608.78,424.91 608.9,425.14 609.02,425.58 609.14,425.03 609.26,423.73 609.38,424.93 609.5,426.17 609.62,424.46 609.74,424.7 609.86,424.82 609.98,424.85 610.1,424.87 610.22,424.79 610.34,424.55 610.46,424.43 610.58,424.94 610.7,424.7 610.82,425.48 610.94,425.52 611.06,425.16 611.18,424.43 611.3,424.56 611.42,424.89 611.54,424.31 611.66,424.88 611.78,424.6 611.9,425.56 612.02,424.64 612.14,426.17 612.26,425.28 612.38,425.21 612.5,425.1 612.62,424.91 612.74,424.86 612.86,423.72 612.98,425.09 613.1,424.98 613.22,423.28 613.34,425.13 613.46,424.51 613.58,424.63 613.7,425.14 613.82,424.55 613.94,424.64 614.06,426.42 614.18,424.48 614.3,423.28 614.42,424.75 614.54,424.6 614.66,425.02 614.78,424.78 614.9,425.26 615.02,424.92 615.14,424.85 615.26,426.95 615.38,424.79 615.5,425.39 615.62,424.29 615.74,424.49 615.86,424.91 615.98,425.41 616.1,424.89 616.22,424.82 616.34,425.62 616.46,425.16 616.58,424.93 616.7,425.24 616.82,425.04 616.94,424.31 617.06,424.33 617.18,425.15 617.3,425.19 617.42,425.24 617.54,425.19 617.66,425.12 617.78,424.99 617.9,425.64 618.02,425.15 618.14,424.73 618.26,424.68 618.38,424.47 618.5,425.93 618.62,425.28 618.74,425.12 618.86,425.18 618.98,424.98 619.1,425.06 619.22,424.72 619.34,424.99 619.46,425.31 619.58,425.1 619.7,424.83 619.82,425.02 619.94,424.81 620.06,424.93 620.18,425.21 620.3,424.75 620.42,424.9 620.54,425.22 620.66,424.94 620.78,424.96 620.9,425.23 621.02,425.06 621.14,424.63 621.26,424.86 621.38,424.83 621.5,425.45 621.62,424.81 621.74,425.19 621.86,424.24 621.98,425.05 622.1,425.62 622.22,425.53 622.34,425.13 622.46,425.92 622.58,424.48 622.7,425.2 622.82,424.92 622.94,424.44 623.06,424.93 623.18,424.75 623.3,424.75 623.42,424.74 623.54,424.87 623.66,424.68 623.78,424.57 623.9,424.48 624.02,424.89 624.14,425.35 624.26,425.84 624.38,424.46 624.5,424.79 624.62,425.69 624.74,424.44 624.86,424.96 624.98,424.57 625.1,424.71 625.22,425.04 625.34,424.62 625.46,424.89 625.58,425.2 625.7,424.45 625.82,426.54 625.94,424.33 626.06,424.87 626.18,425.53 626.3,425.44 626.42,425.12 626.54,424.33 626.66,424.81 626.78,424.67 626.9,424.84 627.02,424.87 627.14,424.91 627.26,424.38 627.38,424.85 627.5,425.49 627.62,424.26 627.74,425.07 627.86,424.52 627.98,425.59 628.1,424.69 628.22,424.86 628.34,424.7 628.46,424.61 628.58,425.2 628.7,425.03 628.82,424.88 628.94,424.42 629.06,424.95 629.18,425.12 629.3,425.89 629.42,424.86 629.54,424.67 629.66,424.81 629.78,425.09 629.9,425.01 630.02,424.76 630.14,423.35 630.26,424.61 630.38,424.67 630.5,425.19 630.62,424.47 630.74,424.9 630.86,423.15 630.98,425.71 631.1,424.98 631.22,425.11 631.34,424.63 631.46,425.61 631.58,425.03 631.7,424.35 631.82,424.82 631.94,424.85 632.06,425.39 632.18,424.52 632.3,424.89 632.42,425.19 632.54,424.86 632.66,425.18 632.78,425.65 632.9,425.67 633.02,424.59 633.14,424.22 633.26,424.68 633.38,426.06 633.5,425.97 633.62,425.44 633.74,425.22 633.86,425.05 633.98,423.7 634.1,426.94 634.22,425.12 634.34,426.4 634.46,423.56 634.58,424.35 634.7,426.09 634.82,423.71 634.94,424.48 635.06,425.26 635.18,424.92 635.3,423.8 635.42,424.94 635.54,424.87 635.66,424.78 635.78,424.71 635.9,425.11 636.02,424.85 636.14,425.13 636.26,424.96 636.38,425.18 636.5,424.94 636.62,424.22 636.74,424.75 636.86,424.75 636.98,424.91 637.1,424.54 637.22,424.98 637.34,425.4 637.46,424.81 637.58,424.45 637.7,425.76 637.82,424.88 637.94,425.06 638.06,424.91 638.18,424.86 638.3,425.4 638.42,425.29 638.54,424.87 638.66,425.13 638.78,425.47 638.9,424.88 639.02,426.29 639.14,424.57 639.26,425.09 639.38,425.2 639.5,424.75 639.62,425.04 639.74,425.54 639.86,424.37 639.98,424.58 640.1,424.98 640.22,425.03 640.34,424.9 640.46,425.59 640.58,425.08 640.7,425.07 640.82,424.8 640.94,424.99 641.06,424.79 641.18,424.62 641.3,424.87 641.42,424.96 641.54,425.29 641.66,424.86 641.78,424.92 641.9,424.73 642.02,425.14 642.14,425.06 642.26,425.01 642.38,425.04 642.5,425.37 642.62,424.74 642.74,424.68 642.86,423.46 642.98,424.53 643.1,425.47 643.22,426.71 643.34,424.17 643.46,425.13 643.58,425.45 643.7,424.71 643.82,424.77 643.94,425.26 644.06,424.6 644.18,424.65 644.3,425.03 644.42,424.85 644.54,425.39 644.66,424.93 644.78,425.46 644.9,424.7 645.02,424.75 645.14,426.33 645.26,425.68 645.38,425.63 645.5,424.51 645.62,424.74 645.74,424.22 645.86,425.32 645.98,424.66 646.1,424.81 646.22,425.27 646.34,424.98 646.46,425.39 646.58,424.84 646.7,424.9 646.82,424.63 646.94,424.15 647.06,425.16 647.18,424.88 647.3,424.59 647.42,425.47 647.54,426.71 647.66,425.58 647.78,425.21 647.9,425.28 648.02,424.88 648.14,425.39 648.26,424.93 648.38,423.71 648.5,423.38 648.62,424.77 648.74,425.34 648.86,425.56 648.98,424.82 649.1,425.12 649.22,424.95 649.34,425.37 649.46,424.68 649.58,424.55 649.7,423.78 649.82,425.44 649.94,425.3 650.06,425.08 650.18,424.78 650.3,425.02 650.42,424.43 650.54,425.05 650.66,424.35 650.78,425.51 650.9,424.76 651.02,424.58 651.14,424.95 651.26,424.85 651.38,424.82 651.5,425.23 651.62,423.21 651.74,424.69 651.86,426.85 651.98,425.04 652.1,424.73 652.22,425.14 652.34,425.09 652.46,424.88 652.58,422.81 652.7,424.81 652.82,425.05 652.94,424.61 653.06,424.96 653.18,426.64 653.3,424.88 653.42,424.71 653.54,424.99 653.66,425.61 653.78,424.84 653.9,425.63 654.02,423.31 654.14,424.08 654.26,424.49 654.38,424.57 654.5,424.69 654.62,425.23 654.74,424.66 654.86,424.42 654.98,424.58 655.1,424.83 655.22,424.98 655.34,425.04 655.46,424.62 655.58,424.39 655.7,423.74 655.82,424.65 655.94,425.04 656.06,424.61 656.18,425.14 656.3,424.49 656.42,424.89 656.54,425.71 656.66,425.02 656.78,423.97 656.9,424.49 657.02,425.25 657.14,425.31 657.26,425.12 657.38,424.57 657.5,425.34 657.62,425.01 657.74,424.36 657.86,424.07 657.98,425.66 658.1,424.64 658.22,424.62 658.34,424.36 658.46,425 658.58,424.53 658.7,424.62 658.82,424.89 658.94,424.56 659.06,425 659.18,425.43 659.3,425.4 659.42,425.22 659.54,425.66 659.66,424.77 659.78,425.57 659.9,424.76 660.02,425.39 660.14,424.76 660.26,424.64 660.38,424.67 660.5,424.73 660.62,424.2 660.74,425.45 660.86,424.69 660.98,425.06 661.1,424.81 661.22,424.51 661.34,425.42 661.46,424.85 661.58,425.25 661.7,424.51 661.82,425.27 661.94,425.22 662.06,425.1 662.18,424.58 662.3,425.75 662.42,424.57 662.54,425.56 662.66,424.74 662.78,424.84 662.9,425.12 663.02,425.79 663.14,424.93 663.26,424.62 663.38,425.11 663.5,424.91 663.62,424.94 663.74,425.15 663.86,424.78 663.98,424.7 664.1,425.23 664.22,424.43 664.34,424.51 664.46,424.73 664.58,424.81 664.7,424.08 664.82,425.06 664.94,424.56 665.06,424.81 665.18,425.11 665.3,424.72 665.42,425.51 665.54,424.93 665.66,424.19 665.78,424.85 665.9,425.3 666.02,425.09 666.14,424.34 666.26,425.23 666.38,424.99 666.5,424.91 666.62,425.2 666.74,424.74 666.86,424.33 666.98,424.96 667.1,424.99 667.22,425.13 667.34,424.62 667.46,425.27 667.58,424.28 667.7,424.9 667.82,423.89 667.94,424.24 668.06,425.56 668.18,425.07 668.3,424.95 668.42,424.34 668.54,424.9 668.66,422.25 668.78,424.71 668.9,424.64 669.02,424.93 669.14,425.31 669.26,424.71 669.38,424.76 669.5,425.27 669.62,424.82 669.74,425.45 669.86,423.35 669.98,424.61 670.1,425.44 670.22,424.85 670.34,424.94 670.46,425.73 670.58,424.73 670.7,424.88 670.82,424.78 670.94,424.36 671.06,424.7 671.18,424.58 671.3,424.87 671.42,424.66 671.54,425.14 671.66,424.68 671.78,425.27 671.9,424.96 672.02,425.04 672.14,424.41 672.26,424.56 672.38,425.03 672.5,425.47 672.62,425.43 672.74,424.96 672.86,424.52 672.98,424.83 673.1,424.59 673.22,424.47 673.34,425.96 673.46,424.54 673.58,424.83 673.7,424.75 673.82,425.2 673.94,424.62 674.06,425.34 674.18,424.14 674.3,425.56 674.42,425.1 674.54,425.26 674.66,425.15 674.78,424.15 674.9,424.72 675.02,424.57 675.14,426.51 675.26,424.19 675.38,424.13 675.5,425.09 675.62,425.18 675.74,423.82 675.86,424.99 675.98,425.35 676.1,426.36 676.22,424.48 676.34,425.51 676.46,424.93 676.58,424.65 676.7,425.31 676.82,425.1 676.94,424.67 677.06,425.49 677.18,425.24 677.3,423.74 677.42,424.56 677.54,425.15 677.66,425.21 677.78,424.75 677.9,425.61 678.02,425.54 678.14,424.79 678.26,425.21 678.38,424.75 678.5,424.84 678.62,425.24 678.74,425.09 678.86,423.58 678.98,424.74 679.1,424.99 679.22,423.05 679.34,425.54 679.46,424.73 679.58,425.37 679.7,425.45 679.82,426.45 679.94,424.39 680.06,424.69 680.18,424.66 680.3,425.12 680.42,425.13 680.54,424.49 680.66,424.28 680.78,424.35 680.9,424.78 681.02,425.31 681.14,425.71 681.26,424.39 681.38,425.01 681.5,425.31 681.62,425.13 681.74,425.58 681.86,425.3 681.98,424.85 682.1,425.23 682.22,424.84 682.34,424.64 682.46,424.94 682.58,424.77 682.7,426.23 682.82,424.6 682.94,424.79 683.06,424.94 683.18,424.16 683.3,424.45 683.42,424.57 683.54,423.99 683.66,424.77 683.78,425.03 683.9,424.47 684.02,425.02 684.14,425.48 684.26,424.39 684.38,424.75 684.5,424.91 684.62,425.68 684.74,424.98 684.86,424.93 684.98,425.05 685.1,424.31 685.22,424.76 685.34,425.64 685.46,424.12 685.58,424.55 685.7,425.43 685.82,424.78 685.94,425.01 686.06,424.09 686.18,424.83 686.3,424.77 686.42,424.52 686.54,424.61 686.66,425.95 686.78,424.63 686.9,424.68 687.02,422.77 687.14,424.98 687.26,424.78 687.38,425.53 687.5,425 687.62,424.8 687.74,424.95 687.86,426.47 687.98,424.95 688.1,424.82 688.22,424.98 688.34,424.95 688.46,425.07 688.58,425.06 688.7,424.31 688.82,424.86 688.94,424.27 689.06,425.28 689.18,424.71 689.3,424.6 689.42,425.23 689.54,424.69 689.66,424.09 689.78,424.69 689.9,424.78 690.02,424.09 690.14,424.72 690.26,424.94 690.38,425.17 690.5,424.72 690.62,425.11 690.74,424.56 690.86,424.75 690.98,424.96 691.1,424.15 691.22,422.4 691.34,425.23 691.46,424.74 691.58,424.86 691.7,425.42 691.82,425.49 691.94,424.45 692.06,424.73 692.18,425.24 692.3,425.05 692.42,424.72 692.54,424.8 692.66,424.44 692.78,424.34 692.9,424.53 693.02,425.36 693.14,425.72 693.26,424.99 693.38,424.66 693.5,425.68 693.62,424.61 693.74,425.34 693.86,424.53 693.98,425.79 694.1,425.34 694.22,424.88 694.34,424.54 694.46,425.08 694.58,424.6 694.7,424.83 694.82,424.47 694.94,425.15 695.06,425.21 695.18,425.26 695.3,424.36 695.42,426.4 695.54,424.56 695.66,425.02 695.78,425.38 695.9,425.36 696.02,424.95 696.14,424.53 696.26,427.26 696.38,424.58 696.5,424.92 696.62,424.55 696.74,426.88 696.86,424.38 696.98,425.05 697.1,425.5 697.22,424.98 697.34,423.91 697.46,424.73 697.58,424.44 697.7,424.67 697.82,425.19 697.94,424.87 698.06,424.87 698.18,424.91 698.3,425.35 698.42,425.17 698.54,425.17 698.66,424.48 698.78,425.14 698.9,425.07 699.02,423.86 699.14,424.9 699.26,424.09 699.38,425.5 699.5,424.87 699.62,424.49 699.74,424.81 699.86,425.38 699.98,425.16 700.1,425.55 700.22,424.71 700.34,425.23 700.46,423.95 700.58,424.24 700.7,424.35 700.82,425.7 700.94,425.39 701.06,424.9 701.18,424.89 701.3,425.44 701.42,424.74 701.54,424.45 701.66,424.87 701.78,424.88 701.9,425.02 702.02,425.46 702.14,424.5 702.26,424.7 702.38,425.47 702.5,424.37 702.62,423.88 702.74,425.7 702.86,424.71 702.98,425.06 703.1,425.02 703.22,424.21 703.34,424.78 703.46,424.24 703.58,424.66 703.7,424.88 703.82,424.67 703.94,425.18 704.06,425.41 704.18,424.44 704.3,425.39 704.42,424.69 704.54,424.5 704.66,424.48 704.78,424.84 704.9,424.87 705.02,424.8 705.14,425.43 705.26,424.98 705.38,424.9 705.5,424.6 705.62,425.19 705.74,425.23 705.86,424.14 705.98,424.75 706.1,424.91 706.22,424.83 706.34,424.93 706.46,424.21 706.58,424.42 706.7,423.96 706.82,424.43 706.94,424.86 707.06,425.13 707.18,424.99 707.3,425.7 707.42,424.55 707.54,424.71 707.66,424.09 707.78,424.72 707.9,424.91 708.02,424.41 708.14,424.43 708.26,424.85 708.38,424.51 708.5,424.98 708.62,425.74 708.74,425.06 708.86,423.28 708.98,425.35 709.1,424.92 709.22,425.37 709.34,424.19 709.46,425.23 709.58,425.84 709.7,425.63 709.82,424.42 709.94,425.13 710.06,425.25 710.18,424.79 710.3,425.63 710.42,424.72 710.54,424.06 710.66,425.13 710.78,424.57 710.9,424.44 711.02,425.35 711.14,424.52 711.26,425.19 711.38,423.36 711.5,424.77 711.62,424.5 711.74,424.87 711.86,425.29 711.98,423.8 712.1,424.71 712.22,424.66 712.34,424.85 712.46,425.24 712.58,424.89 712.7,425.5 712.82,425.56 712.94,424.76 713.06,424.75 713.18,425.02 713.3,425.06 713.42,424.34 713.54,424.28 713.66,424.55 713.78,425 713.9,425.32 714.02,424.75 714.14,425.11 714.26,424.75 714.38,425.1 714.5,424.8 714.62,425.37 714.74,424.53 714.86,424.56 714.98,423.95 715.1,424.62 715.22,424.73 715.34,424.89 715.46,425.35 715.58,424.83 715.7,424.43 715.82,424.59 715.94,424.98 716.06,424.34 716.18,425.21 716.3,425.26 716.42,425.28 716.54,426.06 716.66,424.63 716.78,424.97 716.9,425.62 717.02,423.86 717.14,424.85 717.26,424.83 717.38,424.99 717.5,425.27 717.62,425.44 717.74,425.05 717.86,424.52 717.98,424.84 718.1,424.44 718.22,425.03 718.34,425.05 718.46,424.88 718.58,423.97 718.7,425.14 718.82,424.91 718.94,425.49 719.06,424.31 719.18,424.63 719.3,424.83 719.42,425.52 719.54,424.51 719.66,424.72 719.78,425.77 719.9,426.19 720.02,424.38 720.14,425.02 720.26,425.35 720.38,424.85 720.5,424.97 720.62,426.45 720.74,425.41 720.86,424.96 720.98,425.45 721.1,425.39 721.22,425.2 721.34,425.52 721.46,424.47 721.58,424.56 721.7,426.37 721.82,424.77 721.94,424.81 722.06,425.15 722.18,426.13 722.3,424.64 722.42,424.89 722.54,425.15 722.66,424.01 722.78,425 722.9,424.25 723.02,424.5 723.14,424.24 723.26,424.59 723.38,424.68 723.5,425.95 723.62,424.79 723.74,424.23 723.86,424.92 723.98,425.23 724.1,425 724.22,425.16 724.34,424.46 724.46,424.55 724.58,426.14 724.7,424.35 724.82,426.39 724.94,424.71 725.06,425.29 725.18,424.85 725.3,425.09 725.42,424.83 725.54,425.41 725.66,425.99 725.78,424.47 725.9,424.3 726.02,425.24 726.14,425.21 726.26,425.7 726.38,424.32 726.5,425.12 726.62,424.78 726.74,424.29 726.86,424.33 726.98,425.83 727.1,424.82 727.22,424.75 727.34,425.42 727.46,424.63 727.58,425.38 727.7,424.88 727.82,424.82 727.94,425.48 728.06,425.01 728.18,423.63 728.3,425.04 728.42,425.07 728.54,425.13 728.66,425.42 728.78,424.91 728.9,424.48 729.02,425.26 729.14,425.42 729.26,425.57 729.38,424.56 729.5,424.34 729.62,424.64 729.74,424.83 729.86,425.69 729.98,424.51 730.1,424.58 730.22,425.42 730.34,424.18 730.46,427.05 730.58,424.94 730.7,424.48 730.82,424.96 730.94,425.19 731.06,424.71 731.18,424.35 731.3,424.71 731.42,425.15 731.54,425.92 731.66,424.47 731.78,424.35 731.9,425.37 732.02,424.49 732.14,424.53 732.26,424.88 732.38,424.08 732.5,425.02 732.62,425.06 732.74,425.04 732.86,423.04 732.98,423.9 733.1,424.71 733.22,425.15 733.34,425.25 733.46,425.2 733.58,424.41 733.7,425.52 733.82,424.78 733.94,424.4 734.06,424.65 734.18,424.97 734.3,424.86 734.42,425.24 734.54,424.86 734.66,424.45 734.78,425.78 734.9,424.91 735.02,424.94 735.14,424.07 735.26,424.74 735.38,425.5 735.5,425.3 735.62,424.74 735.74,422.88 735.86,424.48 735.98,425.32 736.1,424.96 736.22,424.67 736.34,425.73 736.46,424.77 736.58,425.19 736.7,424.97 736.82,424.56 736.94,425.28 737.06,425.65 737.18,427.01 737.3,424.08 737.42,424.82 737.54,425.92 737.66,424.61 737.78,425.04 737.9,424.92 738.02,424.81 738.14,425.35 738.26,424.58 738.38,424.46 738.5,424.82 738.62,424.71 738.74,425.33 738.86,424.7 738.98,425.51 739.1,423.24 739.22,424.62 739.34,425.97 739.46,424.84 739.58,425.1 739.7,423.71 739.82,424.55 739.94,424.59 740.06,424.3 740.18,425.61 740.3,424.49 740.42,424.77 740.54,424.62 740.66,424.48 740.78,424.97 740.9,425.36 741.02,425.07 741.14,426.94 741.26,425.22 741.38,424.99 741.5,425.07 741.62,425.31 741.74,424.42 741.86,426.15 741.98,424.78 742.1,424.25 742.22,424.12 742.34,425.09 742.46,424.66 742.58,425.7 742.7,426.03 742.82,425.24 742.94,424.64 743.06,424.54 743.18,424.78 743.3,424.76 743.42,424.5 743.54,423.82 743.66,424.4 743.78,425.07 743.9,424.55 744.02,425.37 744.14,424.14 744.26,424.76 744.38,424.46 744.5,424.46 744.62,425.43 744.74,423.18 744.86,425.44 744.98,424.95 745.1,424.44 745.22,424.6 745.34,424.21 745.46,424.31 745.58,424.15 745.7,425.24 745.82,424.35 745.94,425.17 746.06,424.58 746.18,425.37 746.3,424.21 746.42,423.78 746.54,424.87 746.66,424.83 746.78,423.2 746.9,424.77 747.02,424.39 747.14,425.95 747.26,424.35 747.38,424.27 747.5,424.36 747.62,425.4 747.74,425.53 747.86,426.36 747.98,424.45 748.1,424.75 748.22,425.46 748.34,425.16 748.46,424.21 748.58,424.38 748.7,425.42 748.82,425.22 748.94,424.56 749.06,426.02 749.18,425.2 749.3,424.67 749.42,425 749.54,425.09 749.66,425.26 749.78,424.39 749.9,425 750.02,425.06 750.14,425.15 750.26,425.53 750.38,425.18 750.5,425.03 750.62,423.11 750.74,424.39 750.86,425.15 750.98,424.14 751.1,424.27 751.22,424.76 751.34,424.29 751.46,424.62 751.58,425.32 751.7,424.84 751.82,424.03 751.94,425.45 752.06,425.58 752.18,425.36 752.3,424.78 752.42,424.84 752.54,425.19 752.66,425.14 752.78,424.96 752.9,423.49 753.02,425.3 753.14,425.32 753.26,424.59 753.38,424.76 753.5,424.55 753.62,425.18 753.74,425.28 753.86,422.79 753.98,425 754.1,425.4 754.22,425.71 754.34,425.94 754.46,424.97 754.58,424.72 754.7,424.16 754.82,424.7 754.94,424.5 755.06,425.61 755.18,425.14 755.3,424.87 755.42,425.34 755.54,425.47 755.66,424.27 755.78,423.81 755.9,424.19 756.02,424.42 756.14,424.11 756.26,425.05 756.38,425.48 756.5,425.56 756.62,425.44 756.74,424.44 756.86,424.71 756.98,423.71 757.1,425.86 757.22,425.03 757.34,425.28 757.46,425.11 757.58,424.68 757.7,424.29 757.82,425.13 757.94,425.74 758.06,423.85 758.18,424.8 758.3,425.79 758.42,424.85 758.54,424.92 758.66,424.74 758.78,424.97 758.9,425.82 759.02,425.21 759.14,424.17 759.26,425.71 759.38,425.2 759.5,423.94 759.62,424.78 759.74,424.69 759.86,424.5 759.98,424.8 760.1,425.32 760.22,425.42 760.34,425.34 760.46,424.75 760.58,425.52 760.7,425.34 760.82,425.47 760.94,424.81 761.06,425.16 761.18,426.49 761.3,424.86 761.42,425.4 761.54,425.25 761.66,425.59 761.78,425.45 761.9,424.93 762.02,425.21 762.14,424.49 762.26,424.23 762.38,424.13 762.5,424.89 762.62,424.6 762.74,425.1 762.86,425.08 762.98,423.5 763.1,425.33 763.22,424.59 763.34,425.03 763.46,425.16 763.58,425.28 763.7,423.85 763.82,426.01 763.94,424.64 764.06,424.7 764.18,425.19 764.3,424.38 764.42,424.97 764.54,425.74 764.66,424.83 764.78,424.62 764.9,424.46 765.02,424.35 765.14,425.24 765.26,424.99 765.38,424.58 765.5,425 765.62,425.66 765.74,426.11 765.86,425.33 765.98,425.4 766.1,425.12 766.22,423.83 766.34,424.26 766.46,424.81 766.58,424.84 766.7,424.56 766.82,424.67 766.94,425.14 767.06,424.74 767.18,424.91 767.3,425.95 767.42,424.81 767.54,424.57 767.66,425.38 767.78,424.22 767.9,424.42 768.02,424.72 768.14,423.82 768.26,424.69 768.38,424.36 768.5,424.92 768.62,424.39 768.74,424.48 768.86,425.36 768.98,425.15 769.1,424.76 769.22,425.56 769.34,424.72 769.46,424.49 769.58,425.48 769.7,425.37 769.82,424.92 769.94,425.15 770.06,425.08 770.18,425.28 770.3,425.34 770.42,424.59 770.54,425.24 770.66,424.87 770.78,424.15 770.9,424.21 771.02,426.21 771.14,425.79 771.26,424.59 771.38,424.5 771.5,424.45 771.62,425.19 771.74,425.28 771.86,424.04 771.98,423.9 772.1,424.22 772.22,425.12 772.34,424.72 772.46,424.8 772.58,426.1 772.7,424.28 772.82,424.69 772.94,425.44 773.06,424.83 773.18,423.93 773.3,424.9 773.42,424.28 773.54,425.02 773.66,426.16 773.78,425.12 773.9,424.65 774.02,425.08 774.14,424.42 774.26,424.72 774.38,424.19 774.5,425.83 774.62,425.71 774.74,424.73 774.86,424.57 774.98,425.6 775.1,424.84 775.22,425.23 775.34,424.8 775.46,424.79 775.58,424.92 775.7,424.53 775.82,424.59 775.94,425.79 776.06,424.43 776.18,424.66 776.3,424.43 776.42,424.92 776.54,424.56 776.66,424.95 776.78,425.55 776.9,424.96 777.02,424.71 777.14,425 777.26,426.22 777.38,425.36 777.5,424.95 777.62,424.56 777.74,424.48 777.86,425.31 777.98,424.99 778.1,423.48 778.22,424.69 778.34,424.28 778.46,424.98 778.58,423.46 778.7,424.9 778.82,424.48 778.94,424.68 779.06,424.72 779.18,423.67 779.3,424.86 779.42,425.13 779.54,424.67 779.66,424.69 779.78,424.3 779.9,425.11 780.02,424.62 780.14,424.31 780.26,425.13 780.38,424.94 780.5,424.8 780.62,424.64 780.74,425.09 780.86,424.45 780.98,424.68 781.1,424.98 781.22,425.37 781.34,424.85 781.46,424.29 781.58,425 781.7,424.58 781.82,425.5 781.94,425.36 782.06,424.71 782.18,425.1 782.3,424.63 782.42,424.61 782.54,425.4 782.66,424.36 782.78,425.59 782.9,424.65 783.02,425.22 783.14,424.89 783.26,425.62 783.38,424.44 783.5,425.25 783.62,425.44 783.74,424.62 783.86,424.19 783.98,424.99 784.1,424.64 784.22,424.83 784.34,423.15 784.46,425.01 784.58,425.13 784.7,424.84 784.82,424.24 784.94,424.45 785.06,424.95 785.18,424.84 785.3,424.28 785.42,424.95 785.54,424.35 785.66,424.7 785.78,424.56 785.9,424.62 786.02,424.25 786.14,424.75 786.26,423.46 786.38,424.63 786.5,424.49 786.62,426.26 786.74,424.39 786.86,425.04 786.98,424.04 787.1,424.37 787.22,424.97 787.34,425.38 787.46,424.6 787.58,424.38 787.7,424.44 787.82,424.77 787.94,424.63 788.06,424.22 788.18,424.55 788.3,426.42 788.42,424.51 788.54,424.36 788.66,424.76 788.78,424.6 788.9,425.02 789.02,425.38 789.14,424.75 789.26,425.3 789.38,425.17 789.5,424.18 789.62,425.22 789.74,424.34 789.86,423.49 789.98,425.3 790.1,425.64 790.22,424.41 790.34,424.98 790.46,425.4 790.58,424.99 790.7,424.67 790.82,424.7 790.94,425.47 791.06,424.79 791.18,424.84 791.3,424.56 791.42,424.63 791.54,423.51 791.66,424.21 791.78,424.29 791.9,425.52 792.02,424.41 792.14,425.2 792.26,424.49 792.38,424.51 792.5,425.68 792.62,425.05 792.74,425.23 792.86,424.24 792.98,425.53 793.1,425.19 793.22,425.28 793.34,424.71 793.46,425.62 793.58,424.59 793.7,424.05 793.82,424.43 793.94,423.38 794.06,425.21 794.18,425.12 794.3,424.42 794.42,423.87 794.54,424.54 794.66,425.39 794.78,425.05 794.9,424.95 795.02,426.67 795.14,425 795.26,424.18 795.38,426.37 795.5,424.81 795.62,423.28 795.74,425.07 795.86,425.25 795.98,424.32 796.1,425.05 796.22,424.71 796.34,425.06 796.46,424.41 796.58,424.84 796.7,422.97 796.82,425.39 796.94,425.11 797.06,424.84 797.18,424.16 797.3,424.97 797.42,425.16 797.54,426.02 797.66,425.85 797.78,425.36 797.9,424.51 798.02,424.36 798.14,424.77 798.26,424.54 798.38,423.38 798.5,424.78 798.62,423.9 798.74,425.14 798.86,425.58 798.98,424.46 799.1,425.14 799.22,425.84 799.34,423.21 799.46,426 799.58,424.8 799.7,424.37 799.82,424.78 799.94,424.71 800.06,424.54 800.18,425.17 800.3,424.77 800.42,425.44 800.54,424.93 800.66,424.62 800.78,424.89 800.9,424.49 801.02,424.38 801.14,424.49 801.26,424.92 801.38,424.72 801.5,424.78 801.62,424.12 801.74,424.65 801.86,424.83 801.98,424.34 802.1,425.02 802.22,424.42 802.34,424.53 802.46,426.4 802.58,425.33 802.7,423.97 802.82,424.44 802.94,425.33 803.06,425.01 803.18,424.63 803.3,424.3 803.42,424.82 803.54,424.53 803.66,425.35 803.78,425.17 803.9,424.67 804.02,422.77 804.14,424.84 804.26,424.59 804.38,424.6 804.5,425.68 804.62,424.58 804.74,424.59 804.86,425.98 804.98,425.08 805.1,424.94 805.22,423.98 805.34,426.01 805.46,424.31 805.58,424.47 805.7,425.4 805.82,425.17 805.94,424.99 806.06,424.23 806.18,424.43 806.3,424.85 806.42,424.46 806.54,424.69 806.66,424.48 806.78,424.45 806.9,424.62 807.02,424.03 807.14,425.73 807.26,425.14 807.38,424.72 807.5,424.66 807.62,424.62 807.74,424.73 807.86,424.86 807.98,424.54 808.1,425.89 808.22,424.58 808.34,425.08 808.46,423.85 808.58,426.01 808.7,425.58 808.82,425.48 808.94,424.89 809.06,424.8 809.18,425.02 809.3,424.22 809.42,424.88 809.54,424.41 809.66,424.79 809.78,424.64 809.9,424.37 810.02,425.02 810.14,424.61 810.26,424.87 810.38,424.71 810.5,424.87 810.62,424.76 810.74,424.97 810.86,424.87 810.98,424.98 811.1,424.39 811.22,424.6 811.34,425.83 811.46,423.92 811.58,425.12 811.7,425.52 811.82,424.86 811.94,424.49 812.06,424.55 812.18,424.27 812.3,423.18 812.42,424.92 812.54,424.34 812.66,424.97 812.78,424.23 812.9,424.61 813.02,425.34 813.14,423.75 813.26,425.16 813.38,425.7 813.5,425.18 813.62,424.43 813.74,425.69 813.86,425.08 813.98,424.66 814.1,425.65 814.22,424.87 814.34,426.2 814.46,424.64 814.58,424.96 814.7,425 814.82,425.19 814.94,425.14 815.06,425.02 815.18,425.36 815.3,424.53 815.42,425.3 815.54,425.13 815.66,425.49 815.78,424.85 815.9,424.05 816.02,424.69 816.14,424.65 816.26,424.74 816.38,424.52 816.5,424.84 816.62,423.89 816.74,424.53 816.86,425.02 816.98,424.89 817.1,425.21 817.22,424.22 817.34,424.98 817.46,425.25 817.58,424.05 817.7,424.54 817.82,425.75 817.94,424.97 818.06,424.23 818.18,424.28 818.3,424.89 818.42,424.58 818.54,424.43 818.66,425.33 818.78,424.42 818.9,423.68 819.02,425.55 819.14,425.06 819.26,425.08 819.38,425.87 819.5,425.06 819.62,424.69 819.74,425.28 819.86,425.43 819.98,424.66 820.1,425.49 820.22,423.86 820.34,425.02 820.46,424.94 820.58,426.1 820.7,424.47 820.82,424.89 820.94,424.43 821.06,425.05 821.18,425.9 821.3,424.45 821.42,425.19 821.54,425.18 821.66,424.44 821.78,423.83 821.9,424.75 822.02,424.73 822.14,424.89 822.26,425.42 822.38,424.25 822.5,424.91 822.62,424.56 822.74,423.36 822.86,424.1 822.98,425.08 823.1,426.18 823.22,424.82 823.34,424.65 823.46,424.87 823.58,424.8 823.7,424.38 823.82,424.84 823.94,424.83 824.06,425.25 824.18,424.87 824.3,425.27 824.42,424.89 824.54,424.98 824.66,424.29 824.78,425.09 824.9,424.9 825.02,424.65 825.14,425 825.26,424.66 825.38,424.84 825.5,425.35 825.62,425.5 825.74,425.17 825.86,425.01 825.98,425.09 826.1,424.49 826.22,425.2 826.34,426.08 826.46,424.38 826.58,424.71 826.7,424.73 826.82,425.32 826.94,423.84 827.06,424.94 827.18,425.69 827.3,425.59 827.42,422.77 827.54,424.46 827.66,424.8 827.78,425.17 827.9,424.96 828.02,425.1 828.14,424.77 828.26,424.67 828.38,424.54 828.5,424.32 828.62,424.11 828.74,424.74 828.86,423.69 828.98,424.49 829.1,425.07 829.22,424.73 829.34,424.68 829.46,425.17 829.58,425.12 829.7,426.61 829.82,425.46 829.94,424.76 830.06,424.81 830.18,424.43 830.3,424.78 830.42,425.13 830.54,424.32 830.66,424.68 830.78,425.77 830.9,424.38 831.02,424.92 831.14,424.77 831.26,424.91 831.38,424.84 831.5,424.56 831.62,426.37 831.74,424.58 831.86,424.88 831.98,424.7 832.1,424.83 832.22,425.47 832.34,424.53 832.46,424.5 832.58,424.5 832.7,424.94 832.82,424.42 832.94,425.06 833.06,424.95 833.18,425.26 833.3,423.14 833.42,424.64 833.54,424.33 833.66,424.1 833.78,424.93 833.9,424.28 834.02,424.57 834.14,424.82 834.26,423.46 834.38,424.58 834.5,423.84 834.62,424.14 834.74,422.72 834.86,424.71 834.98,424.87 835.1,425.07 835.22,424.86 835.34,424.82 835.46,425.29 835.58,424.21 835.7,424.3 835.82,426.06 835.94,425.33 836.06,424.44 836.18,423.92 836.3,424.91 836.42,424.78 836.54,425.07 836.66,426.59 836.78,424.44 836.9,425.91 837.02,426.39 837.14,424.92 837.26,424.41 837.38,422.87 837.5,424.91 837.62,425.71 837.74,425.27 837.86,424.92 837.98,424.95 838.1,424.87 838.22,425.06 838.34,424.82 838.46,426.83 838.58,424.17 838.7,424.47 838.82,424.36 838.94,424.84 839.06,424.48 839.18,424.67 839.3,425.39 839.42,426.45 839.54,425.19 839.66,424.64 839.78,425.5 839.9,424.46 840.02,425.28 840.14,424.96 840.26,424.8 840.38,424.19 840.5,423.93 840.62,424.39 840.74,424.58 840.86,424.98 840.98,424.25 841.1,424.39 841.22,425.72 841.34,424.39 841.46,425.06 841.58,424.27 841.7,424.98 841.82,425.31 841.94,424.23 842.06,423.45 842.18,423.51 842.3,425.41 842.42,424.61 842.54,424.19 842.66,424.27 842.78,423.93 842.9,425.17 843.02,424.56 843.14,424.97 843.26,424.32 843.38,424.68 843.5,425 843.62,425.09 843.74,425.85 843.86,424.75 843.98,425.53 844.1,424.33 844.22,424.85 844.34,424.98 844.46,424.88 844.58,424.26 844.7,424.64 844.82,424.44 844.94,424.48 845.06,425.11 845.18,424.56 845.3,424.7 845.42,425.03 845.54,426.38 845.66,424.67 845.78,424.91 845.9,425.21 846.02,424.95 846.14,422.43 846.26,424.88 846.38,424.44 846.5,426.52 846.62,424.81 846.74,425.68 846.86,424.63 846.98,425.75 847.1,424.84 847.22,424.39 847.34,424.92 847.46,424.36 847.58,424.76 847.7,424.57 847.82,425.42 847.94,424.97 848.06,425.69 848.18,424.12 848.3,425.11 848.42,424.54 848.54,425.35 848.66,424.18 848.78,425.97 848.9,423.74 849.02,422.91 849.14,424.68 849.26,424.52 849.38,425.15 849.5,424.48 849.62,424.88 849.74,424.61 849.86,425.51 849.98,424.98 850.1,425.56 850.22,425.53 850.34,426.14 850.46,426.23 850.58,424.66 850.7,424.11 850.82,424.97 850.94,424.76 851.06,424.31 851.18,424.94 851.3,425.25 851.42,424.71 851.54,424.44 851.66,424.46 851.78,425.12 851.9,424.68 852.02,425.03 852.14,424.45 852.26,424.4 852.38,425.23 852.5,425.57 852.62,425.32 852.74,424.3 852.86,425.14 852.98,425 853.1,424.47 853.22,425.52 853.34,424.15 853.46,425.08 853.58,424.79 853.7,424.77 853.82,424.59 853.94,425.11 854.06,424.9 854.18,424.81 854.3,426 854.42,425 854.54,424.07 854.66,425.15 854.78,425.09 854.9,424.85 855.02,424.22 855.14,424.82 855.26,425.48 855.38,424.56 855.5,426.13 855.62,425.21 855.74,424.94 855.86,425.96 855.98,424.71 856.1,424.58 856.22,424.53 856.34,424.86 856.46,425.09 856.58,424.44 856.7,424.61 856.82,425.13 856.94,425.82 857.06,425.12 857.18,423.66 857.3,424.81 857.42,426.33 857.54,424.23 857.66,424.77 857.78,424.33 857.9,425.84 858.02,424.54 858.14,425.43 858.26,424.22 858.38,425.93 858.5,425.31 858.62,424.76 858.74,425.4 858.86,425.45 858.98,424.37 859.1,424.05 859.22,423.75 859.34,425.45 859.46,424.37 859.58,425.94 859.7,425.37 859.82,424.89 859.94,424.89 860.06,425.07 860.18,425.53 860.3,424.33 860.42,425.21 860.54,424.75 860.66,424.45 860.78,424.36 860.9,425.21 861.02,425.02 861.14,424.98 861.26,424.61 861.38,424.66 861.5,424.55 861.62,425.12 861.74,425.08 861.86,424.83 861.98,425.18 862.1,423.58 862.22,425.32 862.34,425.04 862.46,425.02 862.58,424.16 862.7,425.31 862.82,423.04 862.94,424.67 863.06,424.9 863.18,427.29 863.3,424.37 863.42,424.73 863.54,424.24 863.66,424.18 863.78,424.31 863.9,425.95 864.02,424.37 864.14,424.6 864.26,424.87 864.38,424.87 864.5,425.05 864.62,424.56 864.74,425.49 864.86,423.47 864.98,425.14 865.1,426.17 865.22,425.54 865.34,424.82 865.46,424.8 865.58,423.91 865.7,424.58 865.82,424.35 865.94,425.25 866.06,423.65 866.18,424.59 866.3,425.03 866.42,425.72 866.54,424.76 866.66,424.47 866.78,424.79 866.9,424.26 867.02,424.36 867.14,424.69 867.26,424.94 867.38,424 867.5,424.64 867.62,425.66 867.74,424.51 867.86,424.58 867.98,425.52 868.1,424.98 868.22,424.57 868.34,423.98 868.46,424.73 868.58,424.63 868.7,424.32 868.82,424.35 868.94,424.9 869.06,424.23 869.18,424.95 869.3,424.15 869.42,424.42 869.54,424.5 869.66,424.69 869.78,424.67 869.9,423.9 870.02,424.78 870.14,425.35 870.26,424.22 870.38,424.32 870.5,423.8 870.62,425.89 870.74,424.08 870.86,424.64 870.98,423.12 871.1,425.61 871.22,425.23 871.34,424.71" fill="none" stroke="#ff00ff" stroke-width="1.15" stroke-linejoin="round" />
</g>
</svg></body></html>
